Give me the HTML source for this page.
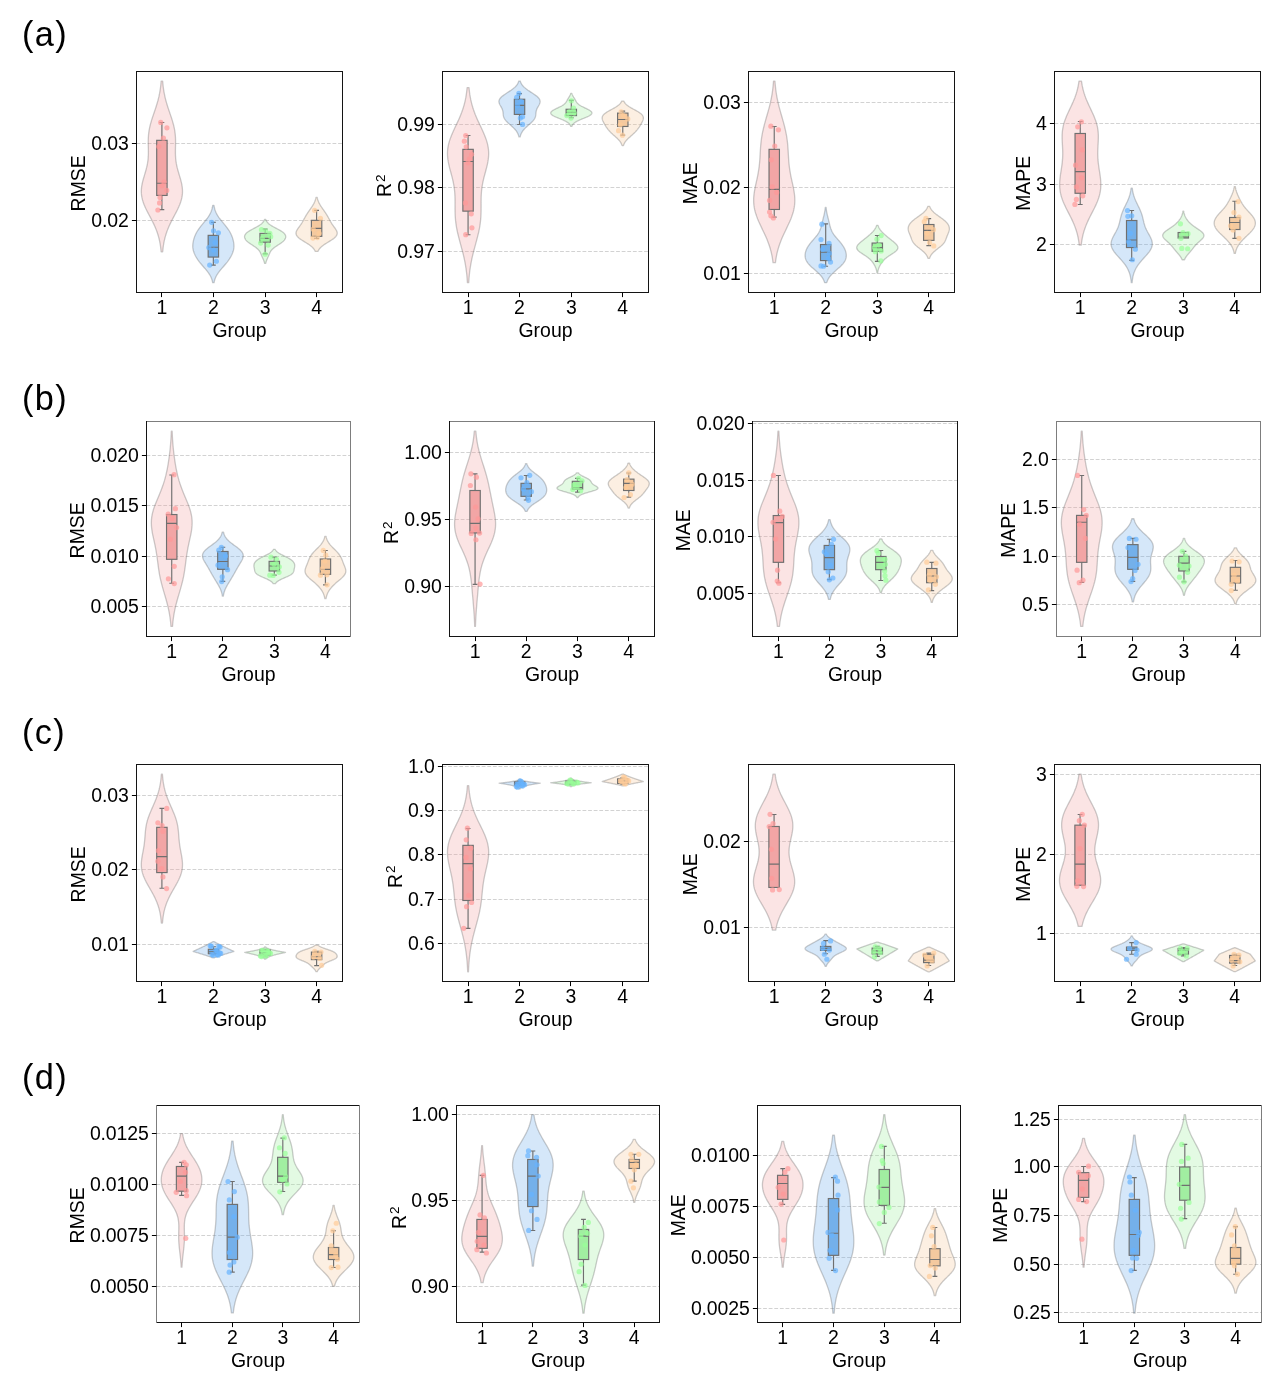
<!DOCTYPE html>
<html lang="en"><head><meta charset="utf-8"><title>Violin plots</title>
<style>html,body{margin:0;padding:0;background:#fff}svg{display:block}text{font-family:"Liberation Sans",sans-serif;fill:#000}.t{font-size:19.44px}.p{font-size:34.3px}.g{stroke:#d0d0d0;stroke-width:0.95;stroke-dasharray:3.8 1.8;fill:none}.ax{fill:none;stroke:#141414;stroke-width:1}.tk{stroke:#000;stroke-width:1}.bx{stroke:#6f6f6f;stroke-width:1.15;fill:none}</style></head><body>
<svg width="1269" height="1378" viewBox="0 0 1269 1378">
<rect width="1269" height="1378" fill="#fff"/>
<text class="p" x="21.9" y="46" letter-spacing="1.4">(a)</text>
<text class="p" x="21.9" y="410" letter-spacing="1.4">(b)</text>
<text class="p" x="21.9" y="744" letter-spacing="1.4">(c)</text>
<text class="p" x="21.9" y="1089" letter-spacing="1.4">(d)</text>
<g id="a1">
<path class="g" d="M136.5 143.5H342.5"/>
<path class="g" d="M136.5 220.5H342.5"/>
<path d="M161.17 81.03 160.99 83.19 160.77 85.35 160.51 87.51 160.2 89.67 159.85 91.83 159.45 93.99 159 96.15 158.49 98.31 157.94 100.48 157.34 102.64 156.7 104.8 156.02 106.96 155.31 109.12 154.58 111.28 153.84 113.44 153.1 115.6 152.38 117.76 151.69 119.92 151.04 122.08 150.44 124.24 149.9 126.41 149.44 128.57 149.05 130.73 148.74 132.89 148.51 135.05 148.36 137.21 148.27 139.37 148.24 141.53 148.25 143.69 148.29 145.85 148.34 148.01 148.38 150.17 148.39 152.34 148.36 154.5 148.27 156.66 148.11 158.82 147.86 160.98 147.54 163.14 147.13 165.3 146.64 167.46 146.09 169.62 145.49 171.78 144.85 173.94 144.2 176.1 143.56 178.27 142.96 180.43 142.42 182.59 141.96 184.75 141.61 186.91 141.39 189.07 141.3 191.23 141.37 193.39 141.58 195.55 141.96 197.71 142.47 199.87 143.13 202.03 143.92 204.19 144.81 206.36 145.8 208.52 146.86 210.68 147.97 212.84 149.1 215 150.25 217.16 151.38 219.32 152.49 221.48 153.55 223.64 154.55 225.8 155.5 227.96 156.37 230.12 157.16 232.29 157.88 234.45 158.52 236.61 159.08 238.77 159.57 240.93 159.99 243.09 160.35 245.25 160.66 247.41 160.91 249.57 161.12 251.73 L162.69 251.73 162.9 249.57 163.15 247.41 163.45 245.25 163.81 243.09 164.24 240.93 164.73 238.77 165.29 236.61 165.93 234.45 166.65 232.29 167.44 230.12 168.31 227.96 169.25 225.8 170.26 223.64 171.32 221.48 172.43 219.32 173.56 217.16 174.7 215 175.84 212.84 176.95 210.68 178.01 208.52 178.99 206.36 179.89 204.19 180.67 202.03 181.33 199.87 181.85 197.71 182.22 195.55 182.44 193.39 182.5 191.23 182.42 189.07 182.2 186.91 181.85 184.75 181.39 182.59 180.85 180.43 180.25 178.27 179.61 176.1 178.96 173.94 178.32 171.78 177.72 169.62 177.16 167.46 176.68 165.3 176.27 163.14 175.94 160.98 175.7 158.82 175.54 156.66 175.45 154.5 175.42 152.34 175.43 150.17 175.47 148.01 175.52 145.85 175.55 143.69 175.57 141.53 175.54 139.37 175.45 137.21 175.29 135.05 175.06 132.89 174.76 130.73 174.37 128.57 173.9 126.41 173.37 124.24 172.77 122.08 172.12 119.92 171.43 117.76 170.71 115.6 169.97 113.44 169.23 111.28 168.5 109.12 167.79 106.96 167.11 104.8 166.47 102.64 165.87 100.48 165.31 98.31 164.81 96.15 164.36 93.99 163.96 91.83 163.61 89.67 163.3 87.51 163.04 85.35 162.82 83.19 162.63 81.03Z" fill="#f2a5a5" fill-opacity="0.3" stroke="#555" stroke-opacity="0.3" stroke-width="1.3" stroke-linejoin="round"/>
<path d="M212.75 205.3 212.59 206.28 212.39 207.26 212.16 208.24 211.9 209.21 211.59 210.19 211.23 211.17 210.83 212.15 210.38 213.13 209.88 214.11 209.33 215.09 208.73 216.07 208.09 217.05 207.41 218.02 206.69 219 205.93 219.98 205.16 220.96 204.36 221.94 203.55 222.92 202.73 223.9 201.92 224.88 201.12 225.86 200.34 226.83 199.58 227.81 198.86 228.79 198.18 229.77 197.54 230.75 196.95 231.73 196.4 232.71 195.89 233.69 195.43 234.67 195.01 235.65 194.63 236.62 194.29 237.6 193.97 238.58 193.7 239.56 193.45 240.54 193.23 241.52 193.05 242.5 192.91 243.48 192.82 244.46 192.76 245.43 192.76 246.41 192.81 247.39 192.91 248.37 193.07 249.35 193.28 250.33 193.55 251.31 193.87 252.29 194.25 253.27 194.67 254.24 195.13 255.22 195.64 256.2 196.19 257.18 196.78 258.16 197.41 259.14 198.08 260.12 198.79 261.1 199.53 262.08 200.31 263.05 201.11 264.03 201.94 265.01 202.78 265.99 203.63 266.97 204.49 267.95 205.33 268.93 206.16 269.91 206.96 270.89 207.72 271.87 208.44 272.84 209.11 273.82 209.73 274.8 210.29 275.78 210.79 276.76 211.23 277.74 211.62 278.72 211.95 279.7 212.23 280.68 212.46 281.65 212.66 282.63 L214.06 282.63 214.25 281.65 214.49 280.68 214.77 279.7 215.1 278.72 215.49 277.74 215.93 276.76 216.43 275.78 216.99 274.8 217.6 273.82 218.27 272.84 219 271.87 219.76 270.89 220.56 269.91 221.39 268.93 222.23 267.95 223.09 266.97 223.94 265.99 224.78 265.01 225.61 264.03 226.41 263.05 227.19 262.08 227.93 261.1 228.63 260.12 229.3 259.14 229.93 258.16 230.53 257.18 231.08 256.2 231.59 255.22 232.05 254.24 232.47 253.27 232.84 252.29 233.17 251.31 233.43 250.33 233.65 249.35 233.81 248.37 233.91 247.39 233.96 246.41 233.95 245.43 233.9 244.46 233.8 243.48 233.66 242.5 233.48 241.52 233.27 240.54 233.02 239.56 232.74 238.58 232.43 237.6 232.08 236.62 231.7 235.65 231.28 234.67 230.82 233.69 230.32 232.71 229.77 231.73 229.17 230.75 228.54 229.77 227.85 228.79 227.13 227.81 226.38 226.83 225.6 225.86 224.8 224.88 223.99 223.9 223.17 222.92 222.36 221.94 221.56 220.96 220.78 219.98 220.03 219 219.31 218.02 218.63 217.05 217.99 216.07 217.39 215.09 216.84 214.11 216.34 213.13 215.89 212.15 215.49 211.17 215.13 210.19 214.82 209.21 214.55 208.24 214.32 207.26 214.13 206.28 213.97 205.3Z" fill="#74b0ea" fill-opacity="0.3" stroke="#555" stroke-opacity="0.3" stroke-width="1.3" stroke-linejoin="round"/>
<path d="M264.48 219.5 264.28 220.05 264.04 220.61 263.74 221.16 263.39 221.72 262.97 222.28 262.48 222.83 261.91 223.39 261.28 223.94 260.56 224.5 259.78 225.06 258.92 225.61 258 226.17 257.03 226.72 256.02 227.28 254.98 227.84 253.92 228.39 252.87 228.95 251.83 229.51 250.82 230.06 249.86 230.62 248.96 231.17 248.13 231.73 247.37 232.29 246.71 232.84 246.12 233.4 245.64 233.95 245.24 234.51 244.93 235.07 244.72 235.62 244.59 236.18 244.55 236.73 244.59 237.29 244.7 237.85 244.9 238.4 245.17 238.96 245.52 239.51 245.93 240.07 246.42 240.63 246.98 241.18 247.59 241.74 248.27 242.29 249 242.85 249.78 243.41 250.59 243.96 251.43 244.52 252.28 245.07 253.13 245.63 253.97 246.19 254.79 246.74 255.58 247.3 256.31 247.86 257 248.41 257.63 248.97 258.19 249.52 258.69 250.08 259.14 250.64 259.53 251.19 259.87 251.75 260.17 252.3 260.44 252.86 260.69 253.42 260.92 253.97 261.15 254.53 261.38 255.08 261.61 255.64 261.85 256.2 262.09 256.75 262.34 257.31 262.6 257.86 262.85 258.42 263.1 258.98 263.34 259.53 263.58 260.09 263.79 260.64 264 261.2 264.18 261.76 264.35 262.31 264.49 262.87 264.62 263.42 L265.68 263.42 265.8 262.87 265.95 262.31 266.11 261.76 266.3 261.2 266.5 260.64 266.72 260.09 266.95 259.53 267.2 258.98 267.45 258.42 267.7 257.86 267.95 257.31 268.2 256.75 268.45 256.2 268.68 255.64 268.91 255.08 269.14 254.53 269.37 253.97 269.61 253.42 269.85 252.86 270.12 252.3 270.43 251.75 270.77 251.19 271.16 250.64 271.6 250.08 272.1 249.52 272.67 248.97 273.3 248.41 273.98 247.86 274.72 247.3 275.5 246.74 276.32 246.19 277.16 245.63 278.02 245.07 278.87 244.52 279.71 243.96 280.52 243.41 281.29 242.85 282.02 242.29 282.7 241.74 283.32 241.18 283.87 240.63 284.36 240.07 284.78 239.51 285.12 238.96 285.39 238.4 285.59 237.85 285.71 237.29 285.75 236.73 285.7 236.18 285.58 235.62 285.36 235.07 285.06 234.51 284.66 233.95 284.17 233.4 283.59 232.84 282.92 232.29 282.17 231.73 281.33 231.17 280.43 230.62 279.47 230.06 278.47 229.51 277.43 228.95 276.37 228.39 275.32 227.84 274.28 227.28 273.26 226.72 272.29 226.17 271.37 225.61 270.52 225.06 269.73 224.5 269.02 223.94 268.38 223.39 267.82 222.83 267.33 222.28 266.91 221.72 266.55 221.16 266.26 220.61 266.01 220.05 265.81 219.5Z" fill="#a1eea1" fill-opacity="0.3" stroke="#555" stroke-opacity="0.3" stroke-width="1.3" stroke-linejoin="round"/>
<path d="M316 197.45 315.86 198.13 315.7 198.81 315.51 199.5 315.3 200.18 315.06 200.86 314.79 201.55 314.49 202.23 314.17 202.91 313.82 203.59 313.44 204.28 313.05 204.96 312.63 205.64 312.19 206.33 311.74 207.01 311.28 207.69 310.81 208.37 310.34 209.06 309.86 209.74 309.38 210.42 308.91 211.11 308.44 211.79 307.97 212.47 307.52 213.16 307.07 213.84 306.64 214.52 306.22 215.2 305.81 215.89 305.41 216.57 305.02 217.25 304.64 217.94 304.27 218.62 303.91 219.3 303.54 219.98 303.17 220.67 302.79 221.35 302.4 222.03 302 222.72 301.58 223.4 301.14 224.08 300.68 224.76 300.21 225.45 299.72 226.13 299.22 226.81 298.72 227.5 298.22 228.18 297.75 228.86 297.3 229.55 296.9 230.23 296.56 230.91 296.29 231.59 296.1 232.28 296 232.96 296.01 233.64 296.14 234.33 296.39 235.01 296.76 235.69 297.25 236.37 297.87 237.06 298.59 237.74 299.42 238.42 300.34 239.11 301.33 239.79 302.38 240.47 303.47 241.15 304.58 241.84 305.7 242.52 306.8 243.2 307.87 243.89 308.89 244.57 309.86 245.25 310.76 245.94 311.59 246.62 312.34 247.3 313.02 247.98 313.62 248.67 314.14 249.35 314.59 250.03 314.98 250.72 315.3 251.4 L317.9 251.4 318.23 250.72 318.61 250.03 319.06 249.35 319.59 248.67 320.18 247.98 320.86 247.3 321.61 246.62 322.44 245.94 323.35 245.25 324.31 244.57 325.34 243.89 326.41 243.2 327.51 242.52 328.62 241.84 329.73 241.15 330.82 240.47 331.87 239.79 332.86 239.11 333.78 238.42 334.61 237.74 335.34 237.06 335.95 236.37 336.44 235.69 336.81 235.01 337.06 234.33 337.19 233.64 337.2 232.96 337.11 232.28 336.92 231.59 336.65 230.91 336.3 230.23 335.9 229.55 335.46 228.86 334.98 228.18 334.49 227.5 333.99 226.81 333.49 226.13 333 225.45 332.52 224.76 332.06 224.08 331.63 223.4 331.2 222.72 330.8 222.03 330.41 221.35 330.04 220.67 329.67 219.98 329.3 219.3 328.93 218.62 328.56 217.94 328.18 217.25 327.8 216.57 327.4 215.89 326.99 215.2 326.57 214.52 326.13 213.84 325.69 213.16 325.23 212.47 324.77 211.79 324.3 211.11 323.82 210.42 323.34 209.74 322.87 209.06 322.39 208.37 321.92 207.69 321.46 207.01 321.01 206.33 320.57 205.64 320.16 204.96 319.76 204.28 319.39 203.59 319.04 202.91 318.71 202.23 318.42 201.55 318.15 200.86 317.91 200.18 317.69 199.5 317.51 198.81 317.35 198.13 317.21 197.45Z" fill="#f4c99f" fill-opacity="0.3" stroke="#555" stroke-opacity="0.3" stroke-width="1.3" stroke-linejoin="round"/>
<rect x="156.7" y="140.32" width="10.4" height="55.12" fill="#f2a5a5" stroke="#6f6f6f" stroke-width="1.15"/>
<path class="bx" d="M156.7 183.25H167.1M161.9 140.32V122.45M159.5 122.45H164.3M161.9 195.44V209.64M159.5 209.64H164.3"/>
<rect x="208.16" y="235.36" width="10.4" height="21.71" fill="#74b0ea" stroke="#6f6f6f" stroke-width="1.15"/>
<path class="bx" d="M208.16 247.22H218.56M213.36 235.36V222.34M210.96 222.34H215.76M213.36 257.08V265.1M210.96 265.1H215.76"/>
<rect x="259.95" y="233.36" width="10.4" height="8.85" fill="#a1eea1" stroke="#6f6f6f" stroke-width="1.15"/>
<path class="bx" d="M259.95 238.37H270.35M265.15 233.36V229.18M262.75 229.18H267.55M265.15 242.21V253.9M262.75 253.9H267.55"/>
<rect x="311.4" y="220.33" width="10.4" height="16.03" fill="#f4c99f" stroke="#6f6f6f" stroke-width="1.15"/>
<path class="bx" d="M311.4 228.35H321.8M316.6 220.33V210.31M314.2 210.31H319M316.6 236.37V238.37M314.2 238.37H319"/>
<g fill="#ff9999" fill-opacity="0.7">
<circle cx="160.73" cy="122.45" r="2.6"/>
<circle cx="166.92" cy="127.8" r="2.6"/>
<circle cx="163.41" cy="138.15" r="2.6"/>
<circle cx="158.73" cy="146.5" r="2.6"/>
<circle cx="164.08" cy="182.08" r="2.6"/>
<circle cx="162.07" cy="185.76" r="2.6"/>
<circle cx="166.75" cy="190.43" r="2.6"/>
<circle cx="160.07" cy="197.45" r="2.6"/>
<circle cx="159.57" cy="202.96" r="2.6"/>
<circle cx="157.89" cy="209.98" r="2.6"/>
</g>
<g fill="#66b3ff" fill-opacity="0.7">
<circle cx="211.69" cy="222.34" r="2.6"/>
<circle cx="213.53" cy="230.85" r="2.6"/>
<circle cx="218.37" cy="232.86" r="2.6"/>
<circle cx="215.03" cy="242.55" r="2.6"/>
<circle cx="208.85" cy="247.56" r="2.6"/>
<circle cx="213.86" cy="250.06" r="2.6"/>
<circle cx="216.37" cy="261.25" r="2.6"/>
<circle cx="209.68" cy="265.1" r="2.6"/>
</g>
<g fill="#99ff99" fill-opacity="0.7">
<circle cx="261.47" cy="229.68" r="2.6"/>
<circle cx="265.65" cy="230.85" r="2.6"/>
<circle cx="269.83" cy="233.36" r="2.6"/>
<circle cx="270.66" cy="236.7" r="2.6"/>
<circle cx="262.31" cy="238.37" r="2.6"/>
<circle cx="260.64" cy="243.05" r="2.6"/>
<circle cx="268.15" cy="245.05" r="2.6"/>
<circle cx="265.15" cy="254.24" r="2.6"/>
</g>
<g fill="#ffcc99" fill-opacity="0.7">
<circle cx="314.6" cy="210.31" r="2.6"/>
<circle cx="320.44" cy="218.33" r="2.6"/>
<circle cx="313.26" cy="229.18" r="2.6"/>
<circle cx="319.11" cy="233.36" r="2.6"/>
<circle cx="312.93" cy="238.04" r="2.6"/>
<circle cx="317.44" cy="237.54" r="2.6"/>
</g>
<path class="ax" d="M136 71.5H343"/>
<path class="ax" d="M136 292.5H343"/>
<path class="ax" d="M136.5 71V293"/>
<path class="ax" d="M342.5 71V293"/>
<path class="tk" d="M131.9 143.5H136.5"/>
<text class="t" text-anchor="end" letter-spacing="-0.13" x="128.6" y="150.3">0.03</text>
<path class="tk" d="M131.9 220.5H136.5"/>
<text class="t" text-anchor="end" letter-spacing="-0.13" x="128.6" y="227.3">0.02</text>
<path class="tk" d="M161.5 292.5V297.1"/>
<text class="t" text-anchor="middle" x="161.9" y="314.4">1</text>
<path class="tk" d="M213.5 292.5V297.1"/>
<text class="t" text-anchor="middle" x="213.36" y="314.4">2</text>
<path class="tk" d="M265.5 292.5V297.1"/>
<text class="t" text-anchor="middle" x="265.15" y="314.4">3</text>
<path class="tk" d="M316.5 292.5V297.1"/>
<text class="t" text-anchor="middle" x="316.6" y="314.4">4</text>
<text class="t" text-anchor="middle" x="239.5" y="337.1">Group</text>
<text class="t" text-anchor="middle" transform="translate(84.57 183.3) rotate(-90)" x="0" y="0">RMSE</text>
</g>
<g id="a2">
<path class="g" d="M442.5 124.5H648.5"/>
<path class="g" d="M442.5 187.5H648.5"/>
<path class="g" d="M442.5 251.5H648.5"/>
<path d="M467.13 87.54 466.88 90.01 466.59 92.48 466.23 94.95 465.82 97.42 465.33 99.89 464.77 102.36 464.13 104.83 463.41 107.3 462.61 109.77 461.73 112.24 460.77 114.71 459.75 117.18 458.67 119.65 457.54 122.12 456.39 124.59 455.23 127.05 454.07 129.52 452.94 131.99 451.87 134.46 450.88 136.93 449.98 139.4 449.2 141.87 448.55 144.34 448.04 146.81 447.69 149.28 447.5 151.75 447.47 154.22 447.59 156.69 447.84 159.16 448.22 161.63 448.71 164.1 449.28 166.57 449.91 169.04 450.57 171.51 451.24 173.98 451.89 176.44 452.51 178.91 453.08 181.38 453.59 183.85 454.01 186.32 454.36 188.79 454.63 191.26 454.82 193.73 454.95 196.2 455.02 198.67 455.05 201.14 455.05 203.61 455.04 206.08 455.04 208.55 455.07 211.02 455.12 213.49 455.23 215.96 455.39 218.43 455.62 220.9 455.91 223.37 456.27 225.83 456.7 228.3 457.18 230.77 457.73 233.24 458.32 235.71 458.94 238.18 459.6 240.65 460.26 243.12 460.94 245.59 461.61 248.06 462.26 250.53 462.9 253 463.5 255.47 464.07 257.94 464.6 260.41 465.08 262.88 465.52 265.35 465.91 267.82 466.26 270.29 466.57 272.76 466.84 275.22 467.06 277.69 467.26 280.16 467.42 282.63 L468.72 282.63 468.88 280.16 469.07 277.69 469.3 275.22 469.57 272.76 469.87 270.29 470.22 267.82 470.62 265.35 471.06 262.88 471.54 260.41 472.07 257.94 472.64 255.47 473.24 253 473.87 250.53 474.53 248.06 475.2 245.59 475.87 243.12 476.54 240.65 477.19 238.18 477.82 235.71 478.41 233.24 478.95 230.77 479.44 228.3 479.87 225.83 480.23 223.37 480.52 220.9 480.75 218.43 480.91 215.96 481.01 213.49 481.07 211.02 481.09 208.55 481.09 206.08 481.09 203.61 481.09 201.14 481.12 198.67 481.19 196.2 481.32 193.73 481.51 191.26 481.78 188.79 482.12 186.32 482.55 183.85 483.05 181.38 483.62 178.91 484.24 176.44 484.9 173.98 485.57 171.51 486.23 169.04 486.86 166.57 487.43 164.1 487.91 161.63 488.29 159.16 488.55 156.69 488.67 154.22 488.63 151.75 488.44 149.28 488.09 146.81 487.59 144.34 486.94 141.87 486.16 139.4 485.26 136.93 484.26 134.46 483.19 131.99 482.07 129.52 480.91 127.05 479.75 124.59 478.59 122.12 477.47 119.65 476.39 117.18 475.36 114.71 474.41 112.24 473.53 109.77 472.73 107.3 472.01 104.83 471.37 102.36 470.81 99.89 470.32 97.42 469.9 94.95 469.55 92.48 469.25 90.01 469.01 87.54Z" fill="#f2a5a5" fill-opacity="0.3" stroke="#555" stroke-opacity="0.3" stroke-width="1.3" stroke-linejoin="round"/>
<path d="M518.75 81.03 518.53 81.73 518.27 82.44 517.95 83.15 517.58 83.85 517.14 84.56 516.63 85.27 516.05 85.97 515.4 86.68 514.67 87.38 513.87 88.09 513 88.8 512.06 89.5 511.07 90.21 510.04 90.91 508.97 91.62 507.88 92.33 506.79 93.03 505.72 93.74 504.67 94.45 503.67 95.15 502.74 95.86 501.88 96.56 501.12 97.27 500.46 97.98 499.91 98.68 499.48 99.39 499.17 100.1 498.99 100.8 498.92 101.51 498.97 102.21 499.12 102.92 499.35 103.63 499.66 104.33 500.01 105.04 500.41 105.74 500.82 106.45 501.22 107.16 501.61 107.86 501.96 108.57 502.26 109.28 502.52 109.98 502.73 110.69 502.88 111.39 502.99 112.1 503.07 112.81 503.14 113.51 503.2 114.22 503.27 114.92 503.38 115.63 503.53 116.34 503.73 117.04 504 117.75 504.34 118.46 504.76 119.16 505.26 119.87 505.82 120.57 506.44 121.28 507.13 121.99 507.85 122.69 508.62 123.4 509.4 124.11 510.2 124.81 510.99 125.52 511.78 126.22 512.55 126.93 513.29 127.64 514 128.34 514.66 129.05 515.29 129.75 515.86 130.46 516.39 131.17 516.86 131.87 517.29 132.58 517.66 133.29 517.99 133.99 518.28 134.7 518.52 135.4 518.72 136.11 518.89 136.82 L520.16 136.82 520.33 136.11 520.53 135.4 520.77 134.7 521.05 133.99 521.38 133.29 521.76 132.58 522.18 131.87 522.66 131.17 523.19 130.46 523.76 129.75 524.38 129.05 525.05 128.34 525.76 127.64 526.5 126.93 527.27 126.22 528.05 125.52 528.85 124.81 529.65 124.11 530.43 123.4 531.19 122.69 531.92 121.99 532.6 121.28 533.23 120.57 533.79 119.87 534.28 119.16 534.7 118.46 535.05 117.75 535.32 117.04 535.52 116.34 535.67 115.63 535.77 114.92 535.85 114.22 535.91 113.51 535.97 112.81 536.05 112.1 536.17 111.39 536.32 110.69 536.53 109.98 536.78 109.28 537.09 108.57 537.44 107.86 537.83 107.16 538.23 106.45 538.64 105.74 539.03 105.04 539.39 104.33 539.7 103.63 539.93 102.92 540.08 102.21 540.12 101.51 540.06 100.8 539.87 100.1 539.57 99.39 539.14 98.68 538.59 97.98 537.93 97.27 537.16 96.56 536.31 95.86 535.37 95.15 534.37 94.45 533.33 93.74 532.25 93.03 531.16 92.33 530.08 91.62 529.01 90.91 527.97 90.21 526.99 89.5 526.05 88.8 525.18 88.09 524.38 87.38 523.65 86.68 522.99 85.97 522.41 85.27 521.91 84.56 521.47 83.85 521.09 83.15 520.78 82.44 520.51 81.73 520.3 81.03Z" fill="#74b0ea" fill-opacity="0.3" stroke="#555" stroke-opacity="0.3" stroke-width="1.3" stroke-linejoin="round"/>
<path d="M570.72 93.39 570.59 93.81 570.45 94.23 570.28 94.64 570.1 95.06 569.9 95.48 569.69 95.9 569.46 96.32 569.22 96.74 568.97 97.16 568.72 97.57 568.46 97.99 568.21 98.41 567.96 98.83 567.71 99.25 567.47 99.67 567.24 100.09 567.01 100.51 566.77 100.92 566.53 101.34 566.28 101.76 566 102.18 565.71 102.6 565.37 103.02 565 103.44 564.57 103.85 564.1 104.27 563.56 104.69 562.97 105.11 562.31 105.53 561.6 105.95 560.84 106.37 560.03 106.78 559.19 107.2 558.32 107.62 557.44 108.04 556.56 108.46 555.7 108.88 554.86 109.3 554.06 109.72 553.33 110.13 552.66 110.55 552.08 110.97 551.59 111.39 551.2 111.81 550.92 112.23 550.76 112.65 550.71 113.06 550.79 113.48 550.99 113.9 551.31 114.32 551.75 114.74 552.29 115.16 552.94 115.58 553.68 115.99 554.5 116.41 555.38 116.83 556.33 117.25 557.31 117.67 558.33 118.09 559.35 118.51 560.38 118.93 561.39 119.34 562.38 119.76 563.34 120.18 564.24 120.6 565.1 121.02 565.9 121.44 566.63 121.86 567.3 122.27 567.9 122.69 568.44 123.11 568.92 123.53 569.33 123.95 569.69 124.37 569.99 124.79 570.25 125.2 570.47 125.62 570.65 126.04 570.79 126.46 L571.83 126.46 571.98 126.04 572.16 125.62 572.37 125.2 572.63 124.79 572.94 124.37 573.29 123.95 573.71 123.53 574.18 123.11 574.72 122.69 575.32 122.27 575.99 121.86 576.73 121.44 577.53 121.02 578.38 120.6 579.29 120.18 580.24 119.76 581.23 119.34 582.24 118.93 583.27 118.51 584.3 118.09 585.31 117.67 586.3 117.25 587.24 116.83 588.13 116.41 588.95 115.99 589.69 115.58 590.33 115.16 590.88 114.74 591.31 114.32 591.63 113.9 591.83 113.48 591.91 113.06 591.87 112.65 591.71 112.23 591.43 111.81 591.04 111.39 590.55 110.97 589.96 110.55 589.3 110.13 588.56 109.72 587.77 109.3 586.93 108.88 586.06 108.46 585.18 108.04 584.3 107.62 583.43 107.2 582.59 106.78 581.78 106.37 581.02 105.95 580.31 105.53 579.66 105.11 579.06 104.69 578.53 104.27 578.05 103.85 577.63 103.44 577.25 103.02 576.92 102.6 576.62 102.18 576.35 101.76 576.09 101.34 575.85 100.92 575.62 100.51 575.39 100.09 575.15 99.67 574.91 99.25 574.67 98.83 574.42 98.41 574.16 97.99 573.91 97.57 573.65 97.16 573.41 96.74 573.17 96.32 572.94 95.9 572.72 95.48 572.52 95.06 572.34 94.64 572.18 94.23 572.03 93.81 571.9 93.39Z" fill="#a1eea1" fill-opacity="0.3" stroke="#555" stroke-opacity="0.3" stroke-width="1.3" stroke-linejoin="round"/>
<path d="M621.75 101.07 621.48 101.64 621.17 102.2 620.8 102.77 620.37 103.33 619.87 103.89 619.3 104.46 618.66 105.02 617.95 105.59 617.17 106.15 616.33 106.72 615.42 107.28 614.47 107.85 613.47 108.41 612.45 108.98 611.41 109.54 610.37 110.1 609.34 110.67 608.35 111.23 607.39 111.8 606.49 112.36 605.66 112.93 604.91 113.49 604.25 114.06 603.67 114.62 603.19 115.18 602.81 115.75 602.52 116.31 602.32 116.88 602.2 117.44 602.17 118.01 602.2 118.57 602.29 119.14 602.44 119.7 602.62 120.27 602.84 120.83 603.09 121.39 603.37 121.96 603.65 122.52 603.95 123.09 604.26 123.65 604.58 124.22 604.9 124.78 605.24 125.35 605.58 125.91 605.93 126.48 606.29 127.04 606.67 127.6 607.07 128.17 607.48 128.73 607.91 129.3 608.37 129.86 608.84 130.43 609.34 130.99 609.86 131.56 610.4 132.12 610.96 132.68 611.54 133.25 612.14 133.81 612.75 134.38 613.38 134.94 614.01 135.51 614.65 136.07 615.28 136.64 615.92 137.2 616.54 137.77 617.14 138.33 617.73 138.89 618.28 139.46 618.81 140.02 619.31 140.59 619.77 141.15 620.19 141.72 620.57 142.28 620.91 142.85 621.22 143.41 621.48 143.98 621.72 144.54 621.91 145.1 622.08 145.67 L623.45 145.67 623.62 145.1 623.82 144.54 624.05 143.98 624.32 143.41 624.62 142.85 624.96 142.28 625.34 141.72 625.77 141.15 626.22 140.59 626.72 140.02 627.25 139.46 627.81 138.89 628.39 138.33 629 137.77 629.62 137.2 630.25 136.64 630.89 136.07 631.52 135.51 632.16 134.94 632.78 134.38 633.4 133.81 633.99 133.25 634.57 132.68 635.14 132.12 635.68 131.56 636.2 130.99 636.69 130.43 637.17 129.86 637.62 129.3 638.05 128.73 638.47 128.17 638.86 127.6 639.24 127.04 639.6 126.48 639.96 125.91 640.3 125.35 640.63 124.78 640.96 124.22 641.27 123.65 641.58 123.09 641.88 122.52 642.17 121.96 642.44 121.39 642.69 120.83 642.91 120.27 643.1 119.7 643.24 119.14 643.34 118.57 643.37 118.01 643.33 117.44 643.21 116.88 643.01 116.31 642.72 115.75 642.34 115.18 641.86 114.62 641.29 114.06 640.62 113.49 639.87 112.93 639.04 112.36 638.14 111.8 637.19 111.23 636.19 110.67 635.16 110.1 634.12 109.54 633.08 108.98 632.06 108.41 631.06 107.85 630.11 107.28 629.21 106.72 628.36 106.15 627.58 105.59 626.87 105.02 626.23 104.46 625.67 103.89 625.17 103.33 624.73 102.77 624.36 102.2 624.05 101.64 623.79 101.07Z" fill="#f4c99f" fill-opacity="0.3" stroke="#555" stroke-opacity="0.3" stroke-width="1.3" stroke-linejoin="round"/>
<rect x="462.87" y="149.34" width="10.4" height="61.8" fill="#f2a5a5" stroke="#6f6f6f" stroke-width="1.15"/>
<path class="bx" d="M462.87 161.54H473.27M468.07 149.34V135.48M465.67 135.48H470.47M468.07 211.14V234.7M465.67 234.7H470.47"/>
<rect x="514.32" y="99.23" width="10.4" height="15.2" fill="#74b0ea" stroke="#6f6f6f" stroke-width="1.15"/>
<path class="bx" d="M514.32 105.41H524.72M519.52 99.23V93.56M517.12 93.56H521.92M519.52 114.43V124.46M517.12 124.46H521.92"/>
<rect x="566.11" y="109.26" width="10.4" height="6.35" fill="#a1eea1" stroke="#6f6f6f" stroke-width="1.15"/>
<path class="bx" d="M566.11 112.43H576.51M571.31 109.26V100.4M568.91 100.4H573.71M571.31 115.6V117.77M568.91 117.77H573.71"/>
<rect x="617.57" y="113.1" width="10.4" height="13.36" fill="#f4c99f" stroke="#6f6f6f" stroke-width="1.15"/>
<path class="bx" d="M617.57 119.45H627.97M622.77 113.1V111.09M620.37 111.09H625.17M622.77 126.46V135.15M620.37 135.15H625.17"/>
<g fill="#ff9999" fill-opacity="0.7">
<circle cx="465.73" cy="135.48" r="2.6"/>
<circle cx="464.39" cy="141.16" r="2.6"/>
<circle cx="466.23" cy="146.84" r="2.6"/>
<circle cx="471.58" cy="154.35" r="2.6"/>
<circle cx="469.41" cy="159.03" r="2.6"/>
<circle cx="467.9" cy="162.87" r="2.6"/>
<circle cx="465.4" cy="202.96" r="2.6"/>
<circle cx="471.24" cy="213.82" r="2.6"/>
<circle cx="471.91" cy="227.85" r="2.6"/>
<circle cx="465.73" cy="234.7" r="2.6"/>
</g>
<g fill="#66b3ff" fill-opacity="0.7">
<circle cx="518.86" cy="93.39" r="2.6"/>
<circle cx="516.68" cy="97.23" r="2.6"/>
<circle cx="520.86" cy="101.41" r="2.6"/>
<circle cx="517.52" cy="105.58" r="2.6"/>
<circle cx="522.53" cy="116.77" r="2.6"/>
<circle cx="520.36" cy="118.11" r="2.6"/>
<circle cx="522.53" cy="124.46" r="2.6"/>
</g>
<g fill="#99ff99" fill-opacity="0.7">
<circle cx="571.31" cy="100.74" r="2.6"/>
<circle cx="573.48" cy="108.09" r="2.6"/>
<circle cx="574.32" cy="113.1" r="2.6"/>
<circle cx="566.8" cy="115.6" r="2.6"/>
<circle cx="570.98" cy="118.11" r="2.6"/>
<circle cx="569.31" cy="111.76" r="2.6"/>
</g>
<g fill="#ffcc99" fill-opacity="0.7">
<circle cx="621.1" cy="111.76" r="2.6"/>
<circle cx="627.78" cy="118.94" r="2.6"/>
<circle cx="620.26" cy="124.79" r="2.6"/>
<circle cx="618.59" cy="130.64" r="2.6"/>
<circle cx="622.43" cy="135.15" r="2.6"/>
<circle cx="623.6" cy="115.6" r="2.6"/>
</g>
<path class="ax" d="M442 71.5H649"/>
<path class="ax" d="M442 292.5H649"/>
<path class="ax" d="M442.5 71V293"/>
<path class="ax" d="M648.5 71V293"/>
<path class="tk" d="M437.9 124.5H442.5"/>
<text class="t" text-anchor="end" letter-spacing="-0.13" x="434.6" y="131.3">0.99</text>
<path class="tk" d="M437.9 187.5H442.5"/>
<text class="t" text-anchor="end" letter-spacing="-0.13" x="434.6" y="194.3">0.98</text>
<path class="tk" d="M437.9 251.5H442.5"/>
<text class="t" text-anchor="end" letter-spacing="-0.13" x="434.6" y="258.3">0.97</text>
<path class="tk" d="M468.5 292.5V297.1"/>
<text class="t" text-anchor="middle" x="468.07" y="314.4">1</text>
<path class="tk" d="M519.5 292.5V297.1"/>
<text class="t" text-anchor="middle" x="519.52" y="314.4">2</text>
<path class="tk" d="M571.5 292.5V297.1"/>
<text class="t" text-anchor="middle" x="571.31" y="314.4">3</text>
<path class="tk" d="M622.5 292.5V297.1"/>
<text class="t" text-anchor="middle" x="622.77" y="314.4">4</text>
<text class="t" text-anchor="middle" x="545.5" y="337.1">Group</text>
<text class="t" transform="translate(391.27 196.9) rotate(-90)" x="0" y="0">R<tspan dx="0.8" dy="-6.7" font-size="13.6px">2</tspan></text>
</g>
<g id="a3">
<path class="g" d="M748.5 102.5H954.5"/>
<path class="g" d="M748.5 187.5H954.5"/>
<path class="g" d="M748.5 273.5H954.5"/>
<path d="M773.52 81.03 773.35 83.33 773.14 85.62 772.9 87.92 772.62 90.22 772.3 92.52 771.94 94.82 771.54 97.12 771.09 99.41 770.6 101.71 770.07 104.01 769.5 106.31 768.9 108.61 768.27 110.91 767.62 113.2 766.96 115.5 766.3 117.8 765.64 120.1 765 122.4 764.38 124.69 763.79 126.99 763.24 129.29 762.73 131.59 762.27 133.89 761.86 136.19 761.5 138.48 761.2 140.78 760.94 143.08 760.72 145.38 760.54 147.68 760.39 149.98 760.25 152.27 760.12 154.57 759.99 156.87 759.84 159.17 759.67 161.47 759.46 163.77 759.22 166.06 758.92 168.36 758.58 170.66 758.19 172.96 757.76 175.26 757.3 177.55 756.81 179.85 756.3 182.15 755.79 184.45 755.3 186.75 754.84 189.05 754.44 191.34 754.1 193.64 753.84 195.94 753.68 198.24 753.64 200.54 753.71 202.84 753.9 205.13 754.23 207.43 754.68 209.73 755.26 212.03 755.95 214.33 756.75 216.62 757.64 218.92 758.6 221.22 759.63 223.52 760.7 225.82 761.8 228.12 762.9 230.41 764 232.71 765.06 235.01 766.09 237.31 767.07 239.61 767.98 241.91 768.83 244.2 769.6 246.5 770.31 248.8 770.93 251.1 771.48 253.4 771.96 255.69 772.38 257.99 772.73 260.29 773.03 262.59 L775.44 262.59 775.74 260.29 776.09 257.99 776.51 255.69 776.99 253.4 777.54 251.1 778.17 248.8 778.87 246.5 779.64 244.2 780.49 241.91 781.41 239.61 782.38 237.31 783.41 235.01 784.48 232.71 785.57 230.41 786.67 228.12 787.77 225.82 788.84 223.52 789.87 221.22 790.84 218.92 791.73 216.62 792.52 214.33 793.22 212.03 793.79 209.73 794.24 207.43 794.57 205.13 794.76 202.84 794.84 200.54 794.79 198.24 794.63 195.94 794.37 193.64 794.03 191.34 793.63 189.05 793.17 186.75 792.68 184.45 792.17 182.15 791.67 179.85 791.17 177.55 790.71 175.26 790.28 172.96 789.89 170.66 789.55 168.36 789.26 166.06 789.01 163.77 788.8 161.47 788.63 159.17 788.48 156.87 788.35 154.57 788.22 152.27 788.08 149.98 787.93 147.68 787.75 145.38 787.53 143.08 787.27 140.78 786.97 138.48 786.61 136.19 786.2 133.89 785.74 131.59 785.23 129.29 784.68 126.99 784.09 124.69 783.47 122.4 782.83 120.1 782.17 117.8 781.51 115.5 780.85 113.2 780.2 110.91 779.57 108.61 778.97 106.31 778.41 104.01 777.87 101.71 777.38 99.41 776.93 97.12 776.53 94.82 776.17 92.52 775.85 90.22 775.57 87.92 775.33 85.62 775.12 83.33 774.95 81.03Z" fill="#f2a5a5" fill-opacity="0.3" stroke="#555" stroke-opacity="0.3" stroke-width="1.3" stroke-linejoin="round"/>
<path d="M825.3 207.47 825.2 208.42 825.09 209.37 824.95 210.32 824.8 211.28 824.63 212.23 824.44 213.18 824.23 214.13 824.01 215.08 823.79 216.03 823.55 216.98 823.31 217.94 823.07 218.89 822.83 219.84 822.6 220.79 822.37 221.74 822.15 222.69 821.92 223.64 821.7 224.6 821.47 225.55 821.22 226.5 820.96 227.45 820.66 228.4 820.32 229.35 819.93 230.3 819.5 231.26 819 232.21 818.45 233.16 817.83 234.11 817.16 235.06 816.44 236.01 815.67 236.96 814.87 237.92 814.05 238.87 813.22 239.82 812.39 240.77 811.57 241.72 810.78 242.67 810.02 243.62 809.3 244.58 808.64 245.53 808.02 246.48 807.46 247.43 806.95 248.38 806.51 249.33 806.12 250.28 805.79 251.24 805.52 252.19 805.31 253.14 805.17 254.09 805.09 255.04 805.09 255.99 805.17 256.94 805.32 257.9 805.57 258.85 805.91 259.8 806.35 260.75 806.89 261.7 807.53 262.65 808.26 263.6 809.09 264.56 809.99 265.51 810.97 266.46 812 267.41 813.07 268.36 814.17 269.31 815.26 270.26 816.35 271.22 817.4 272.17 818.42 273.12 819.37 274.07 820.26 275.02 821.07 275.97 821.81 276.92 822.46 277.88 823.04 278.83 823.54 279.78 823.96 280.73 824.32 281.68 824.61 282.63 L826.77 282.63 827.06 281.68 827.42 280.73 827.84 279.78 828.34 278.83 828.92 277.88 829.57 276.92 830.31 275.97 831.12 275.02 832.01 274.07 832.96 273.12 833.98 272.17 835.03 271.22 836.12 270.26 837.22 269.31 838.31 268.36 839.38 267.41 840.41 266.46 841.39 265.51 842.29 264.56 843.12 263.6 843.85 262.65 844.49 261.7 845.03 260.75 845.47 259.8 845.81 258.85 846.06 257.9 846.22 256.94 846.29 255.99 846.29 255.04 846.21 254.09 846.07 253.14 845.86 252.19 845.59 251.24 845.26 250.28 844.87 249.33 844.43 248.38 843.92 247.43 843.36 246.48 842.75 245.53 842.08 244.58 841.36 243.62 840.6 242.67 839.81 241.72 838.99 240.77 838.16 239.82 837.33 238.87 836.51 237.92 835.71 236.96 834.94 236.01 834.22 235.06 833.55 234.11 832.93 233.16 832.38 232.21 831.88 231.26 831.45 230.3 831.06 229.35 830.72 228.4 830.43 227.45 830.16 226.5 829.91 225.55 829.68 224.6 829.46 223.64 829.23 222.69 829.01 221.74 828.78 220.79 828.55 219.84 828.31 218.89 828.07 217.94 827.83 216.98 827.6 216.03 827.37 215.08 827.15 214.13 826.94 213.18 826.75 212.23 826.58 211.28 826.43 210.32 826.29 209.37 826.18 208.42 826.08 207.47Z" fill="#74b0ea" fill-opacity="0.3" stroke="#555" stroke-opacity="0.3" stroke-width="1.3" stroke-linejoin="round"/>
<path d="M876.55 225.34 876.37 225.94 876.16 226.55 875.91 227.15 875.63 227.75 875.31 228.35 874.95 228.96 874.55 229.56 874.11 230.16 873.64 230.77 873.13 231.37 872.58 231.97 872 232.57 871.39 233.18 870.75 233.78 870.1 234.38 869.42 234.98 868.72 235.59 868.01 236.19 867.29 236.79 866.56 237.39 865.81 238 865.06 238.6 864.3 239.2 863.55 239.8 862.79 240.41 862.04 241.01 861.3 241.61 860.58 242.21 859.89 242.82 859.24 243.42 858.64 244.02 858.09 244.62 857.63 245.23 857.24 245.83 856.96 246.43 856.78 247.03 856.71 247.64 856.77 248.24 856.95 248.84 857.25 249.45 857.67 250.05 858.21 250.65 858.85 251.25 859.58 251.86 860.38 252.46 861.25 253.06 862.15 253.66 863.08 254.27 864.02 254.87 864.94 255.47 865.85 256.07 866.72 256.68 867.56 257.28 868.34 257.88 869.07 258.48 869.76 259.09 870.39 259.69 870.97 260.29 871.51 260.89 872.02 261.5 872.48 262.1 872.92 262.7 873.33 263.3 873.72 263.91 874.08 264.51 874.42 265.11 874.75 265.71 875.05 266.32 875.33 266.92 875.59 267.52 875.83 268.12 876.05 268.73 876.25 269.33 876.42 269.93 876.57 270.54 876.71 271.14 876.82 271.74 876.92 272.34 877 272.95 L877.62 272.95 877.7 272.34 877.8 271.74 877.92 271.14 878.05 270.54 878.2 269.93 878.38 269.33 878.57 268.73 878.79 268.12 879.03 267.52 879.29 266.92 879.58 266.32 879.88 265.71 880.2 265.11 880.54 264.51 880.91 263.91 881.29 263.3 881.7 262.7 882.14 262.1 882.61 261.5 883.11 260.89 883.65 260.29 884.24 259.69 884.87 259.09 885.55 258.48 886.28 257.88 887.07 257.28 887.9 256.68 888.77 256.07 889.68 255.47 890.61 254.87 891.54 254.27 892.47 253.66 893.38 253.06 894.24 252.46 895.05 251.86 895.78 251.25 896.42 250.65 896.95 250.05 897.37 249.45 897.68 248.84 897.86 248.24 897.91 247.64 897.85 247.03 897.67 246.43 897.38 245.83 897 245.23 896.53 244.62 895.99 244.02 895.39 243.42 894.73 242.82 894.04 242.21 893.32 241.61 892.59 241.01 891.84 240.41 891.08 239.8 890.32 239.2 889.56 238.6 888.81 238 888.07 237.39 887.33 236.79 886.61 236.19 885.9 235.59 885.2 234.98 884.53 234.38 883.87 233.78 883.23 233.18 882.63 232.57 882.05 231.97 881.5 231.37 880.99 230.77 880.51 230.16 880.07 229.56 879.67 228.96 879.31 228.35 878.99 227.75 878.71 227.15 878.47 226.55 878.25 225.94 878.07 225.34Z" fill="#a1eea1" fill-opacity="0.3" stroke="#555" stroke-opacity="0.3" stroke-width="1.3" stroke-linejoin="round"/>
<path d="M927.84 206.3 927.6 206.96 927.32 207.62 926.99 208.28 926.61 208.94 926.17 209.6 925.67 210.26 925.11 210.92 924.48 211.58 923.8 212.24 923.07 212.9 922.28 213.56 921.44 214.22 920.57 214.88 919.67 215.54 918.76 216.2 917.83 216.86 916.91 217.51 916 218.17 915.11 218.83 914.25 219.49 913.43 220.15 912.66 220.81 911.94 221.47 911.28 222.13 910.68 222.79 910.14 223.45 909.66 224.11 909.25 224.77 908.91 225.43 908.63 226.09 908.42 226.75 908.27 227.41 908.19 228.07 908.17 228.73 908.2 229.39 908.29 230.05 908.43 230.71 908.61 231.37 908.82 232.03 909.06 232.69 909.32 233.35 909.59 234.01 909.86 234.67 910.13 235.33 910.39 235.99 910.64 236.65 910.89 237.3 911.13 237.96 911.37 238.62 911.62 239.28 911.89 239.94 912.18 240.6 912.5 241.26 912.87 241.92 913.3 242.58 913.78 243.24 914.32 243.9 914.92 244.56 915.59 245.22 916.3 245.88 917.07 246.54 917.87 247.2 918.71 247.86 919.55 248.52 920.4 249.18 921.24 249.84 922.05 250.5 922.84 251.16 923.58 251.82 924.27 252.48 924.91 253.14 925.49 253.8 926.01 254.46 926.47 255.12 926.87 255.78 927.22 256.43 927.52 257.09 927.77 257.75 927.97 258.41 L929.56 258.41 929.77 257.75 930.02 257.09 930.32 256.43 930.66 255.78 931.07 255.12 931.53 254.46 932.05 253.8 932.63 253.14 933.27 252.48 933.96 251.82 934.7 251.16 935.48 250.5 936.3 249.84 937.13 249.18 937.98 248.52 938.83 247.86 939.66 247.2 940.46 246.54 941.23 245.88 941.95 245.22 942.61 244.56 943.22 243.9 943.76 243.24 944.24 242.58 944.66 241.92 945.03 241.26 945.36 240.6 945.65 239.94 945.91 239.28 946.16 238.62 946.4 237.96 946.64 237.3 946.89 236.65 947.14 235.99 947.41 235.33 947.68 234.67 947.95 234.01 948.22 233.35 948.47 232.69 948.71 232.03 948.93 231.37 949.11 230.71 949.24 230.05 949.33 229.39 949.37 228.73 949.34 228.07 949.26 227.41 949.11 226.75 948.9 226.09 948.62 225.43 948.28 224.77 947.87 224.11 947.39 223.45 946.85 222.79 946.25 222.13 945.59 221.47 944.87 220.81 944.1 220.15 943.28 219.49 942.43 218.83 941.54 218.17 940.63 217.51 939.7 216.86 938.78 216.2 937.86 215.54 936.96 214.88 936.09 214.22 935.26 213.56 934.47 212.9 933.73 212.24 933.05 211.58 932.43 210.92 931.87 210.26 931.37 209.6 930.93 208.94 930.54 208.28 930.21 207.62 929.93 206.96 929.7 206.3Z" fill="#f4c99f" fill-opacity="0.3" stroke="#555" stroke-opacity="0.3" stroke-width="1.3" stroke-linejoin="round"/>
<rect x="769.04" y="149.34" width="10.4" height="60.13" fill="#f2a5a5" stroke="#6f6f6f" stroke-width="1.15"/>
<path class="bx" d="M769.04 189.43H779.44M774.24 149.34V126.46M771.84 126.46H776.64M774.24 209.47V217.16M771.84 217.16H776.64"/>
<rect x="820.49" y="244.55" width="10.4" height="16.03" fill="#74b0ea" stroke="#6f6f6f" stroke-width="1.15"/>
<path class="bx" d="M820.49 252.23H830.89M825.69 244.55V223.84M823.29 223.84H828.09M825.69 260.59V266.26M823.29 266.26H828.09"/>
<rect x="872.11" y="243.05" width="10.4" height="8.35" fill="#a1eea1" stroke="#6f6f6f" stroke-width="1.15"/>
<path class="bx" d="M872.11 247.56H882.51M877.31 243.05V235.53M874.91 235.53H879.71M877.31 251.4V261.42M874.91 261.42H879.71"/>
<rect x="923.57" y="224.51" width="10.4" height="15.87" fill="#f4c99f" stroke="#6f6f6f" stroke-width="1.15"/>
<path class="bx" d="M923.57 230.35H933.97M928.77 224.51V218.66M926.37 218.66H931.17M928.77 240.37V245.55M926.37 245.55H931.17"/>
<g fill="#ff9999" fill-opacity="0.7">
<circle cx="770.89" cy="126.13" r="2.6"/>
<circle cx="778.41" cy="129.8" r="2.6"/>
<circle cx="774.74" cy="146" r="2.6"/>
<circle cx="771.23" cy="159.87" r="2.6"/>
<circle cx="772.23" cy="186.93" r="2.6"/>
<circle cx="776.74" cy="192.44" r="2.6"/>
<circle cx="769.56" cy="200.45" r="2.6"/>
<circle cx="769.56" cy="211.98" r="2.6"/>
<circle cx="770.89" cy="215.82" r="2.6"/>
<circle cx="773.4" cy="217.99" r="2.6"/>
</g>
<g fill="#66b3ff" fill-opacity="0.7">
<circle cx="821.85" cy="224.17" r="2.6"/>
<circle cx="821.01" cy="239.54" r="2.6"/>
<circle cx="829.03" cy="243.38" r="2.6"/>
<circle cx="822.68" cy="249.23" r="2.6"/>
<circle cx="829.37" cy="253.4" r="2.6"/>
<circle cx="828.53" cy="258.41" r="2.6"/>
<circle cx="830.54" cy="262.09" r="2.6"/>
<circle cx="821.01" cy="265.93" r="2.6"/>
<circle cx="823.52" cy="266.26" r="2.6"/>
</g>
<g fill="#99ff99" fill-opacity="0.7">
<circle cx="881.15" cy="235.53" r="2.6"/>
<circle cx="876.98" cy="239.21" r="2.6"/>
<circle cx="878.65" cy="245.05" r="2.6"/>
<circle cx="874.47" cy="247.56" r="2.6"/>
<circle cx="881.15" cy="250.9" r="2.6"/>
<circle cx="875.31" cy="251.73" r="2.6"/>
<circle cx="880.82" cy="260.92" r="2.6"/>
</g>
<g fill="#ffcc99" fill-opacity="0.7">
<circle cx="925.93" cy="218.33" r="2.6"/>
<circle cx="924.26" cy="221.67" r="2.6"/>
<circle cx="933.44" cy="229.68" r="2.6"/>
<circle cx="927.1" cy="233.36" r="2.6"/>
<circle cx="929.6" cy="242.55" r="2.6"/>
<circle cx="933.78" cy="245.89" r="2.6"/>
</g>
<path class="ax" d="M748 71.5H955"/>
<path class="ax" d="M748 292.5H955"/>
<path class="ax" d="M748.5 71V293"/>
<path class="ax" d="M954.5 71V293"/>
<path class="tk" d="M743.9 102.5H748.5"/>
<text class="t" text-anchor="end" letter-spacing="-0.13" x="740.6" y="109.3">0.03</text>
<path class="tk" d="M743.9 187.5H748.5"/>
<text class="t" text-anchor="end" letter-spacing="-0.13" x="740.6" y="194.3">0.02</text>
<path class="tk" d="M743.9 273.5H748.5"/>
<text class="t" text-anchor="end" letter-spacing="-0.13" x="740.6" y="280.3">0.01</text>
<path class="tk" d="M774.5 292.5V297.1"/>
<text class="t" text-anchor="middle" x="774.24" y="314.4">1</text>
<path class="tk" d="M825.5 292.5V297.1"/>
<text class="t" text-anchor="middle" x="825.69" y="314.4">2</text>
<path class="tk" d="M877.5 292.5V297.1"/>
<text class="t" text-anchor="middle" x="877.31" y="314.4">3</text>
<path class="tk" d="M928.5 292.5V297.1"/>
<text class="t" text-anchor="middle" x="928.77" y="314.4">4</text>
<text class="t" text-anchor="middle" x="851.5" y="337.1">Group</text>
<text class="t" text-anchor="middle" transform="translate(696.57 183.3) rotate(-90)" x="0" y="0">MAE</text>
</g>
<g id="a4">
<path class="g" d="M1054.5 123.5H1260.5"/>
<path class="g" d="M1054.5 184.5H1260.5"/>
<path class="g" d="M1054.5 244.5H1260.5"/>
<path d="M1079 81.03 1078.7 83.1 1078.34 85.18 1077.93 87.26 1077.44 89.33 1076.89 91.41 1076.28 93.49 1075.59 95.56 1074.83 97.64 1074.01 99.71 1073.14 101.79 1072.21 103.87 1071.25 105.94 1070.28 108.02 1069.29 110.1 1068.31 112.17 1067.37 114.25 1066.46 116.32 1065.62 118.4 1064.85 120.48 1064.16 122.55 1063.58 124.63 1063.09 126.71 1062.71 128.78 1062.43 130.86 1062.24 132.93 1062.14 135.01 1062.11 137.09 1062.15 139.16 1062.23 141.24 1062.33 143.32 1062.45 145.39 1062.56 147.47 1062.65 149.54 1062.71 151.62 1062.73 153.7 1062.7 155.77 1062.61 157.85 1062.47 159.93 1062.28 162 1062.04 164.08 1061.76 166.15 1061.46 168.23 1061.14 170.31 1060.82 172.38 1060.5 174.46 1060.22 176.54 1059.97 178.61 1059.79 180.69 1059.67 182.76 1059.64 184.84 1059.69 186.92 1059.85 188.99 1060.12 191.07 1060.5 193.15 1060.98 195.22 1061.58 197.3 1062.27 199.37 1063.06 201.45 1063.94 203.53 1064.88 205.6 1065.88 207.68 1066.91 209.76 1067.97 211.83 1069.04 213.91 1070.1 215.98 1071.13 218.06 1072.13 220.14 1073.09 222.21 1073.98 224.29 1074.81 226.37 1075.58 228.44 1076.27 230.52 1076.89 232.59 1077.44 234.67 1077.92 236.75 1078.33 238.82 1078.69 240.9 1078.99 242.98 1079.24 245.05 L1081.23 245.05 1081.48 242.98 1081.78 240.9 1082.14 238.82 1082.55 236.75 1083.04 234.67 1083.58 232.59 1084.2 230.52 1084.9 228.44 1085.66 226.37 1086.49 224.29 1087.38 222.21 1088.34 220.14 1089.34 218.06 1090.37 215.98 1091.43 213.91 1092.5 211.83 1093.56 209.76 1094.6 207.68 1095.59 205.6 1096.54 203.53 1097.41 201.45 1098.2 199.37 1098.89 197.3 1099.49 195.22 1099.98 193.15 1100.35 191.07 1100.62 188.99 1100.78 186.92 1100.84 184.84 1100.8 182.76 1100.68 180.69 1100.5 178.61 1100.25 176.54 1099.97 174.46 1099.66 172.38 1099.33 170.31 1099.01 168.23 1098.71 166.15 1098.43 164.08 1098.19 162 1098 159.93 1097.86 157.85 1097.78 155.77 1097.74 153.7 1097.76 151.62 1097.82 149.54 1097.91 147.47 1098.02 145.39 1098.14 143.32 1098.24 141.24 1098.32 139.16 1098.36 137.09 1098.33 135.01 1098.23 132.93 1098.05 130.86 1097.76 128.78 1097.38 126.71 1096.89 124.63 1096.31 122.55 1095.62 120.48 1094.85 118.4 1094.01 116.32 1093.11 114.25 1092.16 112.17 1091.18 110.1 1090.2 108.02 1089.22 105.94 1088.26 103.87 1087.34 101.79 1086.46 99.71 1085.64 97.64 1084.88 95.56 1084.2 93.49 1083.58 91.41 1083.03 89.33 1082.54 87.26 1082.13 85.18 1081.77 83.1 1081.47 81.03Z" fill="#f2a5a5" fill-opacity="0.3" stroke="#555" stroke-opacity="0.3" stroke-width="1.3" stroke-linejoin="round"/>
<path d="M1131.09 188.26 1130.93 189.46 1130.75 190.65 1130.53 191.85 1130.27 193.04 1129.98 194.23 1129.64 195.43 1129.26 196.62 1128.84 197.82 1128.38 199.01 1127.88 200.21 1127.36 201.4 1126.8 202.6 1126.22 203.79 1125.64 204.99 1125.05 206.18 1124.46 207.37 1123.9 208.57 1123.35 209.76 1122.84 210.96 1122.36 212.15 1121.92 213.35 1121.52 214.54 1121.16 215.74 1120.84 216.93 1120.54 218.13 1120.26 219.32 1119.98 220.52 1119.7 221.71 1119.41 222.9 1119.08 224.1 1118.72 225.29 1118.31 226.49 1117.86 227.68 1117.34 228.88 1116.78 230.07 1116.17 231.27 1115.53 232.46 1114.87 233.66 1114.2 234.85 1113.55 236.04 1112.93 237.24 1112.37 238.43 1111.89 239.63 1111.5 240.82 1111.23 242.02 1111.09 243.21 1111.09 244.41 1111.23 245.6 1111.52 246.8 1111.95 247.99 1112.52 249.19 1113.21 250.38 1114.01 251.57 1114.9 252.77 1115.87 253.96 1116.9 255.16 1117.97 256.35 1119.05 257.55 1120.13 258.74 1121.2 259.94 1122.24 261.13 1123.24 262.33 1124.19 263.52 1125.08 264.71 1125.9 265.91 1126.66 267.1 1127.35 268.3 1127.97 269.49 1128.53 270.69 1129.02 271.88 1129.45 273.08 1129.83 274.27 1130.16 275.47 1130.43 276.66 1130.67 277.85 1130.87 279.05 1131.03 280.24 1131.17 281.44 1131.28 282.63 L1132.1 282.63 1132.21 281.44 1132.35 280.24 1132.51 279.05 1132.71 277.85 1132.95 276.66 1133.23 275.47 1133.55 274.27 1133.93 273.08 1134.36 271.88 1134.85 270.69 1135.41 269.49 1136.03 268.3 1136.72 267.1 1137.48 265.91 1138.3 264.71 1139.19 263.52 1140.14 262.33 1141.14 261.13 1142.18 259.94 1143.25 258.74 1144.33 257.55 1145.41 256.35 1146.48 255.16 1147.51 253.96 1148.48 252.77 1149.37 251.57 1150.18 250.38 1150.87 249.19 1151.43 247.99 1151.86 246.8 1152.15 245.6 1152.29 244.41 1152.29 243.21 1152.15 242.02 1151.88 240.82 1151.49 239.63 1151.01 238.43 1150.45 237.24 1149.83 236.04 1149.18 234.85 1148.51 233.66 1147.85 232.46 1147.21 231.27 1146.6 230.07 1146.04 228.88 1145.53 227.68 1145.07 226.49 1144.66 225.29 1144.3 224.1 1143.97 222.9 1143.68 221.71 1143.4 220.52 1143.13 219.32 1142.84 218.13 1142.54 216.93 1142.22 215.74 1141.86 214.54 1141.46 213.35 1141.02 212.15 1140.54 210.96 1140.03 209.76 1139.48 208.57 1138.92 207.37 1138.33 206.18 1137.74 204.99 1137.16 203.79 1136.58 202.6 1136.03 201.4 1135.5 200.21 1135 199.01 1134.54 197.82 1134.12 196.62 1133.74 195.43 1133.41 194.23 1133.11 193.04 1132.85 191.85 1132.63 190.65 1132.45 189.46 1132.29 188.26Z" fill="#74b0ea" fill-opacity="0.3" stroke="#555" stroke-opacity="0.3" stroke-width="1.3" stroke-linejoin="round"/>
<path d="M1182.94 211.14 1182.85 211.76 1182.74 212.38 1182.61 212.99 1182.45 213.61 1182.28 214.22 1182.08 214.84 1181.85 215.45 1181.6 216.07 1181.32 216.68 1181.01 217.3 1180.68 217.91 1180.31 218.53 1179.91 219.14 1179.48 219.76 1179.02 220.37 1178.53 220.99 1178 221.6 1177.44 222.22 1176.83 222.83 1176.19 223.45 1175.51 224.07 1174.79 224.68 1174.02 225.3 1173.22 225.91 1172.38 226.53 1171.51 227.14 1170.61 227.76 1169.7 228.37 1168.78 228.99 1167.88 229.6 1167 230.22 1166.16 230.83 1165.38 231.45 1164.67 232.06 1164.05 232.68 1163.54 233.29 1163.14 233.91 1162.87 234.52 1162.72 235.14 1162.71 235.75 1162.83 236.37 1163.07 236.99 1163.42 237.6 1163.87 238.22 1164.41 238.83 1165.01 239.45 1165.66 240.06 1166.34 240.68 1167.04 241.29 1167.74 241.91 1168.42 242.52 1169.09 243.14 1169.72 243.75 1170.32 244.37 1170.9 244.98 1171.44 245.6 1171.95 246.21 1172.45 246.83 1172.93 247.44 1173.41 248.06 1173.89 248.68 1174.37 249.29 1174.87 249.91 1175.37 250.52 1175.89 251.14 1176.42 251.75 1176.95 252.37 1177.49 252.98 1178.02 253.6 1178.55 254.21 1179.06 254.83 1179.55 255.44 1180.02 256.06 1180.46 256.67 1180.86 257.29 1181.22 257.9 1181.55 258.52 1181.85 259.13 1182.1 259.75 L1184.52 259.75 1184.78 259.13 1185.07 258.52 1185.4 257.9 1185.77 257.29 1186.17 256.67 1186.6 256.06 1187.07 255.44 1187.56 254.83 1188.07 254.21 1188.6 253.6 1189.13 252.98 1189.67 252.37 1190.21 251.75 1190.73 251.14 1191.25 250.52 1191.76 249.91 1192.25 249.29 1192.73 248.68 1193.21 248.06 1193.69 247.44 1194.17 246.83 1194.67 246.21 1195.19 245.6 1195.73 244.98 1196.3 244.37 1196.9 243.75 1197.54 243.14 1198.2 242.52 1198.89 241.91 1199.58 241.29 1200.28 240.68 1200.96 240.06 1201.61 239.45 1202.22 238.83 1202.75 238.22 1203.2 237.6 1203.56 236.99 1203.79 236.37 1203.91 235.75 1203.9 235.14 1203.76 234.52 1203.48 233.91 1203.09 233.29 1202.57 232.68 1201.96 232.06 1201.25 231.45 1200.47 230.83 1199.63 230.22 1198.75 229.6 1197.84 228.99 1196.92 228.37 1196.01 227.76 1195.12 227.14 1194.24 226.53 1193.4 225.91 1192.6 225.3 1191.84 224.68 1191.11 224.07 1190.43 223.45 1189.79 222.83 1189.19 222.22 1188.62 221.6 1188.1 220.99 1187.6 220.37 1187.14 219.76 1186.71 219.14 1186.32 218.53 1185.95 217.91 1185.61 217.3 1185.3 216.68 1185.02 216.07 1184.77 215.45 1184.54 214.84 1184.35 214.22 1184.17 213.61 1184.02 212.99 1183.89 212.38 1183.78 211.76 1183.68 211.14Z" fill="#a1eea1" fill-opacity="0.3" stroke="#555" stroke-opacity="0.3" stroke-width="1.3" stroke-linejoin="round"/>
<path d="M1234.23 186.59 1234.09 187.44 1233.93 188.28 1233.75 189.13 1233.54 189.97 1233.3 190.82 1233.04 191.67 1232.75 192.51 1232.43 193.36 1232.1 194.2 1231.74 195.05 1231.37 195.89 1230.98 196.74 1230.58 197.59 1230.16 198.43 1229.74 199.28 1229.3 200.12 1228.86 200.97 1228.4 201.81 1227.91 202.66 1227.41 203.51 1226.88 204.35 1226.32 205.2 1225.72 206.04 1225.09 206.89 1224.43 207.73 1223.72 208.58 1222.99 209.43 1222.23 210.27 1221.45 211.12 1220.67 211.96 1219.88 212.81 1219.11 213.65 1218.36 214.5 1217.65 215.35 1216.98 216.19 1216.37 217.04 1215.82 217.88 1215.34 218.73 1214.94 219.57 1214.61 220.42 1214.38 221.27 1214.23 222.11 1214.17 222.96 1214.19 223.8 1214.31 224.65 1214.52 225.49 1214.81 226.34 1215.19 227.19 1215.65 228.03 1216.19 228.88 1216.8 229.72 1217.48 230.57 1218.21 231.41 1218.99 232.26 1219.81 233.11 1220.66 233.95 1221.54 234.8 1222.42 235.64 1223.31 236.49 1224.19 237.33 1225.06 238.18 1225.91 239.03 1226.74 239.87 1227.53 240.72 1228.28 241.56 1229 242.41 1229.67 243.25 1230.3 244.1 1230.88 244.95 1231.41 245.79 1231.9 246.64 1232.33 247.48 1232.72 248.33 1233.06 249.17 1233.36 250.02 1233.62 250.87 1233.84 251.71 1234.02 252.56 1234.18 253.4 L1235.36 253.4 1235.51 252.56 1235.7 251.71 1235.92 250.87 1236.18 250.02 1236.47 249.17 1236.82 248.33 1237.2 247.48 1237.64 246.64 1238.12 245.79 1238.65 244.95 1239.23 244.1 1239.86 243.25 1240.53 242.41 1241.25 241.56 1242 240.72 1242.8 239.87 1243.62 239.03 1244.47 238.18 1245.34 237.33 1246.22 236.49 1247.11 235.64 1248 234.8 1248.87 233.95 1249.72 233.11 1250.54 232.26 1251.32 231.41 1252.06 230.57 1252.73 229.72 1253.34 228.88 1253.88 228.03 1254.34 227.19 1254.72 226.34 1255.01 225.49 1255.22 224.65 1255.34 223.8 1255.37 222.96 1255.31 222.11 1255.16 221.27 1254.92 220.42 1254.6 219.57 1254.2 218.73 1253.72 217.88 1253.17 217.04 1252.55 216.19 1251.89 215.35 1251.17 214.5 1250.42 213.65 1249.65 212.81 1248.87 211.96 1248.08 211.12 1247.3 210.27 1246.54 209.43 1245.81 208.58 1245.11 207.73 1244.44 206.89 1243.81 206.04 1243.21 205.2 1242.65 204.35 1242.12 203.51 1241.62 202.66 1241.14 201.81 1240.68 200.97 1240.23 200.12 1239.79 199.28 1239.37 198.43 1238.96 197.59 1238.56 196.74 1238.17 195.89 1237.79 195.05 1237.44 194.2 1237.1 193.36 1236.79 192.51 1236.5 191.67 1236.23 190.82 1235.99 189.97 1235.78 189.13 1235.6 188.28 1235.44 187.44 1235.31 186.59Z" fill="#f4c99f" fill-opacity="0.3" stroke="#555" stroke-opacity="0.3" stroke-width="1.3" stroke-linejoin="round"/>
<rect x="1075.04" y="133.48" width="10.4" height="59.8" fill="#f2a5a5" stroke="#6f6f6f" stroke-width="1.15"/>
<path class="bx" d="M1075.04 171.56H1085.44M1080.24 133.48V121.45M1077.84 121.45H1082.64M1080.24 193.27V204.46M1077.84 204.46H1082.64"/>
<rect x="1126.49" y="220.5" width="10.4" height="27.06" fill="#74b0ea" stroke="#6f6f6f" stroke-width="1.15"/>
<path class="bx" d="M1126.49 240.04H1136.89M1131.69 220.5V210.48M1129.29 210.48H1134.09M1131.69 247.56V260.42M1129.29 260.42H1134.09"/>
<rect x="1178.11" y="232.52" width="10.4" height="5.51" fill="#a1eea1" stroke="#6f6f6f" stroke-width="1.15"/>
<path class="bx" d="M1178.11 237.03H1188.51"/>
<rect x="1229.57" y="217.49" width="10.4" height="12.03" fill="#f4c99f" stroke="#6f6f6f" stroke-width="1.15"/>
<path class="bx" d="M1229.57 222.5H1239.97M1234.77 217.49V201.29M1232.37 201.29H1237.17M1234.77 229.52V238.37M1232.37 238.37H1237.17"/>
<g fill="#ff9999" fill-opacity="0.7">
<circle cx="1081.41" cy="121.78" r="2.6"/>
<circle cx="1077.73" cy="126.79" r="2.6"/>
<circle cx="1082.24" cy="149.84" r="2.6"/>
<circle cx="1075.56" cy="165.21" r="2.6"/>
<circle cx="1081.57" cy="177.74" r="2.6"/>
<circle cx="1076.39" cy="186.93" r="2.6"/>
<circle cx="1082.74" cy="195.78" r="2.6"/>
<circle cx="1076.39" cy="199.45" r="2.6"/>
<circle cx="1074.89" cy="204.46" r="2.6"/>
</g>
<g fill="#66b3ff" fill-opacity="0.7">
<circle cx="1127.51" cy="210.48" r="2.6"/>
<circle cx="1127.85" cy="216.32" r="2.6"/>
<circle cx="1131.69" cy="215.82" r="2.6"/>
<circle cx="1130.35" cy="233.36" r="2.6"/>
<circle cx="1128.68" cy="241.71" r="2.6"/>
<circle cx="1135.37" cy="249.23" r="2.6"/>
<circle cx="1132.36" cy="259.75" r="2.6"/>
</g>
<g fill="#99ff99" fill-opacity="0.7">
<circle cx="1180.47" cy="223.84" r="2.6"/>
<circle cx="1182.98" cy="232.52" r="2.6"/>
<circle cx="1187.99" cy="233.69" r="2.6"/>
<circle cx="1180.97" cy="238.37" r="2.6"/>
<circle cx="1181.81" cy="248.39" r="2.6"/>
<circle cx="1187.66" cy="248.73" r="2.6"/>
</g>
<g fill="#ffcc99" fill-opacity="0.7">
<circle cx="1238.11" cy="201.62" r="2.6"/>
<circle cx="1233.93" cy="212.48" r="2.6"/>
<circle cx="1238.94" cy="217.16" r="2.6"/>
<circle cx="1230.59" cy="225.84" r="2.6"/>
<circle cx="1233.1" cy="230.02" r="2.6"/>
<circle cx="1238.94" cy="238.37" r="2.6"/>
</g>
<path class="ax" d="M1054 71.5H1261"/>
<path class="ax" d="M1054 292.5H1261"/>
<path class="ax" d="M1054.5 71V293"/>
<path class="ax" d="M1260.5 71V293"/>
<path class="tk" d="M1049.9 123.5H1054.5"/>
<text class="t" text-anchor="end" letter-spacing="-0.13" x="1046.6" y="130.3">4</text>
<path class="tk" d="M1049.9 184.5H1054.5"/>
<text class="t" text-anchor="end" letter-spacing="-0.13" x="1046.6" y="191.3">3</text>
<path class="tk" d="M1049.9 244.5H1054.5"/>
<text class="t" text-anchor="end" letter-spacing="-0.13" x="1046.6" y="251.3">2</text>
<path class="tk" d="M1080.5 292.5V297.1"/>
<text class="t" text-anchor="middle" x="1080.24" y="314.4">1</text>
<path class="tk" d="M1131.5 292.5V297.1"/>
<text class="t" text-anchor="middle" x="1131.69" y="314.4">2</text>
<path class="tk" d="M1183.5 292.5V297.1"/>
<text class="t" text-anchor="middle" x="1183.31" y="314.4">3</text>
<path class="tk" d="M1234.5 292.5V297.1"/>
<text class="t" text-anchor="middle" x="1234.77" y="314.4">4</text>
<text class="t" text-anchor="middle" x="1157.5" y="337.1">Group</text>
<text class="t" text-anchor="middle" transform="translate(1029.59 183.3) rotate(-90)" x="0" y="0">MAPE</text>
</g>
<g id="b1">
<path class="g" d="M146.5 455.5H350.5"/>
<path class="g" d="M146.5 505.5H350.5"/>
<path class="g" d="M146.5 556.5H350.5"/>
<path class="g" d="M146.5 606.5H350.5"/>
<path d="M171.33 431.2 171.23 433.68 171.11 436.15 170.97 438.62 170.8 441.09 170.61 443.56 170.4 446.03 170.16 448.51 169.91 450.98 169.62 453.45 169.31 455.92 168.98 458.39 168.63 460.86 168.24 463.34 167.82 465.81 167.38 468.28 166.89 470.75 166.35 473.22 165.77 475.69 165.13 478.16 164.44 480.64 163.67 483.11 162.85 485.58 161.95 488.05 161.01 490.52 160.01 492.99 158.98 495.47 157.93 497.94 156.89 500.41 155.87 502.88 154.91 505.35 154.02 507.82 153.23 510.3 152.56 512.77 152.03 515.24 151.65 517.71 151.42 520.18 151.34 522.65 151.4 525.13 151.6 527.6 151.91 530.07 152.31 532.54 152.79 535.01 153.31 537.48 153.85 539.96 154.4 542.43 154.93 544.9 155.43 547.37 155.9 549.84 156.33 552.31 156.72 554.78 157.07 557.26 157.4 559.73 157.72 562.2 158.04 564.67 158.37 567.14 158.72 569.61 159.11 572.09 159.54 574.56 160.02 577.03 160.55 579.5 161.13 581.97 161.76 584.44 162.43 586.92 163.13 589.39 163.85 591.86 164.58 594.33 165.3 596.8 166.01 599.27 166.7 601.75 167.35 604.22 167.96 606.69 168.52 609.16 169.03 611.63 169.48 614.1 169.88 616.58 170.23 619.05 170.52 621.52 170.77 623.99 170.98 626.46 L172.5 626.46 172.7 623.99 172.95 621.52 173.25 619.05 173.59 616.58 173.99 614.1 174.45 611.63 174.96 609.16 175.52 606.69 176.12 604.22 176.77 601.75 177.46 599.27 178.17 596.8 178.9 594.33 179.63 591.86 180.35 589.39 181.05 586.92 181.72 584.44 182.34 581.97 182.93 579.5 183.46 577.03 183.94 574.56 184.37 572.09 184.75 569.61 185.11 567.14 185.43 564.67 185.75 562.2 186.07 559.73 186.4 557.26 186.76 554.78 187.15 552.31 187.57 549.84 188.04 547.37 188.55 544.9 189.08 542.43 189.62 539.96 190.17 537.48 190.69 535.01 191.16 532.54 191.56 530.07 191.88 527.6 192.07 525.13 192.14 522.65 192.06 520.18 191.83 517.71 191.44 515.24 190.91 512.77 190.24 510.3 189.46 507.82 188.57 505.35 187.6 502.88 186.59 500.41 185.54 497.94 184.49 495.47 183.46 492.99 182.47 490.52 181.52 488.05 180.63 485.58 179.8 483.11 179.04 480.64 178.34 478.16 177.7 475.69 177.12 473.22 176.59 470.75 176.1 468.28 175.65 465.81 175.23 463.34 174.85 460.86 174.49 458.39 174.16 455.92 173.85 453.45 173.57 450.98 173.31 448.51 173.07 446.03 172.86 443.56 172.67 441.09 172.51 438.62 172.37 436.15 172.24 433.68 172.14 431.2Z" fill="#f2a5a5" fill-opacity="0.3" stroke="#555" stroke-opacity="0.3" stroke-width="1.3" stroke-linejoin="round"/>
<path d="M222.17 532.26 221.98 533.06 221.74 533.87 221.45 534.68 221.1 535.49 220.7 536.3 220.22 537.1 219.67 537.91 219.05 538.72 218.35 539.53 217.57 540.33 216.72 541.14 215.8 541.95 214.81 542.76 213.77 543.56 212.7 544.37 211.59 545.18 210.49 545.99 209.39 546.8 208.32 547.6 207.29 548.41 206.33 549.22 205.46 550.03 204.68 550.83 204.01 551.64 203.45 552.45 203.02 553.26 202.71 554.06 202.53 554.87 202.46 555.68 202.5 556.49 202.64 557.29 202.86 558.1 203.16 558.91 203.52 559.72 203.93 560.53 204.37 561.33 204.84 562.14 205.32 562.95 205.81 563.76 206.3 564.56 206.79 565.37 207.27 566.18 207.75 566.99 208.22 567.79 208.69 568.6 209.15 569.41 209.6 570.22 210.05 571.02 210.51 571.83 210.96 572.64 211.41 573.45 211.87 574.26 212.33 575.06 212.79 575.87 213.26 576.68 213.73 577.49 214.21 578.29 214.69 579.1 215.18 579.91 215.68 580.72 216.17 581.52 216.67 582.33 217.16 583.14 217.65 583.95 218.13 584.76 218.59 585.56 219.04 586.37 219.47 587.18 219.88 587.99 220.26 588.79 220.61 589.6 220.93 590.41 221.22 591.22 221.49 592.02 221.72 592.83 221.92 593.64 222.09 594.45 222.24 595.25 222.36 596.06 L223.35 596.06 223.47 595.25 223.62 594.45 223.8 593.64 224 592.83 224.23 592.02 224.49 591.22 224.78 590.41 225.1 589.6 225.46 588.79 225.84 587.99 226.24 587.18 226.67 586.37 227.12 585.56 227.59 584.76 228.07 583.95 228.55 583.14 229.05 582.33 229.54 581.52 230.04 580.72 230.53 579.91 231.02 579.1 231.5 578.29 231.98 577.49 232.46 576.68 232.93 575.87 233.39 575.06 233.85 574.26 234.3 573.45 234.76 572.64 235.21 571.83 235.66 571.02 236.11 570.22 236.57 569.41 237.03 568.6 237.49 567.79 237.96 566.99 238.44 566.18 238.92 565.37 239.41 564.56 239.9 563.76 240.39 562.95 240.88 562.14 241.34 561.33 241.79 560.53 242.19 559.72 242.55 558.91 242.85 558.1 243.08 557.29 243.22 556.49 243.26 555.68 243.19 554.87 243 554.06 242.69 553.26 242.26 552.45 241.71 551.64 241.04 550.83 240.26 550.03 239.38 549.22 238.42 548.41 237.4 547.6 236.33 546.8 235.23 545.99 234.12 545.18 233.02 544.37 231.94 543.56 230.9 542.76 229.92 541.95 229 541.14 228.14 540.33 227.36 539.53 226.66 538.72 226.04 537.91 225.49 537.1 225.02 536.3 224.61 535.49 224.27 534.68 223.98 533.87 223.74 533.06 223.54 532.26Z" fill="#74b0ea" fill-opacity="0.3" stroke="#555" stroke-opacity="0.3" stroke-width="1.3" stroke-linejoin="round"/>
<path d="M273.45 549.29 273.23 549.73 272.96 550.16 272.64 550.59 272.27 551.03 271.85 551.46 271.37 551.89 270.83 552.33 270.23 552.76 269.57 553.2 268.85 553.63 268.09 554.06 267.28 554.5 266.45 554.93 265.58 555.36 264.7 555.8 263.81 556.23 262.93 556.66 262.07 557.1 261.23 557.53 260.42 557.96 259.65 558.4 258.93 558.83 258.25 559.26 257.63 559.7 257.06 560.13 256.54 560.56 256.07 561 255.65 561.43 255.28 561.86 254.96 562.3 254.68 562.73 254.45 563.16 254.26 563.6 254.12 564.03 254.01 564.46 253.95 564.9 253.91 565.33 253.91 565.76 253.94 566.2 253.98 566.63 254.05 567.06 254.12 567.5 254.2 567.93 254.28 568.37 254.36 568.8 254.44 569.23 254.51 569.67 254.59 570.1 254.68 570.53 254.78 570.97 254.9 571.4 255.06 571.83 255.27 572.27 255.53 572.7 255.85 573.13 256.25 573.57 256.74 574 257.3 574.43 257.95 574.87 258.68 575.3 259.49 575.73 260.36 576.17 261.29 576.6 262.25 577.03 263.24 577.47 264.25 577.9 265.24 578.33 266.22 578.77 267.15 579.2 268.05 579.63 268.88 580.07 269.66 580.5 270.36 580.93 270.99 581.37 271.55 581.8 272.04 582.23 272.47 582.67 272.83 583.1 273.13 583.54 L275.49 583.54 275.8 583.1 276.16 582.67 276.58 582.23 277.07 581.8 277.63 581.37 278.26 580.93 278.97 580.5 279.74 580.07 280.58 579.63 281.47 579.2 282.41 578.77 283.38 578.33 284.38 577.9 285.38 577.47 286.37 577.03 287.34 576.6 288.26 576.17 289.13 575.73 289.94 575.3 290.67 574.87 291.32 574.43 291.89 574 292.37 573.57 292.77 573.13 293.1 572.7 293.36 572.27 293.56 571.83 293.72 571.4 293.85 570.97 293.95 570.53 294.03 570.1 294.11 569.67 294.19 569.23 294.26 568.8 294.34 568.37 294.43 567.93 294.5 567.5 294.58 567.06 294.64 566.63 294.69 566.2 294.71 565.76 294.71 565.33 294.68 564.9 294.61 564.46 294.51 564.03 294.36 563.6 294.17 563.16 293.94 562.73 293.67 562.3 293.34 561.86 292.98 561.43 292.56 561 292.09 560.56 291.57 560.13 291 559.7 290.37 559.26 289.7 558.83 288.97 558.4 288.21 557.96 287.4 557.53 286.56 557.1 285.69 556.66 284.81 556.23 283.93 555.8 283.04 555.36 282.18 554.93 281.34 554.5 280.53 554.06 279.77 553.63 279.06 553.2 278.4 552.76 277.8 552.33 277.26 551.89 276.77 551.46 276.35 551.03 275.98 550.59 275.67 550.16 275.4 549.73 275.17 549.29Z" fill="#a1eea1" fill-opacity="0.3" stroke="#555" stroke-opacity="0.3" stroke-width="1.3" stroke-linejoin="round"/>
<path d="M324.81 536.43 324.63 537.22 324.43 538.01 324.18 538.79 323.89 539.58 323.55 540.37 323.15 541.15 322.71 541.94 322.21 542.72 321.66 543.51 321.06 544.3 320.41 545.08 319.72 545.87 318.99 546.66 318.23 547.44 317.45 548.23 316.66 549.02 315.87 549.8 315.09 550.59 314.33 551.38 313.59 552.16 312.9 552.95 312.24 553.74 311.64 554.52 311.08 555.31 310.58 556.1 310.12 556.88 309.71 557.67 309.34 558.46 309 559.24 308.69 560.03 308.39 560.81 308.1 561.6 307.8 562.39 307.5 563.17 307.2 563.96 306.88 564.75 306.56 565.53 306.24 566.32 305.93 567.11 305.65 567.89 305.4 568.68 305.21 569.47 305.08 570.25 305.03 571.04 305.08 571.83 305.24 572.61 305.5 573.4 305.87 574.19 306.36 574.97 306.95 575.76 307.63 576.55 308.4 577.33 309.23 578.12 310.11 578.9 311.03 579.69 311.96 580.48 312.9 581.26 313.84 582.05 314.75 582.84 315.64 583.62 316.49 584.41 317.31 585.2 318.08 585.98 318.82 586.77 319.5 587.56 320.15 588.34 320.75 589.13 321.31 589.92 321.83 590.7 322.31 591.49 322.74 592.28 323.13 593.06 323.48 593.85 323.8 594.64 324.08 595.42 324.32 596.21 324.52 596.99 324.7 597.78 324.85 598.57 L326.01 598.57 326.16 597.78 326.34 596.99 326.55 596.21 326.79 595.42 327.07 594.64 327.38 593.85 327.73 593.06 328.13 592.28 328.56 591.49 329.04 590.7 329.55 589.92 330.11 589.13 330.71 588.34 331.36 587.56 332.05 586.77 332.78 585.98 333.56 585.2 334.37 584.41 335.23 583.62 336.11 582.84 337.03 582.05 337.96 581.26 338.9 580.48 339.84 579.69 340.76 578.9 341.64 578.12 342.47 577.33 343.23 576.55 343.92 575.76 344.51 574.97 344.99 574.19 345.37 573.4 345.63 572.61 345.78 571.83 345.83 571.04 345.79 570.25 345.66 569.47 345.46 568.68 345.22 567.89 344.93 567.11 344.62 566.32 344.3 565.53 343.98 564.75 343.67 563.96 343.36 563.17 343.06 562.39 342.77 561.6 342.48 560.81 342.18 560.03 341.86 559.24 341.53 558.46 341.15 557.67 340.74 556.88 340.29 556.1 339.78 555.31 339.23 554.52 338.62 553.74 337.97 552.95 337.27 552.16 336.54 551.38 335.78 550.59 335 549.8 334.2 549.02 333.42 548.23 332.64 547.44 331.88 546.66 331.15 545.87 330.46 545.08 329.81 544.3 329.2 543.51 328.65 542.72 328.15 541.94 327.71 541.15 327.32 540.37 326.98 539.58 326.69 538.79 326.44 538.01 326.23 537.22 326.06 536.43Z" fill="#f4c99f" fill-opacity="0.3" stroke="#555" stroke-opacity="0.3" stroke-width="1.3" stroke-linejoin="round"/>
<rect x="166.54" y="514.55" width="10.4" height="44.76" fill="#f2a5a5" stroke="#6f6f6f" stroke-width="1.15"/>
<path class="bx" d="M166.54 523.4H176.94M171.74 514.55V474.97M169.34 474.97H174.14M171.74 559.32V583.2M169.34 583.2H174.14"/>
<rect x="217.66" y="551.47" width="10.4" height="17.87" fill="#74b0ea" stroke="#6f6f6f" stroke-width="1.15"/>
<path class="bx" d="M217.66 561.49H228.06M222.86 551.47V547.29M220.46 547.29H225.26M222.86 569.34V581.36M220.46 581.36H225.26"/>
<rect x="269.11" y="561.32" width="10.4" height="9.69" fill="#a1eea1" stroke="#6f6f6f" stroke-width="1.15"/>
<path class="bx" d="M269.11 566H279.51M274.31 561.32V557.14M271.91 557.14H276.71M274.31 571.01V575.18M271.91 575.18H276.71"/>
<rect x="320.23" y="558.98" width="10.4" height="15.37" fill="#f4c99f" stroke="#6f6f6f" stroke-width="1.15"/>
<path class="bx" d="M320.23 569.34H330.63M325.43 558.98V550.46M323.03 550.46H327.83M325.43 574.35V584.87M323.03 584.87H327.83"/>
<g fill="#ff9999" fill-opacity="0.7">
<circle cx="174.08" cy="474.63" r="2.6"/>
<circle cx="175.41" cy="508.71" r="2.6"/>
<circle cx="168.23" cy="514.22" r="2.6"/>
<circle cx="172.07" cy="518.39" r="2.6"/>
<circle cx="176.58" cy="527.58" r="2.6"/>
<circle cx="170.4" cy="539.27" r="2.6"/>
<circle cx="174.24" cy="566.33" r="2.6"/>
<circle cx="168.4" cy="578.86" r="2.6"/>
<circle cx="174.24" cy="583.54" r="2.6"/>
</g>
<g fill="#66b3ff" fill-opacity="0.7">
<circle cx="221.35" cy="547.29" r="2.6"/>
<circle cx="218.85" cy="550.13" r="2.6"/>
<circle cx="225.53" cy="555.98" r="2.6"/>
<circle cx="218.01" cy="565.16" r="2.6"/>
<circle cx="227.54" cy="569.67" r="2.6"/>
<circle cx="222.19" cy="576.85" r="2.6"/>
<circle cx="221.69" cy="581.53" r="2.6"/>
</g>
<g fill="#99ff99" fill-opacity="0.7">
<circle cx="270.97" cy="557.14" r="2.6"/>
<circle cx="276.48" cy="559.32" r="2.6"/>
<circle cx="273.98" cy="564.33" r="2.6"/>
<circle cx="279.32" cy="566.83" r="2.6"/>
<circle cx="278.99" cy="572.34" r="2.6"/>
<circle cx="269.8" cy="575.18" r="2.6"/>
<circle cx="273.14" cy="575.52" r="2.6"/>
</g>
<g fill="#ffcc99" fill-opacity="0.7">
<circle cx="323.26" cy="550.46" r="2.6"/>
<circle cx="325.77" cy="555.14" r="2.6"/>
<circle cx="324.93" cy="560.99" r="2.6"/>
<circle cx="322.43" cy="568.5" r="2.6"/>
<circle cx="320.42" cy="575.18" r="2.6"/>
<circle cx="326.94" cy="574.85" r="2.6"/>
<circle cx="327.1" cy="584.87" r="2.6"/>
</g>
<path class="ax" style="stroke:#7d7d7d" d="M146 421.5H351"/>
<path class="ax" d="M146 636.5H351"/>
<path class="ax" d="M146.5 421V637"/>
<path class="ax" style="stroke:#7d7d7d" d="M350.5 421V637"/>
<path class="tk" d="M141.9 455.5H146.5"/>
<text class="t" text-anchor="end" letter-spacing="-0.13" x="138.6" y="462.3">0.020</text>
<path class="tk" d="M141.9 505.5H146.5"/>
<text class="t" text-anchor="end" letter-spacing="-0.13" x="138.6" y="512.3">0.015</text>
<path class="tk" d="M141.9 556.5H146.5"/>
<text class="t" text-anchor="end" letter-spacing="-0.13" x="138.6" y="563.3">0.010</text>
<path class="tk" d="M141.9 606.5H146.5"/>
<text class="t" text-anchor="end" letter-spacing="-0.13" x="138.6" y="613.3">0.005</text>
<path class="tk" d="M171.5 636.5V641.1"/>
<text class="t" text-anchor="middle" x="171.74" y="658.4">1</text>
<path class="tk" d="M222.5 636.5V641.1"/>
<text class="t" text-anchor="middle" x="222.86" y="658.4">2</text>
<path class="tk" d="M274.5 636.5V641.1"/>
<text class="t" text-anchor="middle" x="274.31" y="658.4">3</text>
<path class="tk" d="M325.5 636.5V641.1"/>
<text class="t" text-anchor="middle" x="325.43" y="658.4">4</text>
<text class="t" text-anchor="middle" x="248.5" y="681.1">Group</text>
<text class="t" text-anchor="middle" transform="translate(83.76 530.3) rotate(-90)" x="0" y="0">RMSE</text>
</g>
<g id="b2">
<path class="g" d="M449.5 452.5H654.5"/>
<path class="g" d="M449.5 519.5H654.5"/>
<path class="g" d="M449.5 586.5H654.5"/>
<path d="M474.31 431.2 474.09 433.68 473.83 436.15 473.52 438.62 473.15 441.09 472.72 443.56 472.24 446.03 471.69 448.51 471.09 450.98 470.44 453.45 469.73 455.92 468.99 458.39 468.22 460.86 467.44 463.34 466.64 465.81 465.86 468.28 465.1 470.75 464.36 473.22 463.66 475.69 463 478.16 462.38 480.64 461.81 483.11 461.26 485.58 460.75 488.05 460.26 490.52 459.77 492.99 459.29 495.47 458.8 497.94 458.3 500.41 457.78 502.88 457.26 505.35 456.74 507.82 456.23 510.3 455.75 512.77 455.33 515.24 454.97 517.71 454.72 520.18 454.58 522.65 454.57 525.13 454.72 527.6 455.02 530.07 455.49 532.54 456.11 535.01 456.87 537.48 457.77 539.96 458.77 542.43 459.85 544.9 460.98 547.37 462.12 549.84 463.26 552.31 464.37 554.78 465.42 557.26 466.39 559.73 467.28 562.2 468.08 564.67 468.77 567.14 469.38 569.61 469.9 572.09 470.34 574.56 470.72 577.03 471.05 579.5 471.33 581.97 471.59 584.44 471.82 586.92 472.05 589.39 472.27 591.86 472.48 594.33 472.7 596.8 472.91 599.27 473.13 601.75 473.34 604.22 473.54 606.69 473.74 609.16 473.92 611.63 474.09 614.1 474.25 616.58 474.39 619.05 474.51 621.52 474.62 623.99 474.71 626.46 L475.43 626.46 475.52 623.99 475.63 621.52 475.75 619.05 475.89 616.58 476.05 614.1 476.22 611.63 476.4 609.16 476.6 606.69 476.8 604.22 477.01 601.75 477.23 599.27 477.44 596.8 477.66 594.33 477.88 591.86 478.09 589.39 478.32 586.92 478.55 584.44 478.81 581.97 479.09 579.5 479.42 577.03 479.8 574.56 480.24 572.09 480.76 569.61 481.37 567.14 482.07 564.67 482.86 562.2 483.75 559.73 484.72 557.26 485.77 554.78 486.88 552.31 488.02 549.84 489.17 547.37 490.29 544.9 491.37 542.43 492.37 539.96 493.27 537.48 494.03 535.01 494.66 532.54 495.12 530.07 495.43 527.6 495.57 525.13 495.57 522.65 495.43 520.18 495.17 517.71 494.81 515.24 494.39 512.77 493.91 510.3 493.4 507.82 492.88 505.35 492.36 502.88 491.85 500.41 491.35 497.94 490.85 495.47 490.37 492.99 489.89 490.52 489.39 488.05 488.88 485.58 488.34 483.11 487.76 480.64 487.14 478.16 486.48 475.69 485.78 473.22 485.05 470.75 484.28 468.28 483.5 465.81 482.71 463.34 481.92 460.86 481.15 458.39 480.41 455.92 479.71 453.45 479.05 450.98 478.45 448.51 477.9 446.03 477.42 443.56 476.99 441.09 476.63 438.62 476.31 436.15 476.05 433.68 475.84 431.2Z" fill="#f2a5a5" fill-opacity="0.3" stroke="#555" stroke-opacity="0.3" stroke-width="1.3" stroke-linejoin="round"/>
<path d="M525.48 463.77 525.3 464.38 525.08 464.98 524.82 465.58 524.52 466.19 524.16 466.79 523.76 467.39 523.31 467.99 522.8 468.6 522.25 469.2 521.64 469.8 520.99 470.4 520.3 471.01 519.57 471.61 518.81 472.21 518.03 472.81 517.24 473.42 516.44 474.02 515.65 474.62 514.87 475.22 514.1 475.83 513.37 476.43 512.66 477.03 511.99 477.63 511.36 478.24 510.77 478.84 510.21 479.44 509.7 480.04 509.22 480.65 508.78 481.25 508.38 481.85 508.01 482.45 507.66 483.06 507.35 483.66 507.06 484.26 506.8 484.87 506.57 485.47 506.36 486.07 506.17 486.67 506.01 487.28 505.89 487.88 505.79 488.48 505.72 489.08 505.69 489.69 505.7 490.29 505.74 490.89 505.82 491.49 505.95 492.1 506.12 492.7 506.34 493.3 506.61 493.9 506.94 494.51 507.32 495.11 507.76 495.71 508.26 496.31 508.82 496.92 509.45 497.52 510.14 498.12 510.88 498.72 511.67 499.33 512.51 499.93 513.38 500.53 514.29 501.13 515.21 501.74 516.14 502.34 517.06 502.94 517.96 503.54 518.84 504.15 519.68 504.75 520.48 505.35 521.22 505.96 521.91 506.56 522.54 507.16 523.1 507.76 523.6 508.37 524.05 508.97 524.43 509.57 524.76 510.17 525.04 510.78 525.27 511.38 L527.11 511.38 527.34 510.78 527.62 510.17 527.95 509.57 528.34 508.97 528.78 508.37 529.28 507.76 529.85 507.16 530.47 506.56 531.16 505.96 531.9 505.35 532.7 504.75 533.54 504.15 534.42 503.54 535.32 502.94 536.25 502.34 537.17 501.74 538.09 501.13 539 500.53 539.87 499.93 540.71 499.33 541.51 498.72 542.25 498.12 542.93 497.52 543.56 496.92 544.12 496.31 544.62 495.71 545.07 495.11 545.45 494.51 545.77 493.9 546.04 493.3 546.26 492.7 546.44 492.1 546.56 491.49 546.64 490.89 546.69 490.29 546.69 489.69 546.66 489.08 546.59 488.48 546.5 487.88 546.37 487.28 546.21 486.67 546.03 486.07 545.82 485.47 545.58 484.87 545.32 484.26 545.03 483.66 544.72 483.06 544.38 482.45 544 481.85 543.6 481.25 543.16 480.65 542.69 480.04 542.17 479.44 541.62 478.84 541.02 478.24 540.39 477.63 539.72 477.03 539.02 476.43 538.28 475.83 537.52 475.22 536.74 474.62 535.94 474.02 535.15 473.42 534.35 472.81 533.57 472.21 532.82 471.61 532.09 471.01 531.39 470.4 530.74 469.8 530.14 469.2 529.58 468.6 529.07 467.99 528.62 467.39 528.22 466.79 527.87 466.19 527.56 465.58 527.3 464.98 527.08 464.38 526.9 463.77Z" fill="#74b0ea" fill-opacity="0.3" stroke="#555" stroke-opacity="0.3" stroke-width="1.3" stroke-linejoin="round"/>
<path d="M576.45 472.96 576.22 473.27 575.96 473.58 575.66 473.89 575.32 474.2 574.93 474.52 574.51 474.83 574.04 475.14 573.54 475.45 572.99 475.76 572.42 476.07 571.81 476.38 571.19 476.69 570.55 477 569.91 477.31 569.26 477.62 568.63 477.93 568.02 478.25 567.44 478.56 566.89 478.87 566.38 479.18 565.92 479.49 565.5 479.8 565.14 480.11 564.82 480.42 564.55 480.73 564.31 481.04 564.1 481.35 563.92 481.66 563.75 481.97 563.57 482.29 563.39 482.6 563.18 482.91 562.95 483.22 562.68 483.53 562.36 483.84 562 484.15 561.59 484.46 561.15 484.77 560.66 485.08 560.16 485.39 559.64 485.7 559.12 486.02 558.63 486.33 558.16 486.64 557.75 486.95 557.42 487.26 557.16 487.57 557.02 487.88 556.98 488.19 557.07 488.5 557.28 488.81 557.63 489.12 558.1 489.43 558.7 489.74 559.42 490.06 560.24 490.37 561.15 490.68 562.13 490.99 563.17 491.3 564.25 491.61 565.34 491.92 566.44 492.23 567.53 492.54 568.58 492.85 569.59 493.16 570.55 493.47 571.45 493.79 572.27 494.1 573.02 494.41 573.7 494.72 574.31 495.03 574.84 495.34 575.3 495.65 575.7 495.96 576.04 496.27 576.32 496.58 576.56 496.89 576.76 497.2 576.92 497.51 L578.04 497.51 578.2 497.2 578.4 496.89 578.63 496.58 578.92 496.27 579.26 495.96 579.66 495.65 580.12 495.34 580.65 495.03 581.26 494.72 581.93 494.41 582.69 494.1 583.51 493.79 584.41 493.47 585.36 493.16 586.38 492.85 587.43 492.54 588.51 492.23 589.61 491.92 590.71 491.61 591.79 491.3 592.83 490.99 593.81 490.68 594.72 490.37 595.54 490.06 596.26 489.74 596.86 489.43 597.33 489.12 597.68 488.81 597.89 488.5 597.98 488.19 597.94 487.88 597.79 487.57 597.54 487.26 597.2 486.95 596.8 486.64 596.33 486.33 595.83 486.02 595.32 485.7 594.8 485.39 594.29 485.08 593.81 484.77 593.37 484.46 592.96 484.15 592.6 483.84 592.28 483.53 592.01 483.22 591.77 482.91 591.57 482.6 591.39 482.29 591.21 481.97 591.04 481.66 590.85 481.35 590.65 481.04 590.41 480.73 590.14 480.42 589.82 480.11 589.46 479.8 589.04 479.49 588.58 479.18 588.07 478.87 587.52 478.56 586.94 478.25 586.33 477.93 585.69 477.62 585.05 477.31 584.41 477 583.77 476.69 583.14 476.38 582.54 476.07 581.97 475.76 581.42 475.45 580.92 475.14 580.45 474.83 580.03 474.52 579.64 474.2 579.3 473.89 579 473.58 578.74 473.27 578.51 472.96Z" fill="#a1eea1" fill-opacity="0.3" stroke="#555" stroke-opacity="0.3" stroke-width="1.3" stroke-linejoin="round"/>
<path d="M628 463.27 627.81 463.84 627.59 464.41 627.34 464.97 627.04 465.54 626.71 466.11 626.34 466.67 625.92 467.24 625.47 467.81 624.97 468.37 624.44 468.94 623.86 469.51 623.26 470.07 622.62 470.64 621.95 471.21 621.24 471.77 620.51 472.34 619.76 472.91 618.98 473.47 618.18 474.04 617.36 474.61 616.54 475.17 615.7 475.74 614.87 476.31 614.05 476.87 613.24 477.44 612.46 478.01 611.73 478.57 611.04 479.14 610.41 479.71 609.85 480.27 609.37 480.84 608.97 481.41 608.66 481.97 608.44 482.54 608.31 483.11 608.27 483.67 608.31 484.24 608.42 484.81 608.6 485.37 608.85 485.94 609.14 486.51 609.47 487.07 609.83 487.64 610.21 488.21 610.61 488.77 611.02 489.34 611.44 489.91 611.86 490.47 612.28 491.04 612.7 491.61 613.13 492.17 613.58 492.74 614.03 493.31 614.51 493.87 615.02 494.44 615.55 495.01 616.12 495.57 616.72 496.14 617.35 496.71 618.02 497.27 618.72 497.84 619.43 498.41 620.17 498.97 620.91 499.54 621.65 500.1 622.38 500.67 623.08 501.24 623.76 501.8 624.4 502.37 625 502.94 625.55 503.5 626.05 504.07 626.49 504.64 626.89 505.2 627.23 505.77 627.52 506.34 627.77 506.9 627.98 507.47 628.15 508.04 L629.38 508.04 629.55 507.47 629.76 506.9 630.01 506.34 630.3 505.77 630.65 505.2 631.04 504.64 631.49 504.07 631.98 503.5 632.53 502.94 633.13 502.37 633.77 501.8 634.45 501.24 635.16 500.67 635.89 500.1 636.62 499.54 637.37 498.97 638.1 498.41 638.82 497.84 639.51 497.27 640.18 496.71 640.82 496.14 641.42 495.57 641.98 495.01 642.52 494.44 643.02 493.87 643.5 493.31 643.96 492.74 644.4 492.17 644.83 491.61 645.26 491.04 645.68 490.47 646.1 489.91 646.51 489.34 646.92 488.77 647.32 488.21 647.7 487.64 648.07 487.07 648.4 486.51 648.69 485.94 648.93 485.37 649.11 484.81 649.23 484.24 649.27 483.67 649.22 483.11 649.09 482.54 648.87 481.97 648.56 481.41 648.16 480.84 647.68 480.27 647.12 479.71 646.5 479.14 645.81 478.57 645.07 478.01 644.29 477.44 643.49 476.87 642.66 476.31 641.83 475.74 641 475.17 640.17 474.61 639.35 474.04 638.55 473.47 637.77 472.91 637.02 472.34 636.29 471.77 635.59 471.21 634.92 470.64 634.28 470.07 633.67 469.51 633.1 468.94 632.56 468.37 632.07 467.81 631.61 467.24 631.2 466.67 630.82 466.11 630.49 465.54 630.2 464.97 629.94 464.41 629.72 463.84 629.53 463.27Z" fill="#f4c99f" fill-opacity="0.3" stroke="#555" stroke-opacity="0.3" stroke-width="1.3" stroke-linejoin="round"/>
<rect x="469.87" y="490.5" width="10.4" height="42.43" fill="#f2a5a5" stroke="#6f6f6f" stroke-width="1.15"/>
<path class="bx" d="M469.87 523.4H480.27M475.07 490.5V473.8M472.67 473.8H477.47M475.07 532.93V584.37M472.67 584.37H477.47"/>
<rect x="520.99" y="483.32" width="10.4" height="13.03" fill="#74b0ea" stroke="#6f6f6f" stroke-width="1.15"/>
<path class="bx" d="M520.99 488.83H531.39M526.19 483.32V475.47M523.79 475.47H528.59M526.19 496.35V500.02M523.79 500.02H528.59"/>
<rect x="572.28" y="481.31" width="10.4" height="7.85" fill="#a1eea1" stroke="#6f6f6f" stroke-width="1.15"/>
<path class="bx" d="M572.28 487.49H582.68M577.48 481.31V478.31M575.08 478.31H579.88M577.48 489.16V492.17M575.08 492.17H579.88"/>
<rect x="623.57" y="479.14" width="10.4" height="11.36" fill="#f4c99f" stroke="#6f6f6f" stroke-width="1.15"/>
<path class="bx" d="M623.57 483.32H633.97M628.77 479.14V472.96M626.37 472.96H631.17M628.77 490.5V497.18M626.37 497.18H631.17"/>
<g fill="#ff9999" fill-opacity="0.7">
<circle cx="470.89" cy="473.8" r="2.6"/>
<circle cx="476.41" cy="477.14" r="2.6"/>
<circle cx="470.39" cy="485.49" r="2.6"/>
<circle cx="475.57" cy="507.2" r="2.6"/>
<circle cx="478.08" cy="518.89" r="2.6"/>
<circle cx="475.91" cy="528.08" r="2.6"/>
<circle cx="471.23" cy="533.43" r="2.6"/>
<circle cx="479.58" cy="533.09" r="2.6"/>
<circle cx="475.91" cy="539.77" r="2.6"/>
<circle cx="480.08" cy="584.04" r="2.6"/>
</g>
<g fill="#66b3ff" fill-opacity="0.7">
<circle cx="529.7" cy="475.3" r="2.6"/>
<circle cx="521.01" cy="477.81" r="2.6"/>
<circle cx="526.86" cy="482.48" r="2.6"/>
<circle cx="523.52" cy="489.16" r="2.6"/>
<circle cx="531.37" cy="491.67" r="2.6"/>
<circle cx="528.03" cy="497.51" r="2.6"/>
<circle cx="528.53" cy="500.35" r="2.6"/>
</g>
<g fill="#99ff99" fill-opacity="0.7">
<circle cx="578.65" cy="478.31" r="2.6"/>
<circle cx="581.99" cy="480.81" r="2.6"/>
<circle cx="573.64" cy="484.99" r="2.6"/>
<circle cx="576.98" cy="487.49" r="2.6"/>
<circle cx="572.8" cy="489.5" r="2.6"/>
<circle cx="580.65" cy="490.83" r="2.6"/>
</g>
<g fill="#ffcc99" fill-opacity="0.7">
<circle cx="628.77" cy="472.79" r="2.6"/>
<circle cx="627.1" cy="479.64" r="2.6"/>
<circle cx="632.11" cy="484.15" r="2.6"/>
<circle cx="625.93" cy="487.49" r="2.6"/>
<circle cx="630.44" cy="494.68" r="2.6"/>
<circle cx="624.09" cy="497.51" r="2.6"/>
</g>
<path class="ax" style="stroke:#7d7d7d" d="M449 421.5H655"/>
<path class="ax" d="M449 636.5H655"/>
<path class="ax" d="M449.5 421V637"/>
<path class="ax" d="M654.5 421V637"/>
<path class="tk" d="M444.9 452.5H449.5"/>
<text class="t" text-anchor="end" letter-spacing="-0.13" x="441.6" y="459.3">1.00</text>
<path class="tk" d="M444.9 519.5H449.5"/>
<text class="t" text-anchor="end" letter-spacing="-0.13" x="441.6" y="526.3">0.95</text>
<path class="tk" d="M444.9 586.5H449.5"/>
<text class="t" text-anchor="end" letter-spacing="-0.13" x="441.6" y="593.3">0.90</text>
<path class="tk" d="M475.5 636.5V641.1"/>
<text class="t" text-anchor="middle" x="475.07" y="658.4">1</text>
<path class="tk" d="M526.5 636.5V641.1"/>
<text class="t" text-anchor="middle" x="526.19" y="658.4">2</text>
<path class="tk" d="M577.5 636.5V641.1"/>
<text class="t" text-anchor="middle" x="577.48" y="658.4">3</text>
<path class="tk" d="M628.5 636.5V641.1"/>
<text class="t" text-anchor="middle" x="628.77" y="658.4">4</text>
<text class="t" text-anchor="middle" x="552" y="681.1">Group</text>
<text class="t" transform="translate(398.27 543.9) rotate(-90)" x="0" y="0">R<tspan dx="0.8" dy="-6.7" font-size="13.6px">2</tspan></text>
</g>
<g id="b3">
<path class="g" d="M752.5 423.5H957.5"/>
<path class="g" d="M752.5 480.5H957.5"/>
<path class="g" d="M752.5 536.5H957.5"/>
<path class="g" d="M752.5 593.5H957.5"/>
<path d="M777.95 431.2 777.84 433.68 777.7 436.15 777.54 438.62 777.36 441.09 777.15 443.56 776.92 446.03 776.66 448.51 776.38 450.98 776.07 453.45 775.73 455.92 775.37 458.39 774.99 460.86 774.58 463.34 774.14 465.81 773.67 468.28 773.17 470.75 772.63 473.22 772.04 475.69 771.4 478.16 770.7 480.64 769.94 483.11 769.13 485.58 768.25 488.05 767.32 490.52 766.34 492.99 765.33 495.47 764.31 497.94 763.29 500.41 762.29 502.88 761.35 505.35 760.48 507.82 759.71 510.3 759.07 512.77 758.55 515.24 758.19 517.71 757.97 520.18 757.91 522.65 757.98 525.13 758.18 527.6 758.49 530.07 758.88 532.54 759.34 535.01 759.82 537.48 760.31 539.96 760.79 542.43 761.24 544.9 761.64 547.37 761.98 549.84 762.27 552.31 762.51 554.78 762.7 557.26 762.86 559.73 763 562.2 763.15 564.67 763.31 567.14 763.51 569.61 763.77 572.09 764.09 574.56 764.49 577.03 764.97 579.5 765.54 581.97 766.18 584.44 766.89 586.92 767.65 589.39 768.47 591.86 769.31 594.33 770.17 596.8 771.02 599.27 771.86 601.75 772.66 604.22 773.43 606.69 774.13 609.16 774.78 611.63 775.37 614.1 775.89 616.58 776.34 619.05 776.74 621.52 777.07 623.99 777.35 626.46 L779.46 626.46 779.74 623.99 780.07 621.52 780.47 619.05 780.92 616.58 781.44 614.1 782.03 611.63 782.68 609.16 783.38 606.69 784.15 604.22 784.95 601.75 785.79 599.27 786.64 596.8 787.5 594.33 788.34 591.86 789.16 589.39 789.92 586.92 790.63 584.44 791.27 581.97 791.84 579.5 792.32 577.03 792.72 574.56 793.04 572.09 793.3 569.61 793.5 567.14 793.66 564.67 793.81 562.2 793.95 559.73 794.11 557.26 794.3 554.78 794.54 552.31 794.83 549.84 795.17 547.37 795.57 544.9 796.02 542.43 796.5 539.96 796.99 537.48 797.47 535.01 797.93 532.54 798.32 530.07 798.63 527.6 798.83 525.13 798.91 522.65 798.84 520.18 798.62 517.71 798.26 515.24 797.74 512.77 797.1 510.3 796.33 507.82 795.46 505.35 794.52 502.88 793.52 500.41 792.5 497.94 791.48 495.47 790.47 492.99 789.49 490.52 788.56 488.05 787.68 485.58 786.87 483.11 786.11 480.64 785.41 478.16 784.77 475.69 784.18 473.22 783.64 470.75 783.14 468.28 782.67 465.81 782.23 463.34 781.82 460.86 781.44 458.39 781.08 455.92 780.74 453.45 780.43 450.98 780.15 448.51 779.89 446.03 779.66 443.56 779.45 441.09 779.27 438.62 779.11 436.15 778.97 433.68 778.86 431.2Z" fill="#f2a5a5" fill-opacity="0.3" stroke="#555" stroke-opacity="0.3" stroke-width="1.3" stroke-linejoin="round"/>
<path d="M828.65 519.56 828.45 520.57 828.22 521.58 827.94 522.59 827.6 523.61 827.21 524.62 826.75 525.63 826.23 526.64 825.63 527.65 824.96 528.66 824.21 529.67 823.39 530.68 822.5 531.69 821.55 532.7 820.54 533.71 819.49 534.72 818.41 535.73 817.31 536.74 816.21 537.75 815.14 538.76 814.1 539.78 813.12 540.79 812.22 541.8 811.4 542.81 810.69 543.82 810.08 544.83 809.6 545.84 809.24 546.85 809 547.86 808.87 548.87 808.86 549.88 808.94 550.89 809.1 551.9 809.33 552.91 809.61 553.92 809.92 554.94 810.25 555.95 810.57 556.96 810.87 557.97 811.14 558.98 811.38 559.99 811.57 561 811.71 562.01 811.81 563.02 811.86 564.03 811.89 565.04 811.89 566.05 811.88 567.06 811.87 568.07 811.88 569.08 811.93 570.09 812.02 571.11 812.17 572.12 812.39 573.13 812.69 574.14 813.07 575.15 813.53 576.16 814.08 577.17 814.71 578.18 815.41 579.19 816.18 580.2 817 581.21 817.86 582.22 818.75 583.23 819.65 584.24 820.54 585.25 821.43 586.26 822.28 587.28 823.1 588.29 823.87 589.3 824.6 590.31 825.26 591.32 825.86 592.33 826.4 593.34 826.89 594.35 827.31 595.36 827.67 596.37 827.99 597.38 828.25 598.39 828.48 599.4 L830.24 599.4 830.46 598.39 830.73 597.38 831.04 596.37 831.41 595.36 831.83 594.35 832.31 593.34 832.85 592.33 833.46 591.32 834.12 590.31 834.84 589.3 835.62 588.29 836.43 587.28 837.29 586.26 838.17 585.25 839.07 584.24 839.97 583.23 840.86 582.22 841.72 581.21 842.54 580.2 843.3 579.19 844.01 578.18 844.64 577.17 845.19 576.16 845.65 575.15 846.03 574.14 846.33 573.13 846.55 572.12 846.7 571.11 846.79 570.09 846.83 569.08 846.84 568.07 846.84 567.06 846.83 566.05 846.83 565.04 846.85 564.03 846.91 563.02 847.01 562.01 847.15 561 847.34 559.99 847.58 558.98 847.85 557.97 848.15 556.96 848.47 555.95 848.8 554.94 849.11 553.92 849.38 552.91 849.61 551.9 849.78 550.89 849.86 549.88 849.84 548.87 849.72 547.86 849.48 546.85 849.12 545.84 848.63 544.83 848.03 543.82 847.32 542.81 846.5 541.8 845.59 540.79 844.61 539.78 843.58 538.76 842.5 537.75 841.41 536.74 840.31 535.73 839.23 534.72 838.18 533.71 837.17 532.7 836.22 531.69 835.33 530.68 834.51 529.67 833.76 528.66 833.09 527.65 832.49 526.64 831.96 525.63 831.51 524.62 831.11 523.61 830.78 522.59 830.5 521.58 830.26 520.57 830.07 519.56Z" fill="#74b0ea" fill-opacity="0.3" stroke="#555" stroke-opacity="0.3" stroke-width="1.3" stroke-linejoin="round"/>
<path d="M879.85 538.94 879.6 539.62 879.3 540.3 878.94 540.98 878.52 541.66 878.03 542.34 877.48 543.02 876.86 543.7 876.18 544.38 875.43 545.07 874.61 545.75 873.75 546.43 872.84 547.11 871.89 547.79 870.91 548.47 869.93 549.15 868.94 549.83 867.97 550.51 867.02 551.19 866.1 551.87 865.24 552.55 864.43 553.24 863.69 553.92 863.02 554.6 862.42 555.28 861.9 555.96 861.46 556.64 861.09 557.32 860.8 558 860.58 558.68 860.43 559.36 860.34 560.04 860.31 560.72 860.33 561.4 860.4 562.09 860.5 562.77 860.63 563.45 860.8 564.13 860.98 564.81 861.19 565.49 861.41 566.17 861.65 566.85 861.91 567.53 862.17 568.21 862.46 568.89 862.76 569.57 863.08 570.26 863.42 570.94 863.79 571.62 864.19 572.3 864.61 572.98 865.07 573.66 865.56 574.34 866.09 575.02 866.65 575.7 867.24 576.38 867.86 577.06 868.51 577.74 869.19 578.42 869.9 579.11 870.61 579.79 871.34 580.47 872.08 581.15 872.82 581.83 873.54 582.51 874.25 583.19 874.94 583.87 875.61 584.55 876.23 585.23 876.82 585.91 877.37 586.59 877.87 587.28 878.32 587.96 878.72 588.64 879.08 589.32 879.39 590 879.66 590.68 879.88 591.36 880.08 592.04 880.23 592.72 L881.39 592.72 881.55 592.04 881.74 591.36 881.97 590.68 882.24 590 882.55 589.32 882.9 588.64 883.31 587.96 883.76 587.28 884.26 586.59 884.8 585.91 885.39 585.23 886.02 584.55 886.68 583.87 887.37 583.19 888.08 582.51 888.81 581.83 889.55 581.15 890.28 580.47 891.01 579.79 891.73 579.11 892.43 578.42 893.11 577.74 893.76 577.06 894.39 576.38 894.98 575.7 895.54 575.02 896.06 574.34 896.56 573.66 897.01 572.98 897.44 572.3 897.84 571.62 898.2 570.94 898.55 570.26 898.87 569.57 899.17 568.89 899.45 568.21 899.72 567.53 899.97 566.85 900.21 566.17 900.44 565.49 900.64 564.81 900.83 564.13 900.99 563.45 901.13 562.77 901.23 562.09 901.29 561.4 901.31 560.72 901.28 560.04 901.19 559.36 901.04 558.68 900.82 558 900.53 557.32 900.17 556.64 899.73 555.96 899.21 555.28 898.61 554.6 897.94 553.92 897.19 553.24 896.39 552.55 895.52 551.87 894.61 551.19 893.66 550.51 892.69 549.83 891.7 549.15 890.71 548.47 889.74 547.79 888.79 547.11 887.88 546.43 887.01 545.75 886.2 545.07 885.45 544.38 884.76 543.7 884.15 543.02 883.59 542.34 883.11 541.66 882.69 540.98 882.33 540.3 882.03 539.62 881.77 538.94Z" fill="#a1eea1" fill-opacity="0.3" stroke="#555" stroke-opacity="0.3" stroke-width="1.3" stroke-linejoin="round"/>
<path d="M930.75 550.46 930.5 551.12 930.22 551.78 929.88 552.44 929.5 553.09 929.08 553.75 928.6 554.41 928.09 555.07 927.53 555.72 926.94 556.38 926.32 557.04 925.68 557.7 925.03 558.35 924.38 559.01 923.74 559.67 923.11 560.33 922.51 560.98 921.94 561.64 921.41 562.3 920.91 562.96 920.44 563.61 920.01 564.27 919.6 564.93 919.21 565.59 918.84 566.24 918.47 566.9 918.08 567.56 917.69 568.22 917.27 568.87 916.83 569.53 916.36 570.19 915.87 570.85 915.35 571.5 914.81 572.16 914.28 572.82 913.74 573.48 913.23 574.14 912.75 574.79 912.31 575.45 911.94 576.11 911.64 576.77 911.42 577.42 911.29 578.08 911.27 578.74 911.34 579.4 911.52 580.05 911.79 580.71 912.17 581.37 912.63 582.03 913.18 582.68 913.8 583.34 914.49 584 915.24 584.66 916.03 585.31 916.86 585.97 917.72 586.63 918.59 587.29 919.47 587.94 920.36 588.6 921.23 589.26 922.09 589.92 922.93 590.57 923.74 591.23 924.53 591.89 925.27 592.55 925.98 593.2 926.65 593.86 927.27 594.52 927.84 595.18 928.37 595.83 928.85 596.49 929.28 597.15 929.67 597.81 930.01 598.46 930.31 599.12 930.57 599.78 930.79 600.44 930.98 601.09 931.14 601.75 931.27 602.41 L932.26 602.41 932.39 601.75 932.55 601.09 932.74 600.44 932.96 599.78 933.22 599.12 933.52 598.46 933.86 597.81 934.25 597.15 934.68 596.49 935.16 595.83 935.69 595.18 936.26 594.52 936.89 593.86 937.55 593.2 938.26 592.55 939.01 591.89 939.79 591.23 940.6 590.57 941.44 589.92 942.3 589.26 943.18 588.6 944.06 587.94 944.94 587.29 945.81 586.63 946.67 585.97 947.5 585.31 948.29 584.66 949.04 584 949.73 583.34 950.36 582.68 950.9 582.03 951.37 581.37 951.74 580.71 952.02 580.05 952.19 579.4 952.27 578.74 952.24 578.08 952.11 577.42 951.89 576.77 951.59 576.11 951.22 575.45 950.79 574.79 950.3 574.14 949.79 573.48 949.26 572.82 948.72 572.16 948.19 571.5 947.67 570.85 947.17 570.19 946.7 569.53 946.26 568.87 945.84 568.22 945.45 567.56 945.07 566.9 944.69 566.24 944.32 565.59 943.93 564.93 943.53 564.27 943.09 563.61 942.63 562.96 942.13 562.3 941.59 561.64 941.02 560.98 940.42 560.33 939.79 559.67 939.15 559.01 938.5 558.35 937.85 557.7 937.21 557.04 936.59 556.38 936 555.72 935.45 555.07 934.93 554.41 934.46 553.75 934.03 553.09 933.65 552.44 933.32 551.78 933.03 551.12 932.78 550.46Z" fill="#f4c99f" fill-opacity="0.3" stroke="#555" stroke-opacity="0.3" stroke-width="1.3" stroke-linejoin="round"/>
<rect x="773.21" y="515.55" width="10.4" height="46.77" fill="#f2a5a5" stroke="#6f6f6f" stroke-width="1.15"/>
<path class="bx" d="M773.21 522.57H783.61M778.41 515.55V475.47M776.01 475.47H780.81M778.41 562.32V582.7M776.01 582.7H780.81"/>
<rect x="824.16" y="545.45" width="10.4" height="24.22" fill="#74b0ea" stroke="#6f6f6f" stroke-width="1.15"/>
<path class="bx" d="M824.16 557.65H834.56M829.36 545.45V539.27M826.96 539.27H831.76M829.36 569.67V579.69M826.96 579.69H831.76"/>
<rect x="875.61" y="556.48" width="10.4" height="13.2" fill="#a1eea1" stroke="#6f6f6f" stroke-width="1.15"/>
<path class="bx" d="M875.61 562.32H886.01M880.81 556.48V550.46M878.41 550.46H883.21M880.81 569.67V580.53M878.41 580.53H883.21"/>
<rect x="926.57" y="568.5" width="10.4" height="14.2" fill="#f4c99f" stroke="#6f6f6f" stroke-width="1.15"/>
<path class="bx" d="M926.57 576.02H936.97M931.77 568.5V562.32M929.37 562.32H934.17M931.77 582.7V590.55M929.37 590.55H934.17"/>
<g fill="#ff9999" fill-opacity="0.7">
<circle cx="773.39" cy="475.47" r="2.6"/>
<circle cx="779.74" cy="511.21" r="2.6"/>
<circle cx="782.25" cy="516.39" r="2.6"/>
<circle cx="773.06" cy="522.24" r="2.6"/>
<circle cx="775.57" cy="538.94" r="2.6"/>
<circle cx="777.57" cy="570.17" r="2.6"/>
<circle cx="777.24" cy="581.03" r="2.6"/>
<circle cx="778.91" cy="583.2" r="2.6"/>
</g>
<g fill="#66b3ff" fill-opacity="0.7">
<circle cx="833.54" cy="539.27" r="2.6"/>
<circle cx="831.53" cy="544.28" r="2.6"/>
<circle cx="824.35" cy="551.8" r="2.6"/>
<circle cx="826.52" cy="554.31" r="2.6"/>
<circle cx="830.36" cy="565.16" r="2.6"/>
<circle cx="828.19" cy="571.84" r="2.6"/>
<circle cx="832.87" cy="578.02" r="2.6"/>
<circle cx="829.36" cy="579.86" r="2.6"/>
</g>
<g fill="#99ff99" fill-opacity="0.7">
<circle cx="876.97" cy="550.63" r="2.6"/>
<circle cx="878.31" cy="553.47" r="2.6"/>
<circle cx="884.99" cy="559.32" r="2.6"/>
<circle cx="885.32" cy="564.33" r="2.6"/>
<circle cx="884.66" cy="571.01" r="2.6"/>
<circle cx="884.99" cy="575.68" r="2.6"/>
<circle cx="885.83" cy="580.19" r="2.6"/>
</g>
<g fill="#ffcc99" fill-opacity="0.7">
<circle cx="926.75" cy="562.16" r="2.6"/>
<circle cx="935.94" cy="563.16" r="2.6"/>
<circle cx="929.26" cy="575.18" r="2.6"/>
<circle cx="936.44" cy="576.85" r="2.6"/>
<circle cx="930.1" cy="580.19" r="2.6"/>
<circle cx="935.44" cy="584.37" r="2.6"/>
<circle cx="928.43" cy="589.88" r="2.6"/>
</g>
<path class="ax" style="stroke:#7d7d7d" d="M752 421.5H958"/>
<path class="ax" d="M752 636.5H958"/>
<path class="ax" d="M752.5 421V637"/>
<path class="ax" d="M957.5 421V637"/>
<path class="tk" d="M747.9 423.5H752.5"/>
<text class="t" text-anchor="end" letter-spacing="-0.13" x="744.6" y="430.3">0.020</text>
<path class="tk" d="M747.9 480.5H752.5"/>
<text class="t" text-anchor="end" letter-spacing="-0.13" x="744.6" y="487.3">0.015</text>
<path class="tk" d="M747.9 536.5H752.5"/>
<text class="t" text-anchor="end" letter-spacing="-0.13" x="744.6" y="543.3">0.010</text>
<path class="tk" d="M747.9 593.5H752.5"/>
<text class="t" text-anchor="end" letter-spacing="-0.13" x="744.6" y="600.3">0.005</text>
<path class="tk" d="M778.5 636.5V641.1"/>
<text class="t" text-anchor="middle" x="778.41" y="658.4">1</text>
<path class="tk" d="M829.5 636.5V641.1"/>
<text class="t" text-anchor="middle" x="829.36" y="658.4">2</text>
<path class="tk" d="M880.5 636.5V641.1"/>
<text class="t" text-anchor="middle" x="880.81" y="658.4">3</text>
<path class="tk" d="M931.5 636.5V641.1"/>
<text class="t" text-anchor="middle" x="931.77" y="658.4">4</text>
<text class="t" text-anchor="middle" x="855" y="681.1">Group</text>
<text class="t" text-anchor="middle" transform="translate(689.76 530.3) rotate(-90)" x="0" y="0">MAE</text>
</g>
<g id="b4">
<path class="g" d="M1056.5 459.5H1260.5"/>
<path class="g" d="M1056.5 507.5H1260.5"/>
<path class="g" d="M1056.5 556.5H1260.5"/>
<path class="g" d="M1056.5 604.5H1260.5"/>
<path d="M1081.27 431.2 1081.15 433.68 1081.02 436.15 1080.85 438.62 1080.67 441.09 1080.46 443.56 1080.22 446.03 1079.96 448.51 1079.67 450.98 1079.35 453.45 1079.01 455.92 1078.64 458.39 1078.24 460.86 1077.82 463.34 1077.36 465.81 1076.88 468.28 1076.36 470.75 1075.79 473.22 1075.19 475.69 1074.53 478.16 1073.82 480.64 1073.05 483.11 1072.23 485.58 1071.35 488.05 1070.43 490.52 1069.47 492.99 1068.48 495.47 1067.48 497.94 1066.49 500.41 1065.53 502.88 1064.62 505.35 1063.79 507.82 1063.05 510.3 1062.44 512.77 1061.95 515.24 1061.6 517.71 1061.4 520.18 1061.34 522.65 1061.41 525.13 1061.6 527.6 1061.89 530.07 1062.26 532.54 1062.68 535.01 1063.14 537.48 1063.6 539.96 1064.05 542.43 1064.47 544.9 1064.85 547.37 1065.17 549.84 1065.45 552.31 1065.67 554.78 1065.86 557.26 1066.02 559.73 1066.17 562.2 1066.33 564.67 1066.51 567.14 1066.73 569.61 1067.01 572.09 1067.35 574.56 1067.77 577.03 1068.28 579.5 1068.86 581.97 1069.52 584.44 1070.25 586.92 1071.04 589.39 1071.86 591.86 1072.72 594.33 1073.58 596.8 1074.44 599.27 1075.28 601.75 1076.08 604.22 1076.84 606.69 1077.54 609.16 1078.18 611.63 1078.76 614.1 1079.27 616.58 1079.72 619.05 1080.11 621.52 1080.43 623.99 1080.71 626.46 L1082.77 626.46 1083.04 623.99 1083.37 621.52 1083.75 619.05 1084.2 616.58 1084.71 614.1 1085.29 611.63 1085.93 609.16 1086.64 606.69 1087.39 604.22 1088.2 601.75 1089.04 599.27 1089.89 596.8 1090.76 594.33 1091.61 591.86 1092.44 589.39 1093.22 586.92 1093.95 584.44 1094.61 581.97 1095.2 579.5 1095.7 577.03 1096.12 574.56 1096.47 572.09 1096.75 569.61 1096.97 567.14 1097.15 564.67 1097.3 562.2 1097.45 559.73 1097.61 557.26 1097.8 554.78 1098.03 552.31 1098.3 549.84 1098.63 547.37 1099 544.9 1099.42 542.43 1099.87 539.96 1100.34 537.48 1100.79 535.01 1101.22 532.54 1101.59 530.07 1101.88 527.6 1102.07 525.13 1102.14 522.65 1102.07 520.18 1101.87 517.71 1101.52 515.24 1101.04 512.77 1100.42 510.3 1099.69 507.82 1098.86 505.35 1097.95 502.88 1096.99 500.41 1096 497.94 1095 495.47 1094.01 492.99 1093.04 490.52 1092.12 488.05 1091.24 485.58 1090.42 483.11 1089.66 480.64 1088.94 478.16 1088.29 475.69 1087.68 473.22 1087.12 470.75 1086.6 468.28 1086.11 465.81 1085.66 463.34 1085.23 460.86 1084.84 458.39 1084.47 455.92 1084.12 453.45 1083.81 450.98 1083.52 448.51 1083.25 446.03 1083.02 443.56 1082.81 441.09 1082.62 438.62 1082.46 436.15 1082.32 433.68 1082.2 431.2Z" fill="#f2a5a5" fill-opacity="0.3" stroke="#555" stroke-opacity="0.3" stroke-width="1.3" stroke-linejoin="round"/>
<path d="M1131.8 518.73 1131.52 519.78 1131.19 520.83 1130.8 521.89 1130.34 522.94 1129.81 523.99 1129.2 525.05 1128.51 526.1 1127.74 527.15 1126.89 528.2 1125.96 529.26 1124.97 530.31 1123.92 531.36 1122.82 532.42 1121.69 533.47 1120.56 534.52 1119.42 535.57 1118.32 536.63 1117.26 537.68 1116.28 538.73 1115.38 539.79 1114.58 540.84 1113.9 541.89 1113.35 542.94 1112.94 544 1112.65 545.05 1112.49 546.1 1112.46 547.16 1112.53 548.21 1112.69 549.26 1112.92 550.32 1113.2 551.37 1113.51 552.42 1113.83 553.47 1114.14 554.53 1114.43 555.58 1114.68 556.63 1114.88 557.69 1115.03 558.74 1115.13 559.79 1115.18 560.84 1115.18 561.9 1115.14 562.95 1115.08 564 1115.02 565.06 1114.95 566.11 1114.9 567.16 1114.89 568.21 1114.93 569.27 1115.02 570.32 1115.18 571.37 1115.42 572.43 1115.74 573.48 1116.15 574.53 1116.64 575.59 1117.21 576.64 1117.86 577.69 1118.57 578.74 1119.35 579.8 1120.17 580.85 1121.03 581.9 1121.92 582.96 1122.81 584.01 1123.71 585.06 1124.59 586.11 1125.44 587.17 1126.27 588.22 1127.05 589.27 1127.78 590.33 1128.46 591.38 1129.08 592.43 1129.64 593.49 1130.15 594.54 1130.59 595.59 1130.98 596.64 1131.32 597.7 1131.61 598.75 1131.85 599.8 1132.06 600.86 1132.22 601.91 L1133.49 601.91 1133.66 600.86 1133.86 599.8 1134.11 598.75 1134.4 597.7 1134.73 596.64 1135.12 595.59 1135.57 594.54 1136.07 593.49 1136.63 592.43 1137.26 591.38 1137.93 590.33 1138.67 589.27 1139.45 588.22 1140.27 587.17 1141.13 586.11 1142.01 585.06 1142.9 584.01 1143.8 582.96 1144.68 581.9 1145.54 580.85 1146.37 579.8 1147.14 578.74 1147.86 577.69 1148.5 576.64 1149.07 575.59 1149.56 574.53 1149.97 573.48 1150.29 572.43 1150.53 571.37 1150.69 570.32 1150.79 569.27 1150.82 568.21 1150.81 567.16 1150.76 566.11 1150.7 565.06 1150.63 564 1150.57 562.95 1150.54 561.9 1150.54 560.84 1150.58 559.79 1150.68 558.74 1150.83 557.69 1151.03 556.63 1151.28 555.58 1151.57 554.53 1151.89 553.47 1152.21 552.42 1152.52 551.37 1152.8 550.32 1153.03 549.26 1153.19 548.21 1153.26 547.16 1153.22 546.1 1153.06 545.05 1152.78 544 1152.36 542.94 1151.81 541.89 1151.13 540.84 1150.34 539.79 1149.44 538.73 1148.45 537.68 1147.4 536.63 1146.29 535.57 1145.16 534.52 1144.02 533.47 1142.89 532.42 1141.8 531.36 1140.75 530.31 1139.75 529.26 1138.83 528.2 1137.98 527.15 1137.21 526.1 1136.52 525.05 1135.91 523.99 1135.37 522.94 1134.91 521.89 1134.52 520.83 1134.19 519.78 1133.91 518.73Z" fill="#74b0ea" fill-opacity="0.3" stroke="#555" stroke-opacity="0.3" stroke-width="1.3" stroke-linejoin="round"/>
<path d="M1183.32 538.44 1183.14 539.16 1182.92 539.87 1182.66 540.59 1182.35 541.31 1181.99 542.03 1181.56 542.75 1181.08 543.47 1180.52 544.19 1179.9 544.91 1179.21 545.63 1178.46 546.34 1177.64 547.06 1176.76 547.78 1175.83 548.5 1174.86 549.22 1173.86 549.94 1172.83 550.66 1171.81 551.38 1170.79 552.1 1169.79 552.81 1168.84 553.53 1167.93 554.25 1167.09 554.97 1166.33 555.69 1165.65 556.41 1165.07 557.13 1164.58 557.85 1164.19 558.57 1163.9 559.28 1163.7 560 1163.6 560.72 1163.58 561.44 1163.64 562.16 1163.77 562.88 1163.97 563.6 1164.22 564.32 1164.53 565.04 1164.87 565.75 1165.25 566.47 1165.66 567.19 1166.1 567.91 1166.55 568.63 1167.02 569.35 1167.51 570.07 1168 570.79 1168.51 571.5 1169.02 572.22 1169.54 572.94 1170.07 573.66 1170.6 574.38 1171.14 575.1 1171.68 575.82 1172.24 576.54 1172.8 577.26 1173.36 577.97 1173.93 578.69 1174.51 579.41 1175.09 580.13 1175.68 580.85 1176.26 581.57 1176.85 582.29 1177.42 583.01 1177.99 583.73 1178.55 584.44 1179.09 585.16 1179.6 585.88 1180.1 586.6 1180.56 587.32 1181 588.04 1181.4 588.76 1181.77 589.48 1182.1 590.2 1182.4 590.91 1182.66 591.63 1182.89 592.35 1183.09 593.07 1183.26 593.79 1183.4 594.51 1183.52 595.23 L1184.43 595.23 1184.55 594.51 1184.7 593.79 1184.87 593.07 1185.06 592.35 1185.29 591.63 1185.56 590.91 1185.86 590.2 1186.19 589.48 1186.56 588.76 1186.96 588.04 1187.39 587.32 1187.86 586.6 1188.35 585.88 1188.87 585.16 1189.41 584.44 1189.96 583.73 1190.53 583.01 1191.11 582.29 1191.69 581.57 1192.28 580.85 1192.86 580.13 1193.44 579.41 1194.02 578.69 1194.59 577.97 1195.16 577.26 1195.72 576.54 1196.27 575.82 1196.82 575.1 1197.36 574.38 1197.89 573.66 1198.42 572.94 1198.94 572.22 1199.45 571.5 1199.95 570.79 1200.45 570.07 1200.93 569.35 1201.4 568.63 1201.86 567.91 1202.29 567.19 1202.7 566.47 1203.08 565.75 1203.43 565.04 1203.73 564.32 1203.99 563.6 1204.18 562.88 1204.32 562.16 1204.38 561.44 1204.36 560.72 1204.26 560 1204.06 559.28 1203.77 558.57 1203.38 557.85 1202.89 557.13 1202.3 556.41 1201.62 555.69 1200.86 554.97 1200.02 554.25 1199.12 553.53 1198.16 552.81 1197.17 552.1 1196.15 551.38 1195.12 550.66 1194.1 549.94 1193.1 549.22 1192.12 548.5 1191.19 547.78 1190.32 547.06 1189.5 546.34 1188.74 545.63 1188.05 544.91 1187.43 544.19 1186.88 543.47 1186.39 542.75 1185.97 542.03 1185.61 541.31 1185.29 540.59 1185.03 539.87 1184.82 539.16 1184.64 538.44Z" fill="#a1eea1" fill-opacity="0.3" stroke="#555" stroke-opacity="0.3" stroke-width="1.3" stroke-linejoin="round"/>
<path d="M1234.29 547.96 1234.02 548.67 1233.69 549.37 1233.32 550.08 1232.88 550.79 1232.4 551.5 1231.86 552.21 1231.27 552.92 1230.63 553.62 1229.95 554.33 1229.23 555.04 1228.49 555.75 1227.74 556.46 1226.98 557.17 1226.24 557.87 1225.52 558.58 1224.84 559.29 1224.2 560 1223.61 560.71 1223.09 561.42 1222.62 562.12 1222.21 562.83 1221.86 563.54 1221.56 564.25 1221.31 564.96 1221.08 565.67 1220.88 566.37 1220.68 567.08 1220.49 567.79 1220.28 568.5 1220.05 569.21 1219.78 569.91 1219.49 570.62 1219.15 571.33 1218.79 572.04 1218.39 572.75 1217.97 573.46 1217.54 574.16 1217.1 574.87 1216.67 575.58 1216.27 576.29 1215.9 577 1215.58 577.71 1215.32 578.41 1215.14 579.12 1215.04 579.83 1215.03 580.54 1215.12 581.25 1215.31 581.96 1215.6 582.66 1215.99 583.37 1216.48 584.08 1217.06 584.79 1217.73 585.5 1218.46 586.21 1219.27 586.91 1220.12 587.62 1221.02 588.33 1221.95 589.04 1222.89 589.75 1223.84 590.46 1224.79 591.16 1225.72 591.87 1226.63 592.58 1227.51 593.29 1228.34 594 1229.14 594.71 1229.88 595.41 1230.58 596.12 1231.22 596.83 1231.8 597.54 1232.33 598.25 1232.8 598.95 1233.22 599.66 1233.59 600.37 1233.91 601.08 1234.19 601.79 1234.42 602.5 1234.62 603.2 1234.79 603.91 L1236.08 603.91 1236.24 603.2 1236.44 602.5 1236.68 601.79 1236.95 601.08 1237.27 600.37 1237.64 599.66 1238.06 598.95 1238.54 598.25 1239.06 597.54 1239.65 596.83 1240.29 596.12 1240.98 595.41 1241.73 594.71 1242.52 594 1243.36 593.29 1244.24 592.58 1245.15 591.87 1246.08 591.16 1247.02 590.46 1247.97 589.75 1248.92 589.04 1249.85 588.33 1250.74 587.62 1251.6 586.91 1252.4 586.21 1253.14 585.5 1253.8 584.79 1254.38 584.08 1254.87 583.37 1255.26 582.66 1255.55 581.96 1255.74 581.25 1255.83 580.54 1255.82 579.83 1255.72 579.12 1255.54 578.41 1255.28 577.71 1254.97 577 1254.6 576.29 1254.19 575.58 1253.76 574.87 1253.33 574.16 1252.89 573.46 1252.47 572.75 1252.08 572.04 1251.71 571.33 1251.38 570.62 1251.08 569.91 1250.82 569.21 1250.59 568.5 1250.38 567.79 1250.18 567.08 1249.99 566.37 1249.78 565.67 1249.56 564.96 1249.3 564.25 1249 563.54 1248.65 562.83 1248.25 562.12 1247.78 561.42 1247.25 560.71 1246.66 560 1246.03 559.29 1245.34 558.58 1244.62 557.87 1243.88 557.17 1243.13 556.46 1242.38 555.75 1241.64 555.04 1240.92 554.33 1240.24 553.62 1239.6 552.92 1239.01 552.21 1238.47 551.5 1237.98 550.79 1237.55 550.08 1237.17 549.37 1236.85 548.67 1236.57 547.96Z" fill="#f4c99f" fill-opacity="0.3" stroke="#555" stroke-opacity="0.3" stroke-width="1.3" stroke-linejoin="round"/>
<rect x="1076.54" y="515.39" width="10.4" height="46.94" fill="#f2a5a5" stroke="#6f6f6f" stroke-width="1.15"/>
<path class="bx" d="M1076.54 522.24H1086.94M1081.74 515.39V475.47M1079.34 475.47H1084.14M1081.74 562.32V582.37M1079.34 582.37H1084.14"/>
<rect x="1127.66" y="544.62" width="10.4" height="24.72" fill="#74b0ea" stroke="#6f6f6f" stroke-width="1.15"/>
<path class="bx" d="M1127.66 557.31H1138.06M1132.86 544.62V538.44M1130.46 538.44H1135.26M1132.86 569.34V581.36M1130.46 581.36H1135.26"/>
<rect x="1178.78" y="556.31" width="10.4" height="14.7" fill="#a1eea1" stroke="#6f6f6f" stroke-width="1.15"/>
<path class="bx" d="M1178.78 563.16H1189.18M1183.98 556.31V551.3M1181.58 551.3H1186.38M1183.98 571.01V581.86M1181.58 581.86H1186.38"/>
<rect x="1230.23" y="567.33" width="10.4" height="15.7" fill="#f4c99f" stroke="#6f6f6f" stroke-width="1.15"/>
<path class="bx" d="M1230.23 576.02H1240.63M1235.43 567.33V560.49M1233.03 560.49H1237.83M1235.43 583.03V590.22M1233.03 590.22H1237.83"/>
<g fill="#ff9999" fill-opacity="0.7">
<circle cx="1077.56" cy="475.47" r="2.6"/>
<circle cx="1083.74" cy="509.54" r="2.6"/>
<circle cx="1086.25" cy="515.39" r="2.6"/>
<circle cx="1079.57" cy="524.24" r="2.6"/>
<circle cx="1085.41" cy="538.44" r="2.6"/>
<circle cx="1077.06" cy="570.17" r="2.6"/>
<circle cx="1082.91" cy="580.19" r="2.6"/>
<circle cx="1079.23" cy="582.7" r="2.6"/>
</g>
<g fill="#66b3ff" fill-opacity="0.7">
<circle cx="1129.35" cy="538.44" r="2.6"/>
<circle cx="1136.03" cy="539.27" r="2.6"/>
<circle cx="1128.01" cy="547.62" r="2.6"/>
<circle cx="1138.04" cy="564.33" r="2.6"/>
<circle cx="1135.03" cy="570.51" r="2.6"/>
<circle cx="1132.69" cy="578.52" r="2.6"/>
<circle cx="1131.02" cy="581.53" r="2.6"/>
</g>
<g fill="#99ff99" fill-opacity="0.7">
<circle cx="1182.31" cy="551.3" r="2.6"/>
<circle cx="1185.65" cy="555.98" r="2.6"/>
<circle cx="1188.99" cy="566" r="2.6"/>
<circle cx="1179.3" cy="565.16" r="2.6"/>
<circle cx="1187.65" cy="572.34" r="2.6"/>
<circle cx="1179.47" cy="577.19" r="2.6"/>
<circle cx="1183.98" cy="581.86" r="2.6"/>
</g>
<g fill="#ffcc99" fill-opacity="0.7">
<circle cx="1232.09" cy="560.99" r="2.6"/>
<circle cx="1239.11" cy="561.82" r="2.6"/>
<circle cx="1234.1" cy="575.18" r="2.6"/>
<circle cx="1237.44" cy="581.03" r="2.6"/>
<circle cx="1231.26" cy="584.37" r="2.6"/>
<circle cx="1231.26" cy="590.55" r="2.6"/>
</g>
<path class="ax" style="stroke:#7d7d7d" d="M1056 421.5H1261"/>
<path class="ax" style="stroke:#7d7d7d" d="M1056 636.5H1261"/>
<path class="ax" style="stroke:#7d7d7d" d="M1056.5 421V637"/>
<path class="ax" style="stroke:#7d7d7d" d="M1260.5 421V637"/>
<path class="tk" d="M1051.9 459.5H1056.5"/>
<text class="t" text-anchor="end" letter-spacing="-0.13" x="1048.6" y="466.3">2.0</text>
<path class="tk" d="M1051.9 507.5H1056.5"/>
<text class="t" text-anchor="end" letter-spacing="-0.13" x="1048.6" y="514.3">1.5</text>
<path class="tk" d="M1051.9 556.5H1056.5"/>
<text class="t" text-anchor="end" letter-spacing="-0.13" x="1048.6" y="563.3">1.0</text>
<path class="tk" d="M1051.9 604.5H1056.5"/>
<text class="t" text-anchor="end" letter-spacing="-0.13" x="1048.6" y="611.3">0.5</text>
<path class="tk" d="M1081.5 636.5V641.1"/>
<text class="t" text-anchor="middle" x="1081.74" y="658.4">1</text>
<path class="tk" d="M1132.5 636.5V641.1"/>
<text class="t" text-anchor="middle" x="1132.86" y="658.4">2</text>
<path class="tk" d="M1183.5 636.5V641.1"/>
<text class="t" text-anchor="middle" x="1183.98" y="658.4">3</text>
<path class="tk" d="M1235.5 636.5V641.1"/>
<text class="t" text-anchor="middle" x="1235.43" y="658.4">4</text>
<text class="t" text-anchor="middle" x="1158.5" y="681.1">Group</text>
<text class="t" text-anchor="middle" transform="translate(1015.38 530.3) rotate(-90)" x="0" y="0">MAPE</text>
</g>
<g id="c1">
<path class="g" d="M136.5 795.5H342.5"/>
<path class="g" d="M136.5 869.5H342.5"/>
<path class="g" d="M136.5 944.5H342.5"/>
<path d="M161.38 774.2 161.23 776.09 161.06 777.97 160.85 779.85 160.61 781.74 160.32 783.62 159.98 785.5 159.6 787.39 159.16 789.27 158.67 791.16 158.12 793.04 157.52 794.92 156.86 796.81 156.16 798.69 155.41 800.58 154.62 802.46 153.81 804.34 152.98 806.23 152.14 808.11 151.31 809.99 150.51 811.88 149.73 813.76 149 815.65 148.32 817.53 147.71 819.41 147.16 821.3 146.69 823.18 146.29 825.07 145.96 826.95 145.69 828.83 145.47 830.72 145.29 832.6 145.14 834.48 144.99 836.37 144.84 838.25 144.68 840.14 144.49 842.02 144.27 843.9 144.01 845.79 143.71 847.67 143.39 849.56 143.04 851.44 142.68 853.32 142.33 855.21 142.01 857.09 141.72 858.97 141.5 860.86 141.35 862.74 141.3 864.63 141.36 866.51 141.53 868.39 141.83 870.28 142.25 872.16 142.79 874.05 143.45 875.93 144.21 877.81 145.07 879.7 146 881.58 147 883.46 148.05 885.35 149.12 887.23 150.2 889.12 151.28 891 152.33 892.88 153.35 894.77 154.32 896.65 155.24 898.54 156.09 900.42 156.88 902.3 157.59 904.19 158.24 906.07 158.82 907.95 159.32 909.84 159.77 911.72 160.15 913.61 160.48 915.49 160.76 917.37 160.99 919.26 161.18 921.14 161.34 923.03 L162.47 923.03 162.63 921.14 162.82 919.26 163.05 917.37 163.33 915.49 163.66 913.61 164.04 911.72 164.48 909.84 164.99 907.95 165.57 906.07 166.21 904.19 166.93 902.3 167.72 900.42 168.57 898.54 169.49 896.65 170.46 894.77 171.48 892.88 172.53 891 173.61 889.12 174.69 887.23 175.76 885.35 176.8 883.46 177.8 881.58 178.74 879.7 179.6 877.81 180.36 875.93 181.02 874.05 181.56 872.16 181.98 870.28 182.28 868.39 182.45 866.51 182.5 864.63 182.45 862.74 182.31 860.86 182.08 858.97 181.8 857.09 181.47 855.21 181.12 853.32 180.77 851.44 180.42 849.56 180.09 847.67 179.8 845.79 179.54 843.9 179.32 842.02 179.13 840.14 178.96 838.25 178.82 836.37 178.67 834.48 178.52 832.6 178.34 830.72 178.12 828.83 177.85 826.95 177.52 825.07 177.12 823.18 176.65 821.3 176.1 819.41 175.49 817.53 174.81 815.65 174.08 813.76 173.3 811.88 172.49 809.99 171.66 808.11 170.83 806.23 170 804.34 169.19 802.46 168.4 800.58 167.65 798.69 166.95 796.81 166.29 794.92 165.69 793.04 165.14 791.16 164.65 789.27 164.21 787.39 163.83 785.5 163.49 783.62 163.2 781.74 162.95 779.85 162.75 777.97 162.57 776.09 162.43 774.2Z" fill="#f2a5a5" fill-opacity="0.3" stroke="#555" stroke-opacity="0.3" stroke-width="1.3" stroke-linejoin="round"/>
<path d="M212.91 941.57 212.62 941.77 212.3 941.98 211.95 942.19 211.6 942.39 211.23 942.6 210.86 942.81 210.48 943.02 210.1 943.22 209.71 943.43 209.31 943.64 208.92 943.84 208.51 944.05 208.11 944.26 207.7 944.47 207.29 944.67 206.88 944.88 206.46 945.09 206.05 945.3 205.62 945.5 205.2 945.71 204.78 945.92 204.35 946.12 203.92 946.33 203.49 946.54 203.06 946.75 202.62 946.95 202.19 947.16 201.75 947.37 201.31 947.57 200.87 947.78 200.43 947.99 199.99 948.2 199.54 948.4 199.09 948.61 198.65 948.82 198.2 949.02 197.75 949.23 197.3 949.44 196.84 949.65 196.39 949.85 195.94 950.06 195.48 950.27 195.02 950.48 194.57 950.68 194.11 950.89 193.65 951.1 193.18 951.3 193.23 951.51 193.93 951.72 194.62 951.93 195.32 952.13 196.01 952.34 196.69 952.55 197.38 952.75 198.06 952.96 198.74 953.17 199.42 953.38 200.09 953.58 200.76 953.79 201.42 954 202.09 954.21 202.75 954.41 203.4 954.62 204.05 954.83 204.7 955.03 205.34 955.24 205.98 955.45 206.61 955.66 207.24 955.86 207.86 956.07 208.47 956.28 209.08 956.48 209.68 956.69 210.26 956.9 210.84 957.11 211.4 957.31 211.94 957.52 212.46 957.73 212.91 957.93 L214.14 957.93 214.59 957.73 215.11 957.52 215.65 957.31 216.21 957.11 216.79 956.9 217.38 956.69 217.97 956.48 218.58 956.28 219.19 956.07 219.81 955.86 220.44 955.66 221.07 955.45 221.71 955.24 222.35 955.03 223 954.83 223.65 954.62 224.3 954.41 224.96 954.21 225.63 954 226.29 953.79 226.96 953.58 227.64 953.38 228.31 953.17 228.99 952.96 229.67 952.75 230.36 952.55 231.05 952.34 231.74 952.13 232.43 951.93 233.12 951.72 233.82 951.51 233.87 951.3 233.41 951.1 232.95 950.89 232.49 950.68 232.03 950.48 231.57 950.27 231.12 950.06 230.66 949.85 230.21 949.65 229.75 949.44 229.3 949.23 228.85 949.02 228.4 948.82 227.96 948.61 227.51 948.4 227.07 948.2 226.62 947.99 226.18 947.78 225.74 947.57 225.3 947.37 224.86 947.16 224.43 946.95 223.99 946.75 223.56 946.54 223.13 946.33 222.7 946.12 222.27 945.92 221.85 945.71 221.43 945.5 221.01 945.3 220.59 945.09 220.17 944.88 219.76 944.67 219.35 944.47 218.94 944.26 218.54 944.05 218.14 943.84 217.74 943.64 217.34 943.43 216.96 943.22 216.57 943.02 216.19 942.81 215.82 942.6 215.46 942.39 215.1 942.19 214.76 941.98 214.43 941.77 214.14 941.57Z" fill="#74b0ea" fill-opacity="0.3" stroke="#555" stroke-opacity="0.3" stroke-width="1.3" stroke-linejoin="round"/>
<path d="M264.53 946.91 264.48 947.07 264.38 947.22 264.23 947.37 264.05 947.53 263.82 947.68 263.57 947.84 263.28 947.99 262.96 948.15 262.61 948.3 262.23 948.45 261.83 948.61 261.4 948.76 260.94 948.92 260.46 949.07 259.96 949.23 259.43 949.38 258.87 949.53 258.29 949.69 257.69 949.84 257.07 950 256.43 950.15 255.76 950.31 255.07 950.46 254.36 950.61 253.63 950.77 252.88 950.92 252.11 951.08 251.32 951.23 250.5 951.39 249.67 951.54 248.82 951.7 247.95 951.85 247.06 952 246.15 952.16 245.22 952.31 244.77 952.47 245.55 952.62 246.31 952.78 247.06 952.93 247.79 953.08 248.52 953.24 249.23 953.39 249.92 953.55 250.61 953.7 251.28 953.86 251.93 954.01 252.57 954.16 253.2 954.32 253.82 954.47 254.42 954.63 255 954.78 255.57 954.94 256.13 955.09 256.67 955.25 257.2 955.4 257.71 955.55 258.21 955.71 258.69 955.86 259.15 956.02 259.6 956.17 260.03 956.33 260.45 956.48 260.85 956.63 261.23 956.79 261.6 956.94 261.94 957.1 262.27 957.25 262.58 957.41 262.87 957.56 263.15 957.71 263.4 957.87 263.63 958.02 263.83 958.18 264.02 958.33 264.18 958.49 264.32 958.64 264.42 958.8 264.5 958.95 264.53 959.1 L265.77 959.1 265.8 958.95 265.87 958.8 265.98 958.64 266.11 958.49 266.27 958.33 266.46 958.18 266.67 958.02 266.9 957.87 267.15 957.71 267.42 957.56 267.71 957.41 268.02 957.25 268.35 957.1 268.7 956.94 269.06 956.79 269.45 956.63 269.84 956.48 270.26 956.33 270.69 956.17 271.14 956.02 271.61 955.86 272.09 955.71 272.58 955.55 273.1 955.4 273.62 955.25 274.17 955.09 274.72 954.94 275.29 954.78 275.88 954.63 276.48 954.47 277.09 954.32 277.72 954.16 278.36 954.01 279.02 953.86 279.69 953.7 280.37 953.55 281.07 953.39 281.78 953.24 282.5 953.08 283.24 952.93 283.99 952.78 284.75 952.62 285.52 952.47 285.07 952.31 284.15 952.16 283.24 952 282.35 951.85 281.47 951.7 280.62 951.54 279.79 951.39 278.98 951.23 278.19 951.08 277.41 950.92 276.66 950.77 275.93 950.61 275.22 950.46 274.53 950.31 273.87 950.15 273.22 950 272.6 949.84 272 949.69 271.42 949.53 270.87 949.38 270.34 949.23 269.83 949.07 269.35 948.92 268.89 948.76 268.46 948.61 268.06 948.45 267.68 948.3 267.34 948.15 267.02 947.99 266.73 947.84 266.47 947.68 266.25 947.53 266.06 947.37 265.91 947.22 265.81 947.07 265.77 946.91Z" fill="#a1eea1" fill-opacity="0.3" stroke="#555" stroke-opacity="0.3" stroke-width="1.3" stroke-linejoin="round"/>
<path d="M315.17 945.07 314.82 945.41 314.41 945.75 313.93 946.08 313.37 946.42 312.75 946.75 312.05 947.09 311.29 947.43 310.45 947.76 309.56 948.1 308.63 948.44 307.65 948.77 306.66 949.11 305.66 949.44 304.67 949.78 303.7 950.12 302.78 950.45 301.9 950.79 301.09 951.12 300.35 951.46 299.69 951.8 299.1 952.13 298.58 952.47 298.13 952.81 297.74 953.14 297.4 953.48 297.11 953.81 296.85 954.15 296.63 954.49 296.44 954.82 296.28 955.16 296.15 955.49 296.05 955.83 296 956.17 296 956.5 296.07 956.84 296.2 957.18 296.41 957.51 296.71 957.85 297.1 958.18 297.57 958.52 298.13 958.86 298.77 959.19 299.48 959.53 300.24 959.86 301.04 960.2 301.87 960.54 302.7 960.87 303.53 961.21 304.33 961.55 305.1 961.88 305.83 962.22 306.51 962.55 307.14 962.89 307.71 963.23 308.23 963.56 308.71 963.9 309.15 964.24 309.56 964.57 309.94 964.91 310.31 965.24 310.66 965.58 311.01 965.92 311.36 966.25 311.72 966.59 312.07 966.92 312.43 967.26 312.79 967.6 313.14 967.93 313.49 968.27 313.83 968.61 314.15 968.94 314.46 969.28 314.75 969.61 315.01 969.95 315.26 970.29 315.47 970.62 315.66 970.96 315.83 971.29 315.98 971.63 L317.23 971.63 317.37 971.29 317.54 970.96 317.73 970.62 317.95 970.29 318.19 969.95 318.46 969.61 318.74 969.28 319.05 968.94 319.38 968.61 319.71 968.27 320.06 967.93 320.42 967.6 320.77 967.26 321.13 966.92 321.49 966.59 321.84 966.25 322.19 965.92 322.54 965.58 322.9 965.24 323.26 964.91 323.65 964.57 324.05 964.24 324.49 963.9 324.97 963.56 325.49 963.23 326.07 962.89 326.69 962.55 327.37 962.22 328.1 961.88 328.87 961.55 329.68 961.21 330.5 960.87 331.34 960.54 332.16 960.2 332.96 959.86 333.73 959.53 334.43 959.19 335.07 958.86 335.63 958.52 336.11 958.18 336.49 957.85 336.79 957.51 337 957.18 337.14 956.84 337.2 956.5 337.2 956.17 337.15 955.83 337.06 955.49 336.93 955.16 336.76 954.82 336.57 954.49 336.35 954.15 336.1 953.81 335.81 953.48 335.47 953.14 335.08 952.81 334.63 952.47 334.11 952.13 333.52 951.8 332.85 951.46 332.11 951.12 331.3 950.79 330.43 950.45 329.5 950.12 328.54 949.78 327.55 949.44 326.55 949.11 325.55 948.77 324.58 948.44 323.64 948.1 322.75 947.76 321.92 947.43 321.15 947.09 320.45 946.75 319.83 946.42 319.28 946.08 318.8 945.75 318.38 945.41 318.03 945.07Z" fill="#f4c99f" fill-opacity="0.3" stroke="#555" stroke-opacity="0.3" stroke-width="1.3" stroke-linejoin="round"/>
<rect x="156.7" y="827.32" width="10.4" height="45.27" fill="#f2a5a5" stroke="#6f6f6f" stroke-width="1.15"/>
<path class="bx" d="M156.7 856.55H167.1M161.9 827.32V808.44M159.5 808.44H164.3M161.9 872.58V888.28M159.5 888.28H164.3"/>
<rect x="208.33" y="949.25" width="10.4" height="4.51" fill="#74b0ea" stroke="#6f6f6f" stroke-width="1.15"/>
<path class="bx" d="M208.33 951.75H218.73M213.53 949.25V946.74M211.13 946.74H215.93M213.53 953.76V954.76M211.13 954.76H215.93"/>
<rect x="259.95" y="950.08" width="10.4" height="5.01" fill="#a1eea1" stroke="#6f6f6f" stroke-width="1.15"/>
<path class="bx" d="M259.95 952.59H270.35M265.15 950.08V949.42M262.75 949.42H267.55M265.15 955.1V956.77M262.75 956.77H267.55"/>
<rect x="311.4" y="952.09" width="10.4" height="7.52" fill="#f4c99f" stroke="#6f6f6f" stroke-width="1.15"/>
<path class="bx" d="M311.4 956.77H321.8M316.6 952.09V951.25M314.2 951.25H319M316.6 959.6V965.62M314.2 965.62H319"/>
<g fill="#ff9999" fill-opacity="0.7">
<circle cx="166.75" cy="808.44" r="2.6"/>
<circle cx="157.89" cy="822.81" r="2.6"/>
<circle cx="162.07" cy="825.65" r="2.6"/>
<circle cx="162.91" cy="831.49" r="2.6"/>
<circle cx="158.4" cy="850.7" r="2.6"/>
<circle cx="157.89" cy="861.22" r="2.6"/>
<circle cx="161.74" cy="868.57" r="2.6"/>
<circle cx="162.91" cy="876.93" r="2.6"/>
<circle cx="166.58" cy="888.62" r="2.6"/>
</g>
<g fill="#66b3ff" fill-opacity="0.7">
<circle cx="210.18" cy="945.74" r="2.6"/>
<circle cx="218.87" cy="946.41" r="2.6"/>
<circle cx="215.86" cy="950.25" r="2.6"/>
<circle cx="219.54" cy="952.76" r="2.6"/>
<circle cx="212.02" cy="954.59" r="2.6"/>
<circle cx="217.03" cy="954.59" r="2.6"/>
<circle cx="211.35" cy="946.41" r="2.6"/>
<circle cx="220.04" cy="947.08" r="2.6"/>
<circle cx="217.03" cy="950.92" r="2.6"/>
<circle cx="220.71" cy="953.42" r="2.6"/>
<circle cx="213.19" cy="955.26" r="2.6"/>
<circle cx="218.2" cy="955.26" r="2.6"/>
</g>
<g fill="#99ff99" fill-opacity="0.7">
<circle cx="261.81" cy="950.25" r="2.6"/>
<circle cx="266.82" cy="950.75" r="2.6"/>
<circle cx="269.32" cy="952.76" r="2.6"/>
<circle cx="260.47" cy="955.93" r="2.6"/>
<circle cx="264.98" cy="955.26" r="2.6"/>
<circle cx="262.98" cy="950.92" r="2.6"/>
<circle cx="267.99" cy="951.42" r="2.6"/>
<circle cx="270.49" cy="953.42" r="2.6"/>
<circle cx="261.64" cy="956.6" r="2.6"/>
<circle cx="266.15" cy="955.93" r="2.6"/>
</g>
<g fill="#ffcc99" fill-opacity="0.7">
<circle cx="314.76" cy="951.42" r="2.6"/>
<circle cx="320.95" cy="952.09" r="2.6"/>
<circle cx="313.43" cy="957.1" r="2.6"/>
<circle cx="319.78" cy="958.44" r="2.6"/>
<circle cx="321.61" cy="965.28" r="2.6"/>
</g>
<path class="ax" d="M136 764.5H343"/>
<path class="ax" d="M136 981.5H343"/>
<path class="ax" d="M136.5 764V982"/>
<path class="ax" d="M342.5 764V982"/>
<path class="tk" d="M131.9 795.5H136.5"/>
<text class="t" text-anchor="end" letter-spacing="-0.13" x="128.6" y="802.3">0.03</text>
<path class="tk" d="M131.9 869.5H136.5"/>
<text class="t" text-anchor="end" letter-spacing="-0.13" x="128.6" y="876.3">0.02</text>
<path class="tk" d="M131.9 944.5H136.5"/>
<text class="t" text-anchor="end" letter-spacing="-0.13" x="128.6" y="951.3">0.01</text>
<path class="tk" d="M161.5 981.5V986.1"/>
<text class="t" text-anchor="middle" x="161.9" y="1003.4">1</text>
<path class="tk" d="M213.5 981.5V986.1"/>
<text class="t" text-anchor="middle" x="213.53" y="1003.4">2</text>
<path class="tk" d="M265.5 981.5V986.1"/>
<text class="t" text-anchor="middle" x="265.15" y="1003.4">3</text>
<path class="tk" d="M316.5 981.5V986.1"/>
<text class="t" text-anchor="middle" x="316.6" y="1003.4">4</text>
<text class="t" text-anchor="middle" x="239.5" y="1026.1">Group</text>
<text class="t" text-anchor="middle" transform="translate(84.57 874.3) rotate(-90)" x="0" y="0">RMSE</text>
</g>
<g id="c2">
<path class="g" d="M442.5 766.5H648.5"/>
<path class="g" d="M442.5 810.5H648.5"/>
<path class="g" d="M442.5 854.5H648.5"/>
<path class="g" d="M442.5 899.5H648.5"/>
<path class="g" d="M442.5 943.5H648.5"/>
<path d="M467.43 785.56 467.24 787.92 467.02 790.27 466.75 792.63 466.42 794.99 466.03 797.35 465.58 799.7 465.05 802.06 464.45 804.42 463.76 806.78 463 809.13 462.15 811.49 461.23 813.85 460.23 816.21 459.17 818.56 458.07 820.92 456.92 823.28 455.76 825.64 454.6 827.99 453.46 830.35 452.37 832.71 451.34 835.07 450.4 837.42 449.57 839.78 448.86 842.14 448.29 844.5 447.87 846.85 447.59 849.21 447.47 851.57 447.49 853.93 447.64 856.28 447.9 858.64 448.27 861 448.72 863.36 449.22 865.71 449.75 868.07 450.3 870.43 450.84 872.79 451.36 875.14 451.84 877.5 452.28 879.86 452.67 882.22 453.02 884.57 453.32 886.93 453.59 889.29 453.83 891.64 454.06 894 454.3 896.36 454.54 898.72 454.82 901.07 455.12 903.43 455.48 905.79 455.87 908.15 456.32 910.5 456.81 912.86 457.35 915.22 457.93 917.58 458.54 919.93 459.17 922.29 459.82 924.65 460.47 927.01 461.12 929.36 461.75 931.72 462.37 934.08 462.96 936.44 463.53 938.79 464.06 941.15 464.55 943.51 465.01 945.87 465.43 948.22 465.81 950.58 466.14 952.94 466.45 955.3 466.71 957.65 466.94 960.01 467.15 962.37 467.32 964.73 467.46 967.08 467.58 969.44 467.69 971.8 L468.45 971.8 468.55 969.44 468.67 967.08 468.82 964.73 468.99 962.37 469.19 960.01 469.42 957.65 469.69 955.3 469.99 952.94 470.33 950.58 470.71 948.22 471.13 945.87 471.58 943.51 472.08 941.15 472.61 938.79 473.17 936.44 473.77 934.08 474.39 931.72 475.02 929.36 475.67 927.01 476.32 924.65 476.97 922.29 477.6 919.93 478.21 917.58 478.78 915.22 479.32 912.86 479.82 910.5 480.26 908.15 480.66 905.79 481.01 903.43 481.32 901.07 481.59 898.72 481.84 896.36 482.08 894 482.31 891.64 482.55 889.29 482.82 886.93 483.12 884.57 483.46 882.22 483.86 879.86 484.29 877.5 484.78 875.14 485.29 872.79 485.84 870.43 486.38 868.07 486.92 865.71 487.42 863.36 487.87 861 488.23 858.64 488.5 856.28 488.65 853.93 488.67 851.57 488.54 849.21 488.27 846.85 487.84 844.5 487.27 842.14 486.57 839.78 485.73 837.42 484.8 835.07 483.77 832.71 482.68 830.35 481.54 827.99 480.38 825.64 479.22 823.28 478.07 820.92 476.96 818.56 475.91 816.21 474.91 813.85 473.99 811.49 473.14 809.13 472.37 806.78 471.69 804.42 471.08 802.06 470.56 799.7 470.1 797.35 469.72 794.99 469.39 792.63 469.12 790.27 468.89 787.92 468.71 785.56Z" fill="#f2a5a5" fill-opacity="0.3" stroke="#555" stroke-opacity="0.3" stroke-width="1.3" stroke-linejoin="round"/>
<path d="M519.07 779.05 519.06 779.17 519 779.29 518.92 779.41 518.8 779.54 518.64 779.66 518.45 779.78 518.23 779.9 517.97 780.03 517.68 780.15 517.35 780.27 516.99 780.39 516.59 780.52 516.16 780.64 515.69 780.76 515.19 780.89 514.66 781.01 514.09 781.13 513.49 781.25 512.85 781.38 512.18 781.5 511.47 781.62 510.73 781.74 509.96 781.87 509.15 781.99 508.3 782.11 507.42 782.23 506.51 782.36 505.56 782.48 504.58 782.6 503.56 782.72 502.51 782.85 501.43 782.97 500.31 783.09 499.15 783.22 499.92 783.34 500.78 783.46 501.63 783.58 502.45 783.71 503.25 783.83 504.03 783.95 504.79 784.07 505.53 784.2 506.25 784.32 506.96 784.44 507.64 784.56 508.3 784.69 508.94 784.81 509.57 784.93 510.17 785.05 510.75 785.18 511.32 785.3 511.86 785.42 512.39 785.55 512.89 785.67 513.38 785.79 513.84 785.91 514.29 786.04 514.71 786.16 515.12 786.28 515.5 786.4 515.87 786.53 516.21 786.65 516.54 786.77 516.85 786.89 517.13 787.02 517.4 787.14 517.65 787.26 517.88 787.38 518.08 787.51 518.27 787.63 518.44 787.75 518.59 787.88 518.72 788 518.83 788.12 518.91 788.24 518.98 788.37 519.03 788.49 519.06 788.61 519.07 788.73 L520.31 788.73 520.32 788.61 520.35 788.49 520.4 788.37 520.47 788.24 520.56 788.12 520.66 788 520.79 787.88 520.94 787.75 521.11 787.63 521.3 787.51 521.51 787.38 521.73 787.26 521.98 787.14 522.25 787.02 522.53 786.89 522.84 786.77 523.17 786.65 523.51 786.53 523.88 786.4 524.26 786.28 524.67 786.16 525.1 786.04 525.54 785.91 526.01 785.79 526.49 785.67 526.99 785.55 527.52 785.42 528.06 785.3 528.63 785.18 529.21 785.05 529.81 784.93 530.44 784.81 531.08 784.69 531.74 784.56 532.42 784.44 533.13 784.32 533.85 784.2 534.59 784.07 535.35 783.95 536.13 783.83 536.93 783.71 537.75 783.58 538.6 783.46 539.46 783.34 540.23 783.22 539.08 783.09 537.95 782.97 536.87 782.85 535.82 782.72 534.8 782.6 533.82 782.48 532.87 782.36 531.96 782.23 531.08 782.11 530.23 781.99 529.42 781.87 528.65 781.74 527.91 781.62 527.2 781.5 526.53 781.38 525.89 781.25 525.29 781.13 524.72 781.01 524.19 780.89 523.69 780.76 523.22 780.64 522.79 780.52 522.39 780.39 522.03 780.27 521.7 780.15 521.41 780.03 521.15 779.9 520.93 779.78 520.74 779.66 520.58 779.54 520.46 779.41 520.38 779.29 520.33 779.17 520.31 779.05Z" fill="#74b0ea" fill-opacity="0.3" stroke="#555" stroke-opacity="0.3" stroke-width="1.3" stroke-linejoin="round"/>
<path d="M570.36 778.21 570.35 778.32 570.32 778.42 570.26 778.53 570.19 778.63 570.1 778.74 569.98 778.84 569.84 778.95 569.68 779.06 569.5 779.16 569.3 779.27 569.08 779.37 568.84 779.48 568.57 779.58 568.29 779.69 567.98 779.8 567.65 779.9 567.3 780.01 566.93 780.11 566.54 780.22 566.13 780.32 565.69 780.43 565.24 780.54 564.76 780.64 564.26 780.75 563.74 780.85 563.2 780.96 562.64 781.06 562.06 781.17 561.46 781.28 560.83 781.38 560.19 781.49 559.52 781.59 558.83 781.7 558.12 781.8 557.39 781.91 556.64 782.02 555.87 782.12 555.08 782.23 554.26 782.33 553.43 782.44 552.57 782.54 551.69 782.65 550.79 782.76 550.99 782.86 552.08 782.97 553.14 783.07 554.17 783.18 555.17 783.28 556.13 783.39 557.06 783.5 557.96 783.6 558.83 783.71 559.67 783.81 560.48 783.92 561.25 784.02 562 784.13 562.71 784.24 563.39 784.34 564.04 784.45 564.65 784.55 565.24 784.66 565.79 784.76 566.31 784.87 566.8 784.98 567.26 785.08 567.69 785.19 568.08 785.29 568.45 785.4 568.78 785.5 569.08 785.61 569.35 785.72 569.59 785.82 569.79 785.93 569.96 786.03 570.11 786.14 570.22 786.24 570.3 786.35 570.34 786.46 570.36 786.56 L571.6 786.56 571.61 786.46 571.66 786.35 571.74 786.24 571.85 786.14 571.99 786.03 572.17 785.93 572.37 785.82 572.61 785.72 572.88 785.61 573.18 785.5 573.51 785.4 573.87 785.29 574.27 785.19 574.69 785.08 575.15 784.98 575.64 784.87 576.17 784.76 576.72 784.66 577.3 784.55 577.92 784.45 578.57 784.34 579.25 784.24 579.96 784.13 580.7 784.02 581.48 783.92 582.28 783.81 583.12 783.71 583.99 783.6 584.89 783.5 585.83 783.39 586.79 783.28 587.79 783.18 588.81 783.07 589.87 782.97 590.96 782.86 591.17 782.76 590.27 782.65 589.39 782.54 588.53 782.44 587.69 782.33 586.88 782.23 586.09 782.12 585.31 782.02 584.56 781.91 583.83 781.8 583.12 781.7 582.43 781.59 581.77 781.49 581.12 781.38 580.5 781.28 579.89 781.17 579.31 781.06 578.75 780.96 578.21 780.85 577.69 780.75 577.19 780.64 576.72 780.54 576.26 780.43 575.83 780.32 575.42 780.22 575.03 780.11 574.65 780.01 574.31 779.9 573.98 779.8 573.67 779.69 573.38 779.58 573.12 779.48 572.88 779.37 572.65 779.27 572.45 779.16 572.27 779.06 572.11 778.95 571.98 778.84 571.86 778.74 571.77 778.63 571.69 778.53 571.64 778.42 571.61 778.32 571.6 778.21Z" fill="#a1eea1" fill-opacity="0.3" stroke="#555" stroke-opacity="0.3" stroke-width="1.3" stroke-linejoin="round"/>
<path d="M622.15 774.03 621.93 774.18 621.66 774.34 621.36 774.49 621.06 774.64 620.74 774.79 620.41 774.94 620.07 775.09 619.72 775.24 619.37 775.39 619.01 775.54 618.65 775.69 618.28 775.84 617.91 775.99 617.53 776.14 617.15 776.29 616.77 776.44 616.38 776.59 615.99 776.74 615.59 776.89 615.19 777.04 614.79 777.19 614.39 777.34 613.98 777.49 613.57 777.64 613.16 777.79 612.74 777.94 612.33 778.09 611.91 778.24 611.49 778.39 611.06 778.54 610.64 778.69 610.21 778.84 609.78 778.99 609.35 779.14 608.91 779.29 608.48 779.44 608.04 779.59 607.6 779.74 607.16 779.89 606.71 780.04 606.27 780.19 605.82 780.34 605.38 780.49 604.93 780.64 604.48 780.79 604.02 780.94 603.57 781.09 603.11 781.24 602.66 781.39 602.2 781.54 602.9 781.69 603.69 781.84 604.48 781.99 605.25 782.14 606.03 782.29 606.8 782.44 607.56 782.59 608.32 782.74 609.08 782.89 609.83 783.04 610.57 783.19 611.31 783.34 612.04 783.49 612.76 783.64 613.48 783.79 614.18 783.94 614.89 784.09 615.58 784.24 616.26 784.39 616.93 784.54 617.59 784.69 618.24 784.84 618.88 784.99 619.49 785.14 620.1 785.29 620.67 785.44 621.22 785.59 621.73 785.74 622.15 785.89 L623.38 785.89 623.8 785.74 624.31 785.59 624.86 785.44 625.44 785.29 626.04 785.14 626.66 784.99 627.29 784.84 627.94 784.69 628.6 784.54 629.27 784.39 629.96 784.24 630.65 784.09 631.35 783.94 632.06 783.79 632.77 783.64 633.5 783.49 634.23 783.34 634.96 783.19 635.71 783.04 636.45 782.89 637.21 782.74 637.97 782.59 638.73 782.44 639.5 782.29 640.28 782.14 641.06 781.99 641.84 781.84 642.63 781.69 643.33 781.54 642.88 781.39 642.42 781.24 641.96 781.09 641.51 780.94 641.06 780.79 640.61 780.64 640.16 780.49 639.71 780.34 639.26 780.19 638.82 780.04 638.38 779.89 637.94 779.74 637.5 779.59 637.06 779.44 636.62 779.29 636.19 779.14 635.76 778.99 635.33 778.84 634.9 778.69 634.47 778.54 634.05 778.39 633.63 778.24 633.21 778.09 632.79 777.94 632.37 777.79 631.96 777.64 631.55 777.49 631.15 777.34 630.74 777.19 630.34 777.04 629.94 776.89 629.55 776.74 629.15 776.59 628.77 776.44 628.38 776.29 628 776.14 627.62 775.99 627.25 775.84 626.88 775.69 626.52 775.54 626.16 775.39 625.81 775.24 625.46 775.09 625.13 774.94 624.8 774.79 624.48 774.64 624.17 774.49 623.88 774.34 623.61 774.18 623.38 774.03Z" fill="#f4c99f" fill-opacity="0.3" stroke="#555" stroke-opacity="0.3" stroke-width="1.3" stroke-linejoin="round"/>
<rect x="462.87" y="845.36" width="10.4" height="55.12" fill="#f2a5a5" stroke="#6f6f6f" stroke-width="1.15"/>
<path class="bx" d="M462.87 863.56H473.27M468.07 845.36V828.49M465.67 828.49H470.47M468.07 900.48V928.37M465.67 928.37H470.47"/>
<rect x="514.49" y="781.89" width="10.4" height="3.17" fill="#74b0ea" stroke="#6f6f6f" stroke-width="1.15"/>
<path class="bx" d="M514.49 783.39H524.89M519.69 781.89V781.05M517.29 781.05H522.09M519.69 785.06V785.73M517.29 785.73H522.09"/>
<rect x="565.78" y="781.05" width="10.4" height="3.01" fill="#a1eea1" stroke="#6f6f6f" stroke-width="1.15"/>
<path class="bx" d="M565.78 782.72H576.18M570.98 781.05V780.38M568.58 780.38H573.38M570.98 784.06V784.72M568.58 784.72H573.38"/>
<rect x="617.57" y="778.88" width="10.4" height="4.51" fill="#f4c99f" stroke="#6f6f6f" stroke-width="1.15"/>
<path class="bx" d="M617.57 781.05H627.97M622.77 778.88V777.71M620.37 777.71H625.17M622.77 783.39V784.06M620.37 784.06H625.17"/>
<g fill="#ff9999" fill-opacity="0.7">
<circle cx="467.4" cy="828.15" r="2.6"/>
<circle cx="466.23" cy="839.84" r="2.6"/>
<circle cx="470.74" cy="848.2" r="2.6"/>
<circle cx="466.06" cy="857.38" r="2.6"/>
<circle cx="470.41" cy="868.74" r="2.6"/>
<circle cx="468.74" cy="895.3" r="2.6"/>
<circle cx="471.58" cy="902.48" r="2.6"/>
<circle cx="466.57" cy="906.66" r="2.6"/>
<circle cx="463.72" cy="928.37" r="2.6"/>
</g>
<g fill="#66b3ff" fill-opacity="0.7">
<circle cx="520.19" cy="780.88" r="2.6"/>
<circle cx="517.02" cy="784.06" r="2.6"/>
<circle cx="523.37" cy="784.06" r="2.6"/>
<circle cx="516.35" cy="786.56" r="2.6"/>
<circle cx="521.36" cy="785.39" r="2.6"/>
<circle cx="521.36" cy="781.55" r="2.6"/>
<circle cx="518.19" cy="784.72" r="2.6"/>
<circle cx="524.54" cy="784.72" r="2.6"/>
<circle cx="517.52" cy="787.23" r="2.6"/>
<circle cx="522.53" cy="786.06" r="2.6"/>
</g>
<g fill="#99ff99" fill-opacity="0.7">
<circle cx="569.98" cy="780.21" r="2.6"/>
<circle cx="566.8" cy="783.39" r="2.6"/>
<circle cx="572.48" cy="783.39" r="2.6"/>
<circle cx="576.83" cy="782.22" r="2.6"/>
<circle cx="571.14" cy="780.88" r="2.6"/>
<circle cx="567.97" cy="784.06" r="2.6"/>
<circle cx="573.65" cy="784.06" r="2.6"/>
<circle cx="577.99" cy="782.89" r="2.6"/>
</g>
<g fill="#ffcc99" fill-opacity="0.7">
<circle cx="623.6" cy="777.21" r="2.6"/>
<circle cx="620.43" cy="780.88" r="2.6"/>
<circle cx="627.44" cy="780.21" r="2.6"/>
<circle cx="624.27" cy="783.39" r="2.6"/>
<circle cx="624.77" cy="777.88" r="2.6"/>
<circle cx="621.6" cy="781.55" r="2.6"/>
<circle cx="628.61" cy="780.88" r="2.6"/>
<circle cx="625.44" cy="784.06" r="2.6"/>
</g>
<path class="ax" d="M442 764.5H649"/>
<path class="ax" d="M442 981.5H649"/>
<path class="ax" d="M442.5 764V982"/>
<path class="ax" d="M648.5 764V982"/>
<path class="tk" d="M437.9 766.5H442.5"/>
<text class="t" text-anchor="end" letter-spacing="-0.13" x="434.6" y="773.3">1.0</text>
<path class="tk" d="M437.9 810.5H442.5"/>
<text class="t" text-anchor="end" letter-spacing="-0.13" x="434.6" y="817.3">0.9</text>
<path class="tk" d="M437.9 854.5H442.5"/>
<text class="t" text-anchor="end" letter-spacing="-0.13" x="434.6" y="861.3">0.8</text>
<path class="tk" d="M437.9 899.5H442.5"/>
<text class="t" text-anchor="end" letter-spacing="-0.13" x="434.6" y="906.3">0.7</text>
<path class="tk" d="M437.9 943.5H442.5"/>
<text class="t" text-anchor="end" letter-spacing="-0.13" x="434.6" y="950.3">0.6</text>
<path class="tk" d="M468.5 981.5V986.1"/>
<text class="t" text-anchor="middle" x="468.07" y="1003.4">1</text>
<path class="tk" d="M519.5 981.5V986.1"/>
<text class="t" text-anchor="middle" x="519.69" y="1003.4">2</text>
<path class="tk" d="M570.5 981.5V986.1"/>
<text class="t" text-anchor="middle" x="570.98" y="1003.4">3</text>
<path class="tk" d="M622.5 981.5V986.1"/>
<text class="t" text-anchor="middle" x="622.77" y="1003.4">4</text>
<text class="t" text-anchor="middle" x="545.5" y="1026.1">Group</text>
<text class="t" transform="translate(402.08 887.9) rotate(-90)" x="0" y="0">R<tspan dx="0.8" dy="-6.7" font-size="13.6px">2</tspan></text>
</g>
<g id="c3">
<path class="g" d="M748.5 841.5H954.5"/>
<path class="g" d="M748.5 927.5H954.5"/>
<path d="M772.99 774.2 772.72 776.17 772.4 778.15 772.02 780.12 771.58 782.09 771.08 784.07 770.5 786.04 769.86 788.01 769.13 789.98 768.34 791.96 767.48 793.93 766.56 795.9 765.59 797.87 764.58 799.85 763.54 801.82 762.49 803.79 761.45 805.76 760.44 807.74 759.47 809.71 758.57 811.68 757.75 813.65 757.03 815.63 756.42 817.6 755.94 819.57 755.59 821.55 755.37 823.52 755.29 825.49 755.33 827.46 755.48 829.44 755.73 831.41 756.07 833.38 756.47 835.35 756.9 837.33 757.35 839.3 757.79 841.27 758.19 843.24 758.55 845.22 758.83 847.19 759.02 849.16 759.12 851.13 759.11 853.11 758.99 855.08 758.76 857.05 758.44 859.03 758.02 861 757.53 862.97 756.98 864.94 756.4 866.92 755.82 868.89 755.25 870.86 754.71 872.83 754.25 874.81 753.87 876.78 753.61 878.75 753.47 880.72 753.47 882.7 753.62 884.67 753.92 886.64 754.37 888.62 754.96 890.59 755.69 892.56 756.54 894.53 757.49 896.51 758.52 898.48 759.62 900.45 760.76 902.42 761.91 904.4 763.07 906.37 764.2 908.34 765.29 910.31 766.34 912.29 767.32 914.26 768.23 916.23 769.06 918.2 769.81 920.18 770.49 922.15 771.08 924.12 771.6 926.1 772.05 928.07 772.43 930.04 L775.71 930.04 776.09 928.07 776.54 926.1 777.06 924.12 777.65 922.15 778.32 920.18 779.08 918.2 779.91 916.23 780.82 914.26 781.8 912.29 782.84 910.31 783.94 908.34 785.07 906.37 786.23 904.4 787.38 902.42 788.52 900.45 789.61 898.48 790.65 896.51 791.6 894.53 792.45 892.56 793.18 890.59 793.77 888.62 794.22 886.64 794.52 884.67 794.67 882.7 794.67 880.72 794.53 878.75 794.26 876.78 793.89 874.81 793.42 872.83 792.89 870.86 792.32 868.89 791.73 866.92 791.15 864.94 790.61 862.97 790.12 861 789.7 859.03 789.37 857.05 789.15 855.08 789.03 853.11 789.02 851.13 789.11 849.16 789.31 847.19 789.59 845.22 789.94 843.24 790.35 841.27 790.79 839.3 791.24 837.33 791.67 835.35 792.07 833.38 792.4 831.41 792.66 829.44 792.81 827.46 792.85 825.49 792.76 823.52 792.55 821.55 792.2 819.57 791.72 817.6 791.11 815.63 790.39 813.65 789.57 811.68 788.67 809.71 787.7 807.74 786.69 805.76 785.64 803.79 784.6 801.82 783.56 799.85 782.54 797.87 781.57 795.9 780.65 793.93 779.79 791.96 779 789.98 778.28 788.01 777.63 786.04 777.06 784.07 776.55 782.09 776.11 780.12 775.74 778.15 775.42 776.17 775.15 774.2Z" fill="#f2a5a5" fill-opacity="0.3" stroke="#555" stroke-opacity="0.3" stroke-width="1.3" stroke-linejoin="round"/>
<path d="M824.96 934.22 824.76 934.62 824.52 935.03 824.25 935.44 823.93 935.85 823.56 936.26 823.15 936.66 822.69 937.07 822.18 937.48 821.63 937.89 821.05 938.3 820.43 938.71 819.78 939.11 819.1 939.52 818.41 939.93 817.71 940.34 817 940.75 816.28 941.15 815.56 941.56 814.83 941.97 814.1 942.38 813.36 942.79 812.61 943.19 811.86 943.6 811.1 944.01 810.34 944.42 809.58 944.83 808.84 945.23 808.12 945.64 807.44 946.05 806.81 946.46 806.26 946.87 805.79 947.27 805.43 947.68 805.2 948.09 805.09 948.5 805.12 948.91 805.3 949.31 805.62 949.72 806.06 950.13 806.63 950.54 807.31 950.95 808.07 951.35 808.9 951.76 809.78 952.17 810.67 952.58 811.57 952.99 812.46 953.4 813.31 953.8 814.11 954.21 814.87 954.62 815.56 955.03 816.2 955.44 816.77 955.84 817.29 956.25 817.76 956.66 818.18 957.07 818.57 957.48 818.93 957.88 819.28 958.29 819.62 958.7 819.96 959.11 820.29 959.52 820.64 959.92 820.99 960.33 821.35 960.74 821.71 961.15 822.08 961.56 822.45 961.96 822.8 962.37 823.15 962.78 823.48 963.19 823.79 963.6 824.08 964 824.34 964.41 824.57 964.82 824.77 965.23 824.95 965.64 825.1 966.05 825.23 966.45 L826.15 966.45 826.28 966.05 826.43 965.64 826.61 965.23 826.81 964.82 827.04 964.41 827.3 964 827.59 963.6 827.9 963.19 828.23 962.78 828.58 962.37 828.93 961.96 829.3 961.56 829.67 961.15 830.03 960.74 830.39 960.33 830.74 959.92 831.09 959.52 831.43 959.11 831.76 958.7 832.1 958.29 832.45 957.88 832.81 957.48 833.2 957.07 833.63 956.66 834.09 956.25 834.61 955.84 835.18 955.44 835.82 955.03 836.51 954.62 837.27 954.21 838.07 953.8 838.92 953.4 839.81 952.99 840.71 952.58 841.6 952.17 842.48 951.76 843.31 951.35 844.07 950.95 844.75 950.54 845.32 950.13 845.77 949.72 846.08 949.31 846.26 948.91 846.29 948.5 846.18 948.09 845.95 947.68 845.59 947.27 845.12 946.87 844.57 946.46 843.94 946.05 843.26 945.64 842.54 945.23 841.8 944.83 841.04 944.42 840.28 944.01 839.53 943.6 838.77 943.19 838.03 942.79 837.29 942.38 836.55 941.97 835.82 941.56 835.1 941.15 834.38 940.75 833.67 940.34 832.97 939.93 832.28 939.52 831.6 939.11 830.96 938.71 830.34 938.3 829.75 937.89 829.2 937.48 828.69 937.07 828.23 936.66 827.82 936.26 827.45 935.85 827.13 935.44 826.86 935.03 826.62 934.62 826.43 934.22Z" fill="#74b0ea" fill-opacity="0.3" stroke="#555" stroke-opacity="0.3" stroke-width="1.3" stroke-linejoin="round"/>
<path d="M876.69 942.07 876 942.31 875.3 942.54 874.6 942.78 873.91 943.02 873.21 943.26 872.51 943.5 871.81 943.74 871.12 943.98 870.42 944.22 869.72 944.46 869.03 944.69 868.33 944.93 867.63 945.17 866.93 945.41 866.24 945.65 865.54 945.89 864.84 946.13 864.15 946.37 863.45 946.61 862.75 946.85 862.05 947.08 861.36 947.32 860.66 947.56 859.96 947.8 859.27 948.04 858.57 948.28 857.87 948.52 857.17 948.76 856.85 949 857.24 949.23 857.64 949.47 858.04 949.71 858.43 949.95 858.83 950.19 859.23 950.43 859.62 950.67 860.02 950.91 860.42 951.15 860.82 951.38 861.21 951.62 861.61 951.86 862.01 952.1 862.4 952.34 862.8 952.58 863.2 952.82 863.59 953.06 863.99 953.3 864.39 953.53 864.78 953.77 865.18 954.01 865.58 954.25 865.98 954.49 866.37 954.73 866.77 954.97 867.17 955.21 867.56 955.45 867.96 955.69 868.36 955.92 868.75 956.16 869.15 956.4 869.55 956.64 869.95 956.88 870.34 957.12 870.74 957.36 871.14 957.6 871.53 957.84 871.93 958.07 872.33 958.31 872.72 958.55 873.12 958.79 873.52 959.03 873.92 959.27 874.31 959.51 874.71 959.75 875.11 959.99 875.5 960.22 875.9 960.46 876.3 960.7 876.69 960.94 L877.93 960.94 878.33 960.7 878.72 960.46 879.12 960.22 879.52 959.99 879.91 959.75 880.31 959.51 880.71 959.27 881.11 959.03 881.5 958.79 881.9 958.55 882.3 958.31 882.69 958.07 883.09 957.84 883.49 957.6 883.88 957.36 884.28 957.12 884.68 956.88 885.08 956.64 885.47 956.4 885.87 956.16 886.27 955.92 886.66 955.69 887.06 955.45 887.46 955.21 887.85 954.97 888.25 954.73 888.65 954.49 889.05 954.25 889.44 954.01 889.84 953.77 890.24 953.53 890.63 953.3 891.03 953.06 891.43 952.82 891.82 952.58 892.22 952.34 892.62 952.1 893.01 951.86 893.41 951.62 893.81 951.38 894.21 951.15 894.6 950.91 895 950.67 895.4 950.43 895.79 950.19 896.19 949.95 896.59 949.71 896.98 949.47 897.38 949.23 897.78 949 897.45 948.76 896.75 948.52 896.06 948.28 895.36 948.04 894.66 947.8 893.96 947.56 893.27 947.32 892.57 947.08 891.87 946.85 891.18 946.61 890.48 946.37 889.78 946.13 889.08 945.89 888.39 945.65 887.69 945.41 886.99 945.17 886.3 944.93 885.6 944.69 884.9 944.46 884.2 944.22 883.51 943.98 882.81 943.74 882.11 943.5 881.42 943.26 880.72 943.02 880.02 942.78 879.32 942.54 878.63 942.31 877.93 942.07Z" fill="#a1eea1" fill-opacity="0.3" stroke="#555" stroke-opacity="0.3" stroke-width="1.3" stroke-linejoin="round"/>
<path d="M928.15 947.08 927.45 947.39 926.76 947.7 926.06 948.02 925.37 948.33 924.67 948.64 923.98 948.96 923.28 949.27 922.59 949.58 921.89 949.89 921.2 950.21 920.5 950.52 919.8 950.83 919.11 951.15 918.41 951.46 917.72 951.77 917.02 952.08 916.33 952.4 915.63 952.71 914.94 953.02 914.24 953.34 913.55 953.65 913.2 953.96 912.97 954.27 912.75 954.59 912.52 954.9 912.29 955.21 912.07 955.53 911.84 955.84 911.62 956.15 911.39 956.47 911.17 956.78 910.94 957.09 910.72 957.4 910.49 957.72 910.26 958.03 910.04 958.34 909.81 958.66 909.59 958.97 909.36 959.28 909.14 959.59 908.91 959.91 908.69 960.22 908.46 960.53 908.24 960.85 908.55 961.16 909.1 961.47 909.64 961.78 910.19 962.1 910.75 962.41 911.3 962.72 911.85 963.04 912.4 963.35 912.96 963.66 913.51 963.98 914.07 964.29 914.63 964.6 915.19 964.91 915.75 965.23 916.31 965.54 916.87 965.85 917.44 966.17 918 966.48 918.57 966.79 919.14 967.1 919.71 967.42 920.29 967.73 920.86 968.04 921.44 968.36 922.02 968.67 922.6 968.98 923.19 969.29 923.78 969.61 924.38 969.92 924.98 970.23 925.58 970.55 926.2 970.86 926.82 971.17 927.46 971.49 928.15 971.8 L929.38 971.8 930.07 971.49 930.71 971.17 931.34 970.86 931.95 970.55 932.56 970.23 933.16 969.92 933.75 969.61 934.34 969.29 934.93 968.98 935.51 968.67 936.09 968.36 936.67 968.04 937.25 967.73 937.82 967.42 938.39 967.1 938.96 966.79 939.53 966.48 940.1 966.17 940.66 965.85 941.22 965.54 941.79 965.23 942.35 964.91 942.91 964.6 943.46 964.29 944.02 963.98 944.58 963.66 945.13 963.35 945.68 963.04 946.24 962.72 946.79 962.41 947.34 962.1 947.89 961.78 948.44 961.47 948.99 961.16 949.3 960.85 949.07 960.53 948.85 960.22 948.62 959.91 948.4 959.59 948.17 959.28 947.95 958.97 947.72 958.66 947.49 958.34 947.27 958.03 947.04 957.72 946.82 957.4 946.59 957.09 946.37 956.78 946.14 956.47 945.92 956.15 945.69 955.84 945.46 955.53 945.24 955.21 945.01 954.9 944.79 954.59 944.56 954.27 944.34 953.96 943.99 953.65 943.29 953.34 942.6 953.02 941.9 952.71 941.21 952.4 940.51 952.08 939.81 951.77 939.12 951.46 938.42 951.15 937.73 950.83 937.03 950.52 936.34 950.21 935.64 949.89 934.95 949.58 934.25 949.27 933.56 948.96 932.86 948.64 932.17 948.33 931.47 948.02 930.78 947.7 930.08 947.39 929.38 947.08Z" fill="#f4c99f" fill-opacity="0.3" stroke="#555" stroke-opacity="0.3" stroke-width="1.3" stroke-linejoin="round"/>
<rect x="768.87" y="826.48" width="10.4" height="60.97" fill="#f2a5a5" stroke="#6f6f6f" stroke-width="1.15"/>
<path class="bx" d="M768.87 864.06H779.27M774.07 826.48V814.46M771.67 814.46H776.47"/>
<rect x="820.49" y="946.41" width="10.4" height="4.01" fill="#74b0ea" stroke="#6f6f6f" stroke-width="1.15"/>
<path class="bx" d="M820.49 948.41H830.89M825.69 946.41V940.56M823.29 940.56H828.09M825.69 950.42V953.76M823.29 953.76H828.09"/>
<rect x="872.11" y="948.08" width="10.4" height="5.85" fill="#a1eea1" stroke="#6f6f6f" stroke-width="1.15"/>
<path class="bx" d="M872.11 950.92H882.51M877.31 948.08V946.41M874.91 946.41H879.71M877.31 953.93V956.43M874.91 956.43H879.71"/>
<rect x="923.57" y="954.26" width="10.4" height="8.35" fill="#f4c99f" stroke="#6f6f6f" stroke-width="1.15"/>
<path class="bx" d="M923.57 960.11H933.97M928.77 954.26V953.09M926.37 953.09H931.17M928.77 962.61V965.45M926.37 965.45H931.17"/>
<g fill="#ff9999" fill-opacity="0.7">
<circle cx="770.06" cy="814.29" r="2.6"/>
<circle cx="773.07" cy="823.64" r="2.6"/>
<circle cx="769.22" cy="826.48" r="2.6"/>
<circle cx="771.4" cy="849.37" r="2.6"/>
<circle cx="771.73" cy="878.26" r="2.6"/>
<circle cx="772.57" cy="889.95" r="2.6"/>
<circle cx="779.25" cy="889.62" r="2.6"/>
</g>
<g fill="#66b3ff" fill-opacity="0.7">
<circle cx="830.54" cy="940.9" r="2.6"/>
<circle cx="823.52" cy="943.4" r="2.6"/>
<circle cx="822.68" cy="948.41" r="2.6"/>
<circle cx="829.37" cy="950.08" r="2.6"/>
<circle cx="824.35" cy="954.26" r="2.6"/>
<circle cx="826.86" cy="959.27" r="2.6"/>
</g>
<g fill="#99ff99" fill-opacity="0.7">
<circle cx="875.31" cy="946.74" r="2.6"/>
<circle cx="879.48" cy="948.41" r="2.6"/>
<circle cx="873.64" cy="951.75" r="2.6"/>
<circle cx="880.32" cy="952.59" r="2.6"/>
<circle cx="874.47" cy="956.77" r="2.6"/>
</g>
<g fill="#ffcc99" fill-opacity="0.7">
<circle cx="933.78" cy="953.09" r="2.6"/>
<circle cx="924.59" cy="955.1" r="2.6"/>
<circle cx="927.93" cy="958.44" r="2.6"/>
<circle cx="932.11" cy="960.94" r="2.6"/>
<circle cx="927.1" cy="965.95" r="2.6"/>
</g>
<path class="ax" d="M748 764.5H955"/>
<path class="ax" d="M748 981.5H955"/>
<path class="ax" d="M748.5 764V982"/>
<path class="ax" d="M954.5 764V982"/>
<path class="tk" d="M743.9 841.5H748.5"/>
<text class="t" text-anchor="end" letter-spacing="-0.13" x="740.6" y="848.3">0.02</text>
<path class="tk" d="M743.9 927.5H748.5"/>
<text class="t" text-anchor="end" letter-spacing="-0.13" x="740.6" y="934.3">0.01</text>
<path class="tk" d="M774.5 981.5V986.1"/>
<text class="t" text-anchor="middle" x="774.07" y="1003.4">1</text>
<path class="tk" d="M825.5 981.5V986.1"/>
<text class="t" text-anchor="middle" x="825.69" y="1003.4">2</text>
<path class="tk" d="M877.5 981.5V986.1"/>
<text class="t" text-anchor="middle" x="877.31" y="1003.4">3</text>
<path class="tk" d="M928.5 981.5V986.1"/>
<text class="t" text-anchor="middle" x="928.77" y="1003.4">4</text>
<text class="t" text-anchor="middle" x="851.5" y="1026.1">Group</text>
<text class="t" text-anchor="middle" transform="translate(696.57 874.3) rotate(-90)" x="0" y="0">MAE</text>
</g>
<g id="c4">
<path class="g" d="M1054.5 774.5H1260.5"/>
<path class="g" d="M1054.5 854.5H1260.5"/>
<path class="g" d="M1054.5 933.5H1260.5"/>
<path d="M1078.95 774.2 1078.68 776.13 1078.37 778.05 1077.99 779.98 1077.56 781.91 1077.06 783.83 1076.49 785.76 1075.86 787.68 1075.15 789.61 1074.38 791.54 1073.55 793.46 1072.66 795.39 1071.71 797.32 1070.74 799.24 1069.73 801.17 1068.72 803.09 1067.71 805.02 1066.73 806.95 1065.79 808.87 1064.91 810.8 1064.11 812.72 1063.4 814.65 1062.8 816.58 1062.32 818.5 1061.96 820.43 1061.72 822.36 1061.62 824.28 1061.64 826.21 1061.76 828.13 1061.99 830.06 1062.3 831.99 1062.67 833.91 1063.08 835.84 1063.51 837.76 1063.94 839.69 1064.35 841.62 1064.71 843.54 1065.01 845.47 1065.22 847.39 1065.34 849.32 1065.36 851.25 1065.28 853.17 1065.08 855.1 1064.79 857.03 1064.4 858.95 1063.93 860.88 1063.4 862.8 1062.82 864.73 1062.22 866.66 1061.63 868.58 1061.06 870.51 1060.55 872.43 1060.11 874.36 1059.78 876.29 1059.56 878.21 1059.47 880.14 1059.52 882.07 1059.73 883.99 1060.09 885.92 1060.59 887.84 1061.24 889.77 1062.01 891.7 1062.9 893.62 1063.88 895.55 1064.93 897.47 1066.04 899.4 1067.18 901.33 1068.33 903.25 1069.48 905.18 1070.59 907.1 1071.66 909.03 1072.68 910.96 1073.63 912.88 1074.51 914.81 1075.32 916.74 1076.04 918.66 1076.68 920.59 1077.25 922.51 1077.74 924.44 1078.17 926.37 L1081.97 926.37 1082.4 924.44 1082.89 922.51 1083.45 920.59 1084.1 918.66 1084.82 916.74 1085.62 914.81 1086.5 912.88 1087.46 910.96 1088.47 909.03 1089.55 907.1 1090.66 905.18 1091.8 903.25 1092.96 901.33 1094.1 899.4 1095.2 897.47 1096.26 895.55 1097.24 893.62 1098.13 891.7 1098.9 889.77 1099.55 887.84 1100.05 885.92 1100.41 883.99 1100.61 882.07 1100.67 880.14 1100.58 878.21 1100.36 876.29 1100.02 874.36 1099.59 872.43 1099.07 870.51 1098.51 868.58 1097.91 866.66 1097.32 864.73 1096.74 862.8 1096.21 860.88 1095.74 858.95 1095.35 857.03 1095.05 855.1 1094.86 853.17 1094.77 851.25 1094.79 849.32 1094.91 847.39 1095.13 845.47 1095.43 843.54 1095.79 841.62 1096.19 839.69 1096.62 837.76 1097.06 835.84 1097.47 833.91 1097.84 831.99 1098.15 830.06 1098.37 828.13 1098.5 826.21 1098.52 824.28 1098.41 822.36 1098.18 820.43 1097.82 818.5 1097.34 816.58 1096.74 814.65 1096.03 812.72 1095.23 810.8 1094.35 808.87 1093.41 806.95 1092.43 805.02 1091.42 803.09 1090.41 801.17 1089.4 799.24 1088.42 797.32 1087.48 795.39 1086.59 793.46 1085.75 791.54 1084.98 789.61 1084.28 787.68 1083.64 785.76 1083.08 783.83 1082.58 781.91 1082.15 779.98 1081.77 778.05 1081.45 776.13 1081.18 774.2Z" fill="#f2a5a5" fill-opacity="0.3" stroke="#555" stroke-opacity="0.3" stroke-width="1.3" stroke-linejoin="round"/>
<path d="M1131.13 935.89 1130.98 936.27 1130.81 936.65 1130.61 937.03 1130.38 937.41 1130.12 937.79 1129.82 938.17 1129.49 938.55 1129.12 938.93 1128.72 939.31 1128.29 939.69 1127.83 940.07 1127.33 940.45 1126.8 940.83 1126.23 941.21 1125.63 941.6 1124.99 941.98 1124.31 942.36 1123.59 942.74 1122.82 943.12 1122.01 943.5 1121.15 943.88 1120.25 944.26 1119.31 944.64 1118.35 945.02 1117.37 945.4 1116.4 945.78 1115.44 946.16 1114.53 946.54 1113.68 946.92 1112.92 947.3 1112.27 947.68 1111.75 948.07 1111.37 948.45 1111.15 948.83 1111.09 949.21 1111.2 949.59 1111.46 949.97 1111.88 950.35 1112.43 950.73 1113.1 951.11 1113.87 951.49 1114.7 951.87 1115.59 952.25 1116.5 952.63 1117.41 953.01 1118.3 953.39 1119.16 953.77 1119.98 954.15 1120.74 954.53 1121.44 954.92 1122.08 955.3 1122.66 955.68 1123.17 956.06 1123.63 956.44 1124.05 956.82 1124.42 957.2 1124.76 957.58 1125.08 957.96 1125.39 958.34 1125.69 958.72 1125.99 959.1 1126.3 959.48 1126.61 959.86 1126.94 960.24 1127.27 960.62 1127.62 961 1127.97 961.39 1128.32 961.77 1128.67 962.15 1129 962.53 1129.33 962.91 1129.64 963.29 1129.93 963.67 1130.2 964.05 1130.44 964.43 1130.65 964.81 1130.84 965.19 1131 965.57 1131.14 965.95 L1132.24 965.95 1132.38 965.57 1132.54 965.19 1132.73 964.81 1132.94 964.43 1133.18 964.05 1133.45 963.67 1133.74 963.29 1134.05 962.91 1134.38 962.53 1134.72 962.15 1135.06 961.77 1135.41 961.39 1135.76 961 1136.11 960.62 1136.44 960.24 1136.77 959.86 1137.08 959.48 1137.39 959.1 1137.69 958.72 1137.99 958.34 1138.3 957.96 1138.62 957.58 1138.96 957.2 1139.33 956.82 1139.75 956.44 1140.21 956.06 1140.72 955.68 1141.3 955.3 1141.94 954.92 1142.64 954.53 1143.4 954.15 1144.22 953.77 1145.08 953.39 1145.97 953.01 1146.89 952.63 1147.79 952.25 1148.68 951.87 1149.51 951.49 1150.28 951.11 1150.95 950.73 1151.5 950.35 1151.92 949.97 1152.18 949.59 1152.29 949.21 1152.23 948.83 1152.01 948.45 1151.63 948.07 1151.11 947.68 1150.46 947.3 1149.7 946.92 1148.85 946.54 1147.94 946.16 1146.98 945.78 1146.01 945.4 1145.03 945.02 1144.07 944.64 1143.13 944.26 1142.23 943.88 1141.37 943.5 1140.56 943.12 1139.79 942.74 1139.07 942.36 1138.39 941.98 1137.75 941.6 1137.15 941.21 1136.58 940.83 1136.05 940.45 1135.55 940.07 1135.09 939.69 1134.66 939.31 1134.26 938.93 1133.89 938.55 1133.56 938.17 1133.26 937.79 1133 937.41 1132.77 937.03 1132.57 936.65 1132.4 936.27 1132.25 935.89Z" fill="#74b0ea" fill-opacity="0.3" stroke="#555" stroke-opacity="0.3" stroke-width="1.3" stroke-linejoin="round"/>
<path d="M1182.69 943.9 1181.99 944.13 1181.28 944.35 1180.58 944.58 1179.87 944.8 1179.17 945.02 1178.46 945.25 1177.76 945.47 1177.05 945.7 1176.34 945.92 1175.64 946.15 1174.93 946.37 1174.23 946.59 1173.52 946.82 1172.82 947.04 1172.11 947.27 1171.41 947.49 1170.7 947.71 1169.99 947.94 1169.29 948.16 1168.58 948.39 1167.88 948.61 1167.17 948.83 1166.47 949.06 1165.76 949.28 1165.06 949.51 1164.35 949.73 1163.64 949.96 1162.94 950.18 1162.98 950.4 1163.37 950.63 1163.77 950.85 1164.16 951.08 1164.56 951.3 1164.95 951.52 1165.35 951.75 1165.74 951.97 1166.13 952.2 1166.53 952.42 1166.92 952.64 1167.32 952.87 1167.71 953.09 1168.11 953.32 1168.5 953.54 1168.89 953.77 1169.29 953.99 1169.68 954.21 1170.08 954.44 1170.47 954.66 1170.87 954.89 1171.26 955.11 1171.65 955.33 1172.05 955.56 1172.44 955.78 1172.84 956.01 1173.23 956.23 1173.63 956.45 1174.02 956.68 1174.41 956.9 1174.81 957.13 1175.2 957.35 1175.6 957.58 1175.99 957.8 1176.39 958.02 1176.78 958.25 1177.17 958.47 1177.57 958.7 1177.96 958.92 1178.36 959.14 1178.75 959.37 1179.15 959.59 1179.54 959.82 1179.93 960.04 1180.33 960.26 1180.72 960.49 1181.12 960.71 1181.51 960.94 1181.91 961.16 1182.3 961.39 1182.69 961.61 L1183.93 961.61 1184.32 961.39 1184.72 961.16 1185.11 960.94 1185.51 960.71 1185.9 960.49 1186.3 960.26 1186.69 960.04 1187.08 959.82 1187.48 959.59 1187.87 959.37 1188.27 959.14 1188.66 958.92 1189.06 958.7 1189.45 958.47 1189.84 958.25 1190.24 958.02 1190.63 957.8 1191.03 957.58 1191.42 957.35 1191.82 957.13 1192.21 956.9 1192.6 956.68 1193 956.45 1193.39 956.23 1193.79 956.01 1194.18 955.78 1194.58 955.56 1194.97 955.33 1195.36 955.11 1195.76 954.89 1196.15 954.66 1196.55 954.44 1196.94 954.21 1197.34 953.99 1197.73 953.77 1198.12 953.54 1198.52 953.32 1198.91 953.09 1199.31 952.87 1199.7 952.64 1200.1 952.42 1200.49 952.2 1200.88 951.97 1201.28 951.75 1201.67 951.52 1202.07 951.3 1202.46 951.08 1202.86 950.85 1203.25 950.63 1203.64 950.4 1203.69 950.18 1202.98 949.96 1202.27 949.73 1201.57 949.51 1200.86 949.28 1200.16 949.06 1199.45 948.83 1198.75 948.61 1198.04 948.39 1197.34 948.16 1196.63 947.94 1195.92 947.71 1195.22 947.49 1194.51 947.27 1193.81 947.04 1193.1 946.82 1192.4 946.59 1191.69 946.37 1190.99 946.15 1190.28 945.92 1189.57 945.7 1188.87 945.47 1188.16 945.25 1187.46 945.02 1186.75 944.8 1186.05 944.58 1185.34 944.35 1184.64 944.13 1183.93 943.9Z" fill="#a1eea1" fill-opacity="0.3" stroke="#555" stroke-opacity="0.3" stroke-width="1.3" stroke-linejoin="round"/>
<path d="M1234.15 947.75 1233.44 948.05 1232.74 948.35 1232.03 948.65 1231.33 948.96 1230.62 949.26 1229.91 949.56 1229.21 949.86 1228.5 950.16 1227.8 950.47 1227.09 950.77 1226.38 951.07 1225.68 951.37 1224.97 951.68 1224.27 951.98 1223.56 952.28 1222.86 952.58 1222.15 952.89 1221.44 953.19 1220.74 953.49 1220.03 953.79 1219.35 954.1 1219.12 954.4 1218.89 954.7 1218.66 955 1218.43 955.3 1218.21 955.61 1217.98 955.91 1217.75 956.21 1217.52 956.51 1217.29 956.82 1217.06 957.12 1216.83 957.42 1216.6 957.72 1216.37 958.03 1216.15 958.33 1215.92 958.63 1215.69 958.93 1215.46 959.23 1215.23 959.54 1215 959.84 1214.77 960.14 1214.54 960.44 1214.31 960.75 1214.36 961.05 1214.9 961.35 1215.43 961.65 1215.97 961.96 1216.51 962.26 1217.05 962.56 1217.6 962.86 1218.14 963.17 1218.68 963.47 1219.23 963.77 1219.77 964.07 1220.32 964.37 1220.87 964.68 1221.42 964.98 1221.97 965.28 1222.52 965.58 1223.07 965.89 1223.63 966.19 1224.18 966.49 1224.74 966.79 1225.3 967.1 1225.86 967.4 1226.42 967.7 1226.99 968 1227.56 968.31 1228.13 968.61 1228.7 968.91 1229.28 969.21 1229.86 969.51 1230.44 969.82 1231.03 970.12 1231.63 970.42 1232.23 970.72 1232.84 971.03 1233.47 971.33 1234.15 971.63 L1235.38 971.63 1236.06 971.33 1236.69 971.03 1237.3 970.72 1237.91 970.42 1238.5 970.12 1239.09 969.82 1239.67 969.51 1240.25 969.21 1240.83 968.91 1241.4 968.61 1241.98 968.31 1242.54 968 1243.11 967.7 1243.67 967.4 1244.23 967.1 1244.79 966.79 1245.35 966.49 1245.91 966.19 1246.46 965.89 1247.01 965.58 1247.57 965.28 1248.12 964.98 1248.67 964.68 1249.21 964.37 1249.76 964.07 1250.31 963.77 1250.85 963.47 1251.39 963.17 1251.94 962.86 1252.48 962.56 1253.02 962.26 1253.56 961.96 1254.1 961.65 1254.64 961.35 1255.18 961.05 1255.22 960.75 1254.99 960.44 1254.76 960.14 1254.53 959.84 1254.3 959.54 1254.07 959.23 1253.85 958.93 1253.62 958.63 1253.39 958.33 1253.16 958.03 1252.93 957.72 1252.7 957.42 1252.47 957.12 1252.24 956.82 1252.01 956.51 1251.79 956.21 1251.56 955.91 1251.33 955.61 1251.1 955.3 1250.87 955 1250.64 954.7 1250.41 954.4 1250.18 954.1 1249.5 953.79 1248.8 953.49 1248.09 953.19 1247.38 952.89 1246.68 952.58 1245.97 952.28 1245.27 951.98 1244.56 951.68 1243.85 951.37 1243.15 951.07 1242.44 950.77 1241.74 950.47 1241.03 950.16 1240.33 949.86 1239.62 949.56 1238.91 949.26 1238.21 948.96 1237.5 948.65 1236.8 948.35 1236.09 948.05 1235.38 947.75Z" fill="#f4c99f" fill-opacity="0.3" stroke="#555" stroke-opacity="0.3" stroke-width="1.3" stroke-linejoin="round"/>
<rect x="1074.87" y="825.15" width="10.4" height="60.13" fill="#f2a5a5" stroke="#6f6f6f" stroke-width="1.15"/>
<path class="bx" d="M1074.87 864.06H1085.27M1080.07 825.15V814.46M1077.67 814.46H1082.47"/>
<rect x="1126.49" y="947.08" width="10.4" height="3.34" fill="#74b0ea" stroke="#6f6f6f" stroke-width="1.15"/>
<path class="bx" d="M1126.49 948.75H1136.89M1131.69 947.08V942.57M1129.29 942.57H1134.09M1131.69 950.42V954.26M1129.29 954.26H1134.09"/>
<rect x="1178.11" y="948.41" width="10.4" height="5.85" fill="#a1eea1" stroke="#6f6f6f" stroke-width="1.15"/>
<path class="bx" d="M1178.11 950.08H1188.51M1183.31 948.41V947.58M1180.91 947.58H1185.71M1183.31 954.26V955.93M1180.91 955.93H1185.71"/>
<rect x="1229.57" y="955.43" width="10.4" height="7.68" fill="#f4c99f" stroke="#6f6f6f" stroke-width="1.15"/>
<path class="bx" d="M1229.57 960.61H1239.97M1234.77 955.43V954.26M1232.37 954.26H1237.17M1234.77 963.11V965.45M1232.37 965.45H1237.17"/>
<g fill="#ff9999" fill-opacity="0.7">
<circle cx="1082.24" cy="814.29" r="2.6"/>
<circle cx="1079.4" cy="820.64" r="2.6"/>
<circle cx="1084.41" cy="825.15" r="2.6"/>
<circle cx="1079.9" cy="848.53" r="2.6"/>
<circle cx="1077.73" cy="880.77" r="2.6"/>
<circle cx="1076.89" cy="886.28" r="2.6"/>
<circle cx="1083.58" cy="886.61" r="2.6"/>
</g>
<g fill="#66b3ff" fill-opacity="0.7">
<circle cx="1136.2" cy="942.57" r="2.6"/>
<circle cx="1129.52" cy="948.41" r="2.6"/>
<circle cx="1137.04" cy="950.08" r="2.6"/>
<circle cx="1136.2" cy="954.26" r="2.6"/>
<circle cx="1126.51" cy="959.27" r="2.6"/>
</g>
<g fill="#99ff99" fill-opacity="0.7">
<circle cx="1180.47" cy="948.41" r="2.6"/>
<circle cx="1187.15" cy="948.41" r="2.6"/>
<circle cx="1182.98" cy="951.75" r="2.6"/>
<circle cx="1179.64" cy="953.42" r="2.6"/>
<circle cx="1186.32" cy="955.93" r="2.6"/>
</g>
<g fill="#ffcc99" fill-opacity="0.7">
<circle cx="1233.93" cy="954.26" r="2.6"/>
<circle cx="1238.94" cy="955.1" r="2.6"/>
<circle cx="1231.43" cy="960.11" r="2.6"/>
<circle cx="1239.78" cy="961.78" r="2.6"/>
<circle cx="1233.1" cy="965.95" r="2.6"/>
</g>
<path class="ax" d="M1054 764.5H1261"/>
<path class="ax" d="M1054 981.5H1261"/>
<path class="ax" d="M1054.5 764V982"/>
<path class="ax" d="M1260.5 764V982"/>
<path class="tk" d="M1049.9 774.5H1054.5"/>
<text class="t" text-anchor="end" letter-spacing="-0.13" x="1046.6" y="781.3">3</text>
<path class="tk" d="M1049.9 854.5H1054.5"/>
<text class="t" text-anchor="end" letter-spacing="-0.13" x="1046.6" y="861.3">2</text>
<path class="tk" d="M1049.9 933.5H1054.5"/>
<text class="t" text-anchor="end" letter-spacing="-0.13" x="1046.6" y="940.3">1</text>
<path class="tk" d="M1080.5 981.5V986.1"/>
<text class="t" text-anchor="middle" x="1080.07" y="1003.4">1</text>
<path class="tk" d="M1131.5 981.5V986.1"/>
<text class="t" text-anchor="middle" x="1131.69" y="1003.4">2</text>
<path class="tk" d="M1183.5 981.5V986.1"/>
<text class="t" text-anchor="middle" x="1183.31" y="1003.4">3</text>
<path class="tk" d="M1234.5 981.5V986.1"/>
<text class="t" text-anchor="middle" x="1234.77" y="1003.4">4</text>
<text class="t" text-anchor="middle" x="1157.5" y="1026.1">Group</text>
<text class="t" text-anchor="middle" transform="translate(1029.59 874.3) rotate(-90)" x="0" y="0">MAPE</text>
</g>
<g id="d1">
<path class="g" d="M156.5 1133.5H359.5"/>
<path class="g" d="M156.5 1184.5H359.5"/>
<path class="g" d="M156.5 1235.5H359.5"/>
<path class="g" d="M156.5 1286.5H359.5"/>
<path d="M180.59 1133.58 180.31 1135.27 179.96 1136.96 179.55 1138.65 179.06 1140.34 178.5 1142.03 177.85 1143.73 177.12 1145.42 176.3 1147.11 175.41 1148.8 174.45 1150.49 173.43 1152.18 172.36 1153.87 171.27 1155.57 170.16 1157.26 169.05 1158.95 167.97 1160.64 166.93 1162.33 165.94 1164.02 165.03 1165.71 164.2 1167.41 163.46 1169.1 162.83 1170.79 162.29 1172.48 161.87 1174.17 161.56 1175.86 161.36 1177.55 161.27 1179.25 161.3 1180.94 161.44 1182.63 161.7 1184.32 162.08 1186.01 162.57 1187.7 163.17 1189.39 163.88 1191.09 164.69 1192.78 165.59 1194.47 166.57 1196.16 167.61 1197.85 168.69 1199.54 169.79 1201.23 170.9 1202.93 171.98 1204.62 173.02 1206.31 174 1208 174.91 1209.69 175.73 1211.38 176.45 1213.08 177.07 1214.77 177.59 1216.46 178 1218.15 178.32 1219.84 178.55 1221.53 178.7 1223.22 178.79 1224.92 178.82 1226.61 178.82 1228.3 178.79 1229.99 178.75 1231.68 178.71 1233.37 178.69 1235.06 178.68 1236.76 178.7 1238.45 178.74 1240.14 178.82 1241.83 178.93 1243.52 179.06 1245.21 179.22 1246.9 179.4 1248.6 179.59 1250.29 179.78 1251.98 179.98 1253.67 180.18 1255.36 180.37 1257.05 180.55 1258.74 180.71 1260.44 180.86 1262.13 180.99 1263.82 181.1 1265.51 181.2 1267.2 L181.94 1267.2 182.04 1265.51 182.15 1263.82 182.28 1262.13 182.43 1260.44 182.59 1258.74 182.77 1257.05 182.96 1255.36 183.16 1253.67 183.36 1251.98 183.55 1250.29 183.74 1248.6 183.92 1246.9 184.08 1245.21 184.21 1243.52 184.32 1241.83 184.4 1240.14 184.44 1238.45 184.46 1236.76 184.45 1235.06 184.43 1233.37 184.39 1231.68 184.35 1229.99 184.32 1228.3 184.32 1226.61 184.35 1224.92 184.44 1223.22 184.59 1221.53 184.82 1219.84 185.14 1218.15 185.55 1216.46 186.07 1214.77 186.68 1213.08 187.41 1211.38 188.23 1209.69 189.14 1208 190.12 1206.31 191.16 1204.62 192.24 1202.93 193.35 1201.23 194.45 1199.54 195.53 1197.85 196.57 1196.16 197.55 1194.47 198.45 1192.78 199.26 1191.09 199.97 1189.39 200.57 1187.7 201.06 1186.01 201.44 1184.32 201.7 1182.63 201.84 1180.94 201.87 1179.25 201.78 1177.55 201.58 1175.86 201.27 1174.17 200.85 1172.48 200.31 1170.79 199.68 1169.1 198.94 1167.41 198.11 1165.71 197.19 1164.02 196.21 1162.33 195.17 1160.64 194.09 1158.95 192.98 1157.26 191.87 1155.57 190.78 1153.87 189.71 1152.18 188.69 1150.49 187.73 1148.8 186.84 1147.11 186.02 1145.42 185.29 1143.73 184.64 1142.03 184.08 1140.34 183.59 1138.65 183.18 1136.96 182.83 1135.27 182.55 1133.58Z" fill="#f2a5a5" fill-opacity="0.3" stroke="#555" stroke-opacity="0.3" stroke-width="1.3" stroke-linejoin="round"/>
<path d="M231.67 1141.09 231.49 1143.27 231.27 1145.44 231.01 1147.62 230.71 1149.8 230.36 1151.97 229.96 1154.15 229.5 1156.32 228.99 1158.5 228.43 1160.67 227.81 1162.85 227.14 1165.03 226.42 1167.2 225.67 1169.38 224.89 1171.55 224.08 1173.73 223.27 1175.9 222.46 1178.08 221.66 1180.25 220.88 1182.43 220.15 1184.61 219.46 1186.78 218.83 1188.96 218.26 1191.13 217.76 1193.31 217.34 1195.48 216.99 1197.66 216.71 1199.84 216.49 1202.01 216.34 1204.19 216.23 1206.36 216.16 1208.54 216.11 1210.71 216.08 1212.89 216.04 1215.06 215.99 1217.24 215.92 1219.42 215.82 1221.59 215.68 1223.77 215.5 1225.94 215.27 1228.12 215 1230.29 214.69 1232.47 214.35 1234.65 213.99 1236.82 213.61 1239 213.25 1241.17 212.9 1243.35 212.59 1245.52 212.34 1247.7 212.15 1249.87 212.06 1252.05 212.06 1254.23 212.17 1256.4 212.4 1258.58 212.76 1260.75 213.24 1262.93 213.85 1265.1 214.57 1267.28 215.39 1269.46 216.32 1271.63 217.31 1273.81 218.37 1275.98 219.47 1278.16 220.59 1280.33 221.71 1282.51 222.81 1284.68 223.88 1286.86 224.9 1289.04 225.86 1291.21 226.76 1293.39 227.58 1295.56 228.31 1297.74 228.97 1299.91 229.55 1302.09 230.06 1304.26 230.49 1306.44 230.86 1308.62 231.16 1310.79 231.42 1312.97 L233.29 1312.97 233.55 1310.79 233.86 1308.62 234.22 1306.44 234.66 1304.26 235.16 1302.09 235.74 1299.91 236.4 1297.74 237.14 1295.56 237.95 1293.39 238.85 1291.21 239.81 1289.04 240.83 1286.86 241.9 1284.68 243 1282.51 244.12 1280.33 245.24 1278.16 246.34 1275.98 247.4 1273.81 248.4 1271.63 249.32 1269.46 250.15 1267.28 250.87 1265.1 251.47 1262.93 251.95 1260.75 252.31 1258.58 252.54 1256.4 252.65 1254.23 252.66 1252.05 252.56 1249.87 252.37 1247.7 252.12 1245.52 251.81 1243.35 251.46 1241.17 251.1 1239 250.73 1236.82 250.36 1234.65 250.02 1232.47 249.71 1230.29 249.44 1228.12 249.21 1225.94 249.03 1223.77 248.89 1221.59 248.79 1219.42 248.72 1217.24 248.67 1215.06 248.64 1212.89 248.6 1210.71 248.56 1208.54 248.48 1206.36 248.38 1204.19 248.22 1202.01 248 1199.84 247.72 1197.66 247.37 1195.48 246.95 1193.31 246.45 1191.13 245.88 1188.96 245.25 1186.78 244.57 1184.61 243.83 1182.43 243.06 1180.25 242.26 1178.08 241.44 1175.9 240.63 1173.73 239.82 1171.55 239.04 1169.38 238.29 1167.2 237.57 1165.03 236.91 1162.85 236.29 1160.67 235.72 1158.5 235.21 1156.32 234.75 1154.15 234.35 1151.97 234 1149.8 233.7 1147.62 233.44 1145.44 233.22 1143.27 233.04 1141.09Z" fill="#74b0ea" fill-opacity="0.3" stroke="#555" stroke-opacity="0.3" stroke-width="1.3" stroke-linejoin="round"/>
<path d="M282.41 1114.7 282.3 1115.97 282.17 1117.23 282.03 1118.5 281.85 1119.76 281.65 1121.02 281.42 1122.29 281.17 1123.55 280.88 1124.82 280.56 1126.08 280.21 1127.35 279.84 1128.61 279.44 1129.88 279.02 1131.14 278.58 1132.4 278.13 1133.67 277.67 1134.93 277.2 1136.2 276.73 1137.46 276.27 1138.73 275.83 1139.99 275.4 1141.25 274.99 1142.52 274.62 1143.78 274.27 1145.05 273.97 1146.31 273.69 1147.58 273.46 1148.84 273.25 1150.1 273.08 1151.37 272.92 1152.63 272.77 1153.9 272.63 1155.16 272.47 1156.43 272.28 1157.69 272.05 1158.96 271.77 1160.22 271.42 1161.48 271 1162.75 270.49 1164.01 269.91 1165.28 269.24 1166.54 268.52 1167.81 267.74 1169.07 266.93 1170.33 266.11 1171.6 265.31 1172.86 264.56 1174.13 263.89 1175.39 263.32 1176.66 262.89 1177.92 262.62 1179.18 262.51 1180.45 262.58 1181.71 262.84 1182.98 263.28 1184.24 263.89 1185.51 264.65 1186.77 265.56 1188.04 266.58 1189.3 267.69 1190.56 268.85 1191.83 270.06 1193.09 271.27 1194.36 272.47 1195.62 273.63 1196.89 274.74 1198.15 275.78 1199.41 276.75 1200.68 277.63 1201.94 278.43 1203.21 279.14 1204.47 279.76 1205.74 280.3 1207 280.77 1208.27 281.16 1209.53 281.49 1210.79 281.77 1212.06 281.99 1213.32 282.18 1214.59 L283.44 1214.59 283.62 1213.32 283.85 1212.06 284.12 1210.79 284.45 1209.53 284.85 1208.27 285.31 1207 285.86 1205.74 286.48 1204.47 287.19 1203.21 287.98 1201.94 288.87 1200.68 289.83 1199.41 290.88 1198.15 291.99 1196.89 293.15 1195.62 294.35 1194.36 295.56 1193.09 296.76 1191.83 297.93 1190.56 299.04 1189.3 300.06 1188.04 300.96 1186.77 301.73 1185.51 302.34 1184.24 302.78 1182.98 303.04 1181.71 303.11 1180.45 303 1179.18 302.72 1177.92 302.29 1176.66 301.73 1175.39 301.06 1174.13 300.31 1172.86 299.51 1171.6 298.69 1170.33 297.88 1169.07 297.1 1167.81 296.37 1166.54 295.71 1165.28 295.12 1164.01 294.62 1162.75 294.2 1161.48 293.85 1160.22 293.56 1158.96 293.33 1157.69 293.15 1156.43 292.99 1155.16 292.84 1153.9 292.7 1152.63 292.54 1151.37 292.36 1150.1 292.16 1148.84 291.92 1147.58 291.65 1146.31 291.34 1145.05 291 1143.78 290.62 1142.52 290.22 1141.25 289.79 1139.99 289.34 1138.73 288.88 1137.46 288.42 1136.2 287.95 1134.93 287.49 1133.67 287.03 1132.4 286.6 1131.14 286.17 1129.88 285.78 1128.61 285.4 1127.35 285.06 1126.08 284.74 1124.82 284.45 1123.55 284.19 1122.29 283.97 1121.02 283.76 1119.76 283.59 1118.5 283.44 1117.23 283.32 1115.97 283.21 1114.7Z" fill="#a1eea1" fill-opacity="0.3" stroke="#555" stroke-opacity="0.3" stroke-width="1.3" stroke-linejoin="round"/>
<path d="M333.02 1205.4 332.88 1206.42 332.71 1207.45 332.51 1208.47 332.28 1209.49 332.02 1210.52 331.74 1211.54 331.42 1212.56 331.08 1213.59 330.71 1214.61 330.33 1215.63 329.93 1216.66 329.53 1217.68 329.13 1218.7 328.73 1219.73 328.35 1220.75 327.99 1221.77 327.66 1222.8 327.36 1223.82 327.09 1224.84 326.85 1225.87 326.64 1226.89 326.46 1227.91 326.29 1228.94 326.14 1229.96 325.99 1230.98 325.83 1232.01 325.65 1233.03 325.44 1234.05 325.18 1235.08 324.88 1236.1 324.51 1237.12 324.08 1238.15 323.58 1239.17 323.02 1240.19 322.39 1241.22 321.71 1242.24 320.97 1243.26 320.2 1244.29 319.41 1245.31 318.6 1246.33 317.8 1247.36 317.02 1248.38 316.28 1249.4 315.59 1250.43 314.96 1251.45 314.42 1252.47 313.98 1253.5 313.64 1254.52 313.41 1255.54 313.29 1256.57 313.31 1257.59 313.44 1258.61 313.7 1259.64 314.08 1260.66 314.58 1261.68 315.19 1262.71 315.9 1263.73 316.69 1264.75 317.57 1265.78 318.5 1266.8 319.49 1267.82 320.52 1268.85 321.56 1269.87 322.61 1270.89 323.65 1271.92 324.67 1272.94 325.65 1273.96 326.59 1274.99 327.47 1276.01 328.3 1277.03 329.05 1278.06 329.74 1279.08 330.36 1280.1 330.9 1281.13 331.38 1282.15 331.79 1283.17 332.14 1284.2 332.44 1285.22 332.68 1286.24 L334.51 1286.24 334.75 1285.22 335.05 1284.2 335.4 1283.17 335.81 1282.15 336.29 1281.13 336.83 1280.1 337.45 1279.08 338.14 1278.06 338.89 1277.03 339.72 1276.01 340.6 1274.99 341.54 1273.96 342.52 1272.94 343.54 1271.92 344.58 1270.89 345.63 1269.87 346.67 1268.85 347.7 1267.82 348.69 1266.8 349.62 1265.78 350.5 1264.75 351.29 1263.73 352 1262.71 352.61 1261.68 353.11 1260.66 353.49 1259.64 353.75 1258.61 353.88 1257.59 353.89 1256.57 353.78 1255.54 353.55 1254.52 353.21 1253.5 352.77 1252.47 352.22 1251.45 351.6 1250.43 350.91 1249.4 350.17 1248.38 349.39 1247.36 348.59 1246.33 347.78 1245.31 346.99 1244.29 346.22 1243.26 345.48 1242.24 344.8 1241.22 344.17 1240.19 343.61 1239.17 343.11 1238.15 342.68 1237.12 342.31 1236.1 342.01 1235.08 341.75 1234.05 341.54 1233.03 341.36 1232.01 341.2 1230.98 341.05 1229.96 340.9 1228.94 340.73 1227.91 340.55 1226.89 340.34 1225.87 340.1 1224.84 339.83 1223.82 339.53 1222.8 339.2 1221.77 338.84 1220.75 338.46 1219.73 338.06 1218.7 337.66 1217.68 337.26 1216.66 336.86 1215.63 336.48 1214.61 336.11 1213.59 335.77 1212.56 335.45 1211.54 335.17 1210.52 334.91 1209.49 334.68 1208.47 334.48 1207.45 334.31 1206.42 334.17 1205.4Z" fill="#f4c99f" fill-opacity="0.3" stroke="#555" stroke-opacity="0.3" stroke-width="1.3" stroke-linejoin="round"/>
<rect x="176.37" y="1166.48" width="10.4" height="24.72" fill="#f2a5a5" stroke="#6f6f6f" stroke-width="1.15"/>
<path class="bx" d="M176.37 1176.17H186.77M181.57 1166.48V1162.31M179.17 1162.31H183.97M181.57 1191.2V1195.38M179.17 1195.38H183.97"/>
<rect x="227.16" y="1204.4" width="10.4" height="55.12" fill="#74b0ea" stroke="#6f6f6f" stroke-width="1.15"/>
<path class="bx" d="M227.16 1237.14H237.56M232.36 1204.4V1181.51M229.96 1181.51H234.76M232.36 1259.52V1272.05M229.96 1272.05H234.76"/>
<rect x="277.61" y="1157.3" width="10.4" height="25.05" fill="#a1eea1" stroke="#6f6f6f" stroke-width="1.15"/>
<path class="bx" d="M277.61 1176.17H288.01M282.81 1157.3V1138.09M280.41 1138.09H285.21M282.81 1182.35V1191.54M280.41 1191.54H285.21"/>
<rect x="328.39" y="1247.49" width="10.4" height="12.03" fill="#f4c99f" stroke="#6f6f6f" stroke-width="1.15"/>
<path class="bx" d="M328.39 1254.67H338.79M333.59 1247.49V1230.79M331.19 1230.79H335.99M333.59 1259.52V1267.54M331.19 1267.54H335.99"/>
<g fill="#ff9999" fill-opacity="0.7">
<circle cx="184.08" cy="1162.31" r="2.6"/>
<circle cx="186.25" cy="1164.81" r="2.6"/>
<circle cx="185.41" cy="1172.33" r="2.6"/>
<circle cx="180.4" cy="1181.51" r="2.6"/>
<circle cx="176.22" cy="1192.37" r="2.6"/>
<circle cx="186.25" cy="1190.7" r="2.6"/>
<circle cx="186.58" cy="1195.71" r="2.6"/>
<circle cx="185.75" cy="1238.31" r="2.6"/>
</g>
<g fill="#66b3ff" fill-opacity="0.7">
<circle cx="228.01" cy="1181.51" r="2.6"/>
<circle cx="234.36" cy="1191.54" r="2.6"/>
<circle cx="229.35" cy="1199.89" r="2.6"/>
<circle cx="233.86" cy="1216.59" r="2.6"/>
<circle cx="237.2" cy="1237.14" r="2.6"/>
<circle cx="229.35" cy="1252.5" r="2.6"/>
<circle cx="233.86" cy="1262.02" r="2.6"/>
<circle cx="230.02" cy="1265.03" r="2.6"/>
<circle cx="229.18" cy="1272.21" r="2.6"/>
</g>
<g fill="#99ff99" fill-opacity="0.7">
<circle cx="284.31" cy="1137.75" r="2.6"/>
<circle cx="279.47" cy="1147.77" r="2.6"/>
<circle cx="285.15" cy="1153.45" r="2.6"/>
<circle cx="285.65" cy="1176.5" r="2.6"/>
<circle cx="282.31" cy="1179.84" r="2.6"/>
<circle cx="286.99" cy="1184.02" r="2.6"/>
<circle cx="279.8" cy="1191.87" r="2.6"/>
</g>
<g fill="#ffcc99" fill-opacity="0.7">
<circle cx="336.27" cy="1223.27" r="2.6"/>
<circle cx="332.76" cy="1230.79" r="2.6"/>
<circle cx="331.26" cy="1245.82" r="2.6"/>
<circle cx="335.77" cy="1255.01" r="2.6"/>
<circle cx="337.44" cy="1259.18" r="2.6"/>
<circle cx="331.26" cy="1267.54" r="2.6"/>
<circle cx="337.94" cy="1267.2" r="2.6"/>
</g>
<path class="ax" d="M156 1105.5H360"/>
<path class="ax" d="M156 1322.5H360"/>
<path class="ax" style="stroke:#7d7d7d" d="M156.5 1105V1323"/>
<path class="ax" style="stroke:#7d7d7d" d="M359.5 1105V1323"/>
<path class="tk" d="M151.9 1133.5H156.5"/>
<text class="t" text-anchor="end" letter-spacing="-0.13" x="148.6" y="1140.3">0.0125</text>
<path class="tk" d="M151.9 1184.5H156.5"/>
<text class="t" text-anchor="end" letter-spacing="-0.13" x="148.6" y="1191.3">0.0100</text>
<path class="tk" d="M151.9 1235.5H156.5"/>
<text class="t" text-anchor="end" letter-spacing="-0.13" x="148.6" y="1242.3">0.0075</text>
<path class="tk" d="M151.9 1286.5H156.5"/>
<text class="t" text-anchor="end" letter-spacing="-0.13" x="148.6" y="1293.3">0.0050</text>
<path class="tk" d="M181.5 1322.5V1327.1"/>
<text class="t" text-anchor="middle" x="181.57" y="1344.4">1</text>
<path class="tk" d="M232.5 1322.5V1327.1"/>
<text class="t" text-anchor="middle" x="232.36" y="1344.4">2</text>
<path class="tk" d="M282.5 1322.5V1327.1"/>
<text class="t" text-anchor="middle" x="282.81" y="1344.4">3</text>
<path class="tk" d="M333.5 1322.5V1327.1"/>
<text class="t" text-anchor="middle" x="333.59" y="1344.4">4</text>
<text class="t" text-anchor="middle" x="258" y="1367.1">Group</text>
<text class="t" text-anchor="middle" transform="translate(83.65 1215.3) rotate(-90)" x="0" y="0">RMSE</text>
</g>
<g id="d2">
<path class="g" d="M456.5 1114.5H659.5"/>
<path class="g" d="M456.5 1200.5H659.5"/>
<path class="g" d="M456.5 1286.5H659.5"/>
<path d="M481.69 1145.6 481.59 1147.34 481.48 1149.07 481.34 1150.8 481.19 1152.54 481.02 1154.27 480.84 1156.01 480.64 1157.74 480.44 1159.47 480.22 1161.21 480 1162.94 479.79 1164.67 479.58 1166.41 479.38 1168.14 479.19 1169.88 479.01 1171.61 478.85 1173.34 478.7 1175.08 478.56 1176.81 478.42 1178.54 478.28 1180.28 478.12 1182.01 477.94 1183.75 477.73 1185.48 477.48 1187.21 477.18 1188.95 476.82 1190.68 476.4 1192.41 475.93 1194.15 475.38 1195.88 474.78 1197.62 474.13 1199.35 473.44 1201.08 472.71 1202.82 471.95 1204.55 471.19 1206.28 470.42 1208.02 469.66 1209.75 468.92 1211.49 468.21 1213.22 467.52 1214.95 466.87 1216.69 466.25 1218.42 465.66 1220.15 465.1 1221.89 464.57 1223.62 464.07 1225.35 463.6 1227.09 463.17 1228.82 462.77 1230.56 462.42 1232.29 462.14 1234.02 461.92 1235.76 461.79 1237.49 461.77 1239.22 461.86 1240.96 462.07 1242.69 462.42 1244.43 462.92 1246.16 463.54 1247.89 464.31 1249.63 465.19 1251.36 466.19 1253.09 467.27 1254.83 468.42 1256.56 469.61 1258.3 470.82 1260.03 472.02 1261.76 473.2 1263.5 474.32 1265.23 475.38 1266.96 476.37 1268.7 477.26 1270.43 478.07 1272.17 478.78 1273.9 479.39 1275.63 479.92 1277.37 480.37 1279.1 480.73 1280.83 481.04 1282.57 L483.1 1282.57 483.4 1280.83 483.77 1279.1 484.22 1277.37 484.74 1275.63 485.36 1273.9 486.07 1272.17 486.87 1270.43 487.77 1268.7 488.75 1266.96 489.81 1265.23 490.94 1263.5 492.12 1261.76 493.32 1260.03 494.53 1258.3 495.72 1256.56 496.87 1254.83 497.95 1253.09 498.94 1251.36 499.83 1249.63 500.59 1247.89 501.22 1246.16 501.71 1244.43 502.06 1242.69 502.28 1240.96 502.37 1239.22 502.34 1237.49 502.22 1235.76 502 1234.02 501.71 1232.29 501.37 1230.56 500.97 1228.82 500.54 1227.09 500.07 1225.35 499.57 1223.62 499.04 1221.89 498.48 1220.15 497.89 1218.42 497.27 1216.69 496.62 1214.95 495.93 1213.22 495.21 1211.49 494.48 1209.75 493.72 1208.02 492.95 1206.28 492.18 1204.55 491.43 1202.82 490.7 1201.08 490 1199.35 489.35 1197.62 488.75 1195.88 488.21 1194.15 487.73 1192.41 487.32 1190.68 486.96 1188.95 486.66 1187.21 486.41 1185.48 486.2 1183.75 486.02 1182.01 485.86 1180.28 485.72 1178.54 485.58 1176.81 485.44 1175.08 485.29 1173.34 485.12 1171.61 484.95 1169.88 484.76 1168.14 484.56 1166.41 484.35 1164.67 484.13 1162.94 483.91 1161.21 483.7 1159.47 483.49 1157.74 483.3 1156.01 483.11 1154.27 482.94 1152.54 482.79 1150.8 482.66 1149.07 482.55 1147.34 482.45 1145.6Z" fill="#f2a5a5" fill-opacity="0.3" stroke="#555" stroke-opacity="0.3" stroke-width="1.3" stroke-linejoin="round"/>
<path d="M531.8 1114.7 531.51 1116.62 531.17 1118.54 530.77 1120.46 530.29 1122.37 529.74 1124.29 529.11 1126.21 528.4 1128.13 527.6 1130.04 526.72 1131.96 525.77 1133.88 524.75 1135.8 523.68 1137.72 522.57 1139.63 521.43 1141.55 520.28 1143.47 519.15 1145.39 518.05 1147.3 517.01 1149.22 516.04 1151.14 515.17 1153.06 514.41 1154.97 513.77 1156.89 513.26 1158.81 512.89 1160.73 512.66 1162.64 512.56 1164.56 512.58 1166.48 512.72 1168.4 512.96 1170.32 513.29 1172.23 513.68 1174.15 514.11 1176.07 514.58 1177.99 515.06 1179.9 515.53 1181.82 515.98 1183.74 516.4 1185.66 516.77 1187.57 517.11 1189.49 517.4 1191.41 517.64 1193.33 517.83 1195.25 517.99 1197.16 518.13 1199.08 518.24 1201 518.35 1202.92 518.46 1204.83 518.58 1206.75 518.73 1208.67 518.91 1210.59 519.14 1212.5 519.41 1214.42 519.74 1216.34 520.12 1218.26 520.56 1220.17 521.05 1222.09 521.58 1224.01 522.16 1225.93 522.78 1227.85 523.42 1229.76 524.09 1231.68 524.77 1233.6 525.45 1235.52 526.12 1237.43 526.78 1239.35 527.42 1241.27 528.03 1243.19 528.61 1245.1 529.15 1247.02 529.65 1248.94 530.1 1250.86 530.51 1252.78 530.88 1254.69 531.21 1256.61 531.49 1258.53 531.74 1260.45 531.95 1262.36 532.13 1264.28 532.27 1266.2 L533.44 1266.2 533.58 1264.28 533.76 1262.36 533.97 1260.45 534.22 1258.53 534.5 1256.61 534.83 1254.69 535.2 1252.78 535.61 1250.86 536.06 1248.94 536.56 1247.02 537.1 1245.1 537.68 1243.19 538.29 1241.27 538.93 1239.35 539.59 1237.43 540.26 1235.52 540.94 1233.6 541.62 1231.68 542.29 1229.76 542.93 1227.85 543.55 1225.93 544.13 1224.01 544.66 1222.09 545.15 1220.17 545.59 1218.26 545.97 1216.34 546.3 1214.42 546.57 1212.5 546.8 1210.59 546.98 1208.67 547.13 1206.75 547.25 1204.83 547.36 1202.92 547.47 1201 547.58 1199.08 547.72 1197.16 547.88 1195.25 548.07 1193.33 548.31 1191.41 548.6 1189.49 548.94 1187.57 549.31 1185.66 549.73 1183.74 550.18 1181.82 550.65 1179.9 551.13 1177.99 551.6 1176.07 552.03 1174.15 552.42 1172.23 552.75 1170.32 552.99 1168.4 553.13 1166.48 553.16 1164.56 553.05 1162.64 552.82 1160.73 552.45 1158.81 551.94 1156.89 551.3 1154.97 550.54 1153.06 549.67 1151.14 548.7 1149.22 547.66 1147.3 546.56 1145.39 545.43 1143.47 544.28 1141.55 543.14 1139.63 542.03 1137.72 540.96 1135.8 539.94 1133.88 538.99 1131.96 538.11 1130.04 537.31 1128.13 536.6 1126.21 535.97 1124.29 535.42 1122.37 534.94 1120.46 534.54 1118.54 534.2 1116.62 533.91 1114.7Z" fill="#74b0ea" fill-opacity="0.3" stroke="#555" stroke-opacity="0.3" stroke-width="1.3" stroke-linejoin="round"/>
<path d="M582.79 1191.2 582.6 1192.75 582.36 1194.29 582.08 1195.83 581.74 1197.38 581.34 1198.92 580.87 1200.46 580.33 1202.01 579.71 1203.55 579.01 1205.09 578.24 1206.64 577.38 1208.18 576.45 1209.72 575.46 1211.27 574.41 1212.81 573.32 1214.35 572.19 1215.9 571.06 1217.44 569.94 1218.98 568.84 1220.53 567.79 1222.07 566.81 1223.61 565.92 1225.16 565.14 1226.7 564.48 1228.25 563.94 1229.79 563.55 1231.33 563.29 1232.88 563.17 1234.42 563.19 1235.96 563.33 1237.51 563.57 1239.05 563.92 1240.59 564.33 1242.14 564.81 1243.68 565.33 1245.22 565.87 1246.77 566.42 1248.31 566.96 1249.85 567.49 1251.4 567.99 1252.94 568.46 1254.48 568.91 1256.03 569.32 1257.57 569.71 1259.11 570.08 1260.66 570.43 1262.2 570.77 1263.74 571.11 1265.29 571.45 1266.83 571.79 1268.37 572.15 1269.92 572.53 1271.46 572.92 1273 573.33 1274.55 573.77 1276.09 574.22 1277.64 574.68 1279.18 575.16 1280.72 575.65 1282.27 576.15 1283.81 576.66 1285.35 577.16 1286.9 577.66 1288.44 578.15 1289.98 578.63 1291.53 579.09 1293.07 579.54 1294.61 579.96 1296.16 580.36 1297.7 580.74 1299.24 581.09 1300.79 581.41 1302.33 581.7 1303.87 581.97 1305.42 582.2 1306.96 582.41 1308.5 582.59 1310.05 582.75 1311.59 582.89 1313.13 L584.06 1313.13 584.2 1311.59 584.36 1310.05 584.54 1308.5 584.75 1306.96 584.98 1305.42 585.25 1303.87 585.54 1302.33 585.86 1300.79 586.21 1299.24 586.59 1297.7 586.99 1296.16 587.41 1294.61 587.86 1293.07 588.32 1291.53 588.8 1289.98 589.29 1288.44 589.79 1286.9 590.29 1285.35 590.8 1283.81 591.29 1282.27 591.79 1280.72 592.27 1279.18 592.73 1277.64 593.18 1276.09 593.61 1274.55 594.03 1273 594.42 1271.46 594.8 1269.92 595.16 1268.37 595.5 1266.83 595.84 1265.29 596.18 1263.74 596.52 1262.2 596.87 1260.66 597.24 1259.11 597.62 1257.57 598.04 1256.03 598.48 1254.48 598.96 1252.94 599.46 1251.4 599.99 1249.85 600.53 1248.31 601.08 1246.77 601.62 1245.22 602.14 1243.68 602.62 1242.14 603.03 1240.59 603.37 1239.05 603.62 1237.51 603.76 1235.96 603.77 1234.42 603.66 1232.88 603.4 1231.33 603.01 1229.79 602.47 1228.25 601.81 1226.7 601.02 1225.16 600.13 1223.61 599.16 1222.07 598.11 1220.53 597.01 1218.98 595.89 1217.44 594.75 1215.9 593.63 1214.35 592.54 1212.81 591.49 1211.27 590.5 1209.72 589.57 1208.18 588.71 1206.64 587.94 1205.09 587.24 1203.55 586.62 1202.01 586.08 1200.46 585.61 1198.92 585.21 1197.38 584.87 1195.83 584.58 1194.29 584.35 1192.75 584.16 1191.2Z" fill="#a1eea1" fill-opacity="0.3" stroke="#555" stroke-opacity="0.3" stroke-width="1.3" stroke-linejoin="round"/>
<path d="M633.23 1139.42 632.96 1140.22 632.64 1141.02 632.26 1141.81 631.82 1142.61 631.31 1143.41 630.73 1144.21 630.08 1145 629.36 1145.8 628.56 1146.6 627.7 1147.39 626.78 1148.19 625.8 1148.99 624.78 1149.79 623.73 1150.58 622.67 1151.38 621.6 1152.18 620.55 1152.97 619.53 1153.77 618.55 1154.57 617.64 1155.37 616.8 1156.16 616.06 1156.96 615.41 1157.76 614.88 1158.55 614.47 1159.35 614.17 1160.15 614 1160.94 613.96 1161.74 614.04 1162.54 614.24 1163.34 614.55 1164.13 614.96 1164.93 615.47 1165.73 616.06 1166.52 616.72 1167.32 617.43 1168.12 618.19 1168.92 618.96 1169.71 619.75 1170.51 620.54 1171.31 621.3 1172.1 622.04 1172.9 622.73 1173.7 623.38 1174.5 623.97 1175.29 624.5 1176.09 624.98 1176.89 625.39 1177.68 625.75 1178.48 626.07 1179.28 626.34 1180.08 626.58 1180.87 626.8 1181.67 627 1182.47 627.2 1183.26 627.4 1184.06 627.61 1184.86 627.84 1185.65 628.08 1186.45 628.35 1187.25 628.64 1188.05 628.95 1188.84 629.28 1189.64 629.63 1190.44 629.98 1191.23 630.35 1192.03 630.71 1192.83 631.07 1193.63 631.42 1194.42 631.76 1195.22 632.07 1196.02 632.37 1196.81 632.64 1197.61 632.89 1198.41 633.11 1199.21 633.31 1200 633.48 1200.8 633.63 1201.6 633.75 1202.39 L634.77 1202.39 634.9 1201.6 635.04 1200.8 635.21 1200 635.41 1199.21 635.63 1198.41 635.88 1197.61 636.15 1196.81 636.45 1196.02 636.77 1195.22 637.1 1194.42 637.45 1193.63 637.81 1192.83 638.18 1192.03 638.54 1191.23 638.9 1190.44 639.24 1189.64 639.57 1188.84 639.88 1188.05 640.17 1187.25 640.44 1186.45 640.69 1185.65 640.91 1184.86 641.12 1184.06 641.32 1183.26 641.52 1182.47 641.72 1181.67 641.94 1180.87 642.18 1180.08 642.45 1179.28 642.77 1178.48 643.13 1177.68 643.54 1176.89 644.02 1176.09 644.55 1175.29 645.14 1174.5 645.79 1173.7 646.48 1172.9 647.22 1172.1 647.99 1171.31 648.77 1170.51 649.56 1169.71 650.33 1168.92 651.09 1168.12 651.8 1167.32 652.46 1166.52 653.05 1165.73 653.56 1164.93 653.97 1164.13 654.28 1163.34 654.48 1162.54 654.56 1161.74 654.52 1160.94 654.35 1160.15 654.06 1159.35 653.64 1158.55 653.11 1157.76 652.46 1156.96 651.72 1156.16 650.88 1155.37 649.97 1154.57 649 1153.77 647.97 1152.97 646.92 1152.18 645.86 1151.38 644.79 1150.58 643.74 1149.79 642.72 1148.99 641.75 1148.19 640.82 1147.39 639.96 1146.6 639.17 1145.8 638.44 1145 637.79 1144.21 637.21 1143.41 636.7 1142.61 636.26 1141.81 635.88 1141.02 635.56 1140.22 635.29 1139.42Z" fill="#f4c99f" fill-opacity="0.3" stroke="#555" stroke-opacity="0.3" stroke-width="1.3" stroke-linejoin="round"/>
<rect x="476.87" y="1219.43" width="10.4" height="28.9" fill="#f2a5a5" stroke="#6f6f6f" stroke-width="1.15"/>
<path class="bx" d="M476.87 1236.3H487.27M482.07 1219.43V1175.33M479.67 1175.33H484.47M482.07 1248.33V1252.17M479.67 1252.17H484.47"/>
<rect x="527.66" y="1159.47" width="10.4" height="47.1" fill="#74b0ea" stroke="#6f6f6f" stroke-width="1.15"/>
<path class="bx" d="M527.66 1176.17H538.06M532.86 1159.47V1150.95M530.46 1150.95H535.26M532.86 1206.57V1230.45M530.46 1230.45H535.26"/>
<rect x="578.27" y="1229.45" width="10.4" height="30.07" fill="#a1eea1" stroke="#6f6f6f" stroke-width="1.15"/>
<path class="bx" d="M578.27 1236.13H588.67M583.47 1229.45V1219.43M581.07 1219.43H585.87M583.47 1259.52V1285.07M581.07 1285.07H585.87"/>
<rect x="629.06" y="1159.47" width="10.4" height="9.02" fill="#f4c99f" stroke="#6f6f6f" stroke-width="1.15"/>
<path class="bx" d="M629.06 1162.31H639.46M634.26 1159.47V1154.29M631.86 1154.29H636.66M634.26 1168.49V1181.18M631.86 1181.18H636.66"/>
<g fill="#ff9999" fill-opacity="0.7">
<circle cx="483.41" cy="1175.33" r="2.6"/>
<circle cx="480.06" cy="1214.92" r="2.6"/>
<circle cx="484.41" cy="1217.93" r="2.6"/>
<circle cx="478.39" cy="1232.46" r="2.6"/>
<circle cx="477.22" cy="1241.31" r="2.6"/>
<circle cx="483.91" cy="1244.99" r="2.6"/>
<circle cx="476.89" cy="1249.66" r="2.6"/>
<circle cx="486.41" cy="1253" r="2.6"/>
</g>
<g fill="#66b3ff" fill-opacity="0.7">
<circle cx="528.51" cy="1150.95" r="2.6"/>
<circle cx="527.84" cy="1155.63" r="2.6"/>
<circle cx="536.53" cy="1157.3" r="2.6"/>
<circle cx="537.03" cy="1164.81" r="2.6"/>
<circle cx="538.2" cy="1176" r="2.6"/>
<circle cx="531.52" cy="1194.38" r="2.6"/>
<circle cx="531.52" cy="1210.75" r="2.6"/>
<circle cx="537.03" cy="1219.43" r="2.6"/>
<circle cx="528.68" cy="1230.45" r="2.6"/>
</g>
<g fill="#99ff99" fill-opacity="0.7">
<circle cx="588.32" cy="1222.44" r="2.6"/>
<circle cx="584.14" cy="1227.45" r="2.6"/>
<circle cx="587.48" cy="1233.29" r="2.6"/>
<circle cx="580.8" cy="1236.13" r="2.6"/>
<circle cx="584.98" cy="1244.99" r="2.6"/>
<circle cx="581.14" cy="1264.19" r="2.6"/>
<circle cx="579.13" cy="1271.71" r="2.6"/>
<circle cx="584.98" cy="1285.41" r="2.6"/>
</g>
<g fill="#ffcc99" fill-opacity="0.7">
<circle cx="630.92" cy="1154.29" r="2.6"/>
<circle cx="638.77" cy="1154.29" r="2.6"/>
<circle cx="631.75" cy="1159.47" r="2.6"/>
<circle cx="635.93" cy="1164.81" r="2.6"/>
<circle cx="634.26" cy="1169.82" r="2.6"/>
<circle cx="630.92" cy="1181.18" r="2.6"/>
<circle cx="633.43" cy="1187.86" r="2.6"/>
</g>
<path class="ax" d="M456 1105.5H660"/>
<path class="ax" d="M456 1322.5H660"/>
<path class="ax" d="M456.5 1105V1323"/>
<path class="ax" d="M659.5 1105V1323"/>
<path class="tk" d="M451.9 1114.5H456.5"/>
<text class="t" text-anchor="end" letter-spacing="-0.13" x="448.6" y="1121.3">1.00</text>
<path class="tk" d="M451.9 1200.5H456.5"/>
<text class="t" text-anchor="end" letter-spacing="-0.13" x="448.6" y="1207.3">0.95</text>
<path class="tk" d="M451.9 1286.5H456.5"/>
<text class="t" text-anchor="end" letter-spacing="-0.13" x="448.6" y="1293.3">0.90</text>
<path class="tk" d="M482.5 1322.5V1327.1"/>
<text class="t" text-anchor="middle" x="482.07" y="1344.4">1</text>
<path class="tk" d="M532.5 1322.5V1327.1"/>
<text class="t" text-anchor="middle" x="532.86" y="1344.4">2</text>
<path class="tk" d="M583.5 1322.5V1327.1"/>
<text class="t" text-anchor="middle" x="583.47" y="1344.4">3</text>
<path class="tk" d="M634.5 1322.5V1327.1"/>
<text class="t" text-anchor="middle" x="634.26" y="1344.4">4</text>
<text class="t" text-anchor="middle" x="558" y="1367.1">Group</text>
<text class="t" transform="translate(405.97 1228.9) rotate(-90)" x="0" y="0">R<tspan dx="0.8" dy="-6.7" font-size="13.6px">2</tspan></text>
</g>
<g id="d3">
<path class="g" d="M757.5 1155.5H960.5"/>
<path class="g" d="M757.5 1206.5H960.5"/>
<path class="g" d="M757.5 1257.5H960.5"/>
<path class="g" d="M757.5 1308.5H960.5"/>
<path d="M781.77 1141.43 781.49 1143.02 781.15 1144.61 780.74 1146.2 780.26 1147.8 779.71 1149.39 779.07 1150.98 778.34 1152.57 777.53 1154.16 776.65 1155.76 775.7 1157.35 774.68 1158.94 773.62 1160.53 772.52 1162.12 771.41 1163.72 770.3 1165.31 769.21 1166.9 768.16 1168.49 767.16 1170.08 766.24 1171.68 765.39 1173.27 764.65 1174.86 764 1176.45 763.47 1178.05 763.04 1179.64 762.73 1181.23 762.52 1182.82 762.43 1184.41 762.45 1186.01 762.58 1187.6 762.81 1189.19 763.15 1190.78 763.58 1192.37 764.11 1193.97 764.74 1195.56 765.44 1197.15 766.23 1198.74 767.08 1200.33 768 1201.93 768.95 1203.52 769.94 1205.11 770.94 1206.7 771.93 1208.29 772.91 1209.89 773.84 1211.48 774.72 1213.07 775.54 1214.66 776.27 1216.25 776.91 1217.85 777.46 1219.44 777.92 1221.03 778.28 1222.62 778.56 1224.22 778.75 1225.81 778.87 1227.4 778.94 1228.99 778.96 1230.58 778.96 1232.18 778.94 1233.77 778.92 1235.36 778.92 1236.95 778.93 1238.54 778.97 1240.14 779.05 1241.73 779.16 1243.32 779.31 1244.91 779.49 1246.5 779.69 1248.1 779.93 1249.69 780.17 1251.28 780.43 1252.87 780.69 1254.46 780.94 1256.06 781.18 1257.65 781.41 1259.24 781.62 1260.83 781.81 1262.42 781.98 1264.02 782.12 1265.61 782.25 1267.2 L783.22 1267.2 783.35 1265.61 783.49 1264.02 783.66 1262.42 783.85 1260.83 784.06 1259.24 784.29 1257.65 784.53 1256.06 784.78 1254.46 785.04 1252.87 785.3 1251.28 785.54 1249.69 785.77 1248.1 785.98 1246.5 786.16 1244.91 786.31 1243.32 786.42 1241.73 786.5 1240.14 786.54 1238.54 786.55 1236.95 786.55 1235.36 786.53 1233.77 786.51 1232.18 786.5 1230.58 786.53 1228.99 786.6 1227.4 786.72 1225.81 786.91 1224.22 787.19 1222.62 787.55 1221.03 788 1219.44 788.56 1217.85 789.2 1216.25 789.93 1214.66 790.75 1213.07 791.63 1211.48 792.56 1209.89 793.54 1208.29 794.53 1206.7 795.53 1205.11 796.52 1203.52 797.47 1201.93 798.39 1200.33 799.24 1198.74 800.03 1197.15 800.73 1195.56 801.36 1193.97 801.89 1192.37 802.32 1190.78 802.66 1189.19 802.89 1187.6 803.01 1186.01 803.03 1184.41 802.94 1182.82 802.74 1181.23 802.43 1179.64 802 1178.05 801.47 1176.45 800.82 1174.86 800.07 1173.27 799.23 1171.68 798.31 1170.08 797.31 1168.49 796.26 1166.9 795.17 1165.31 794.06 1163.72 792.95 1162.12 791.85 1160.53 790.79 1158.94 789.77 1157.35 788.82 1155.76 787.93 1154.16 787.13 1152.57 786.4 1150.98 785.76 1149.39 785.2 1147.8 784.73 1146.2 784.32 1144.61 783.98 1143.02 783.7 1141.43Z" fill="#f2a5a5" fill-opacity="0.3" stroke="#555" stroke-opacity="0.3" stroke-width="1.3" stroke-linejoin="round"/>
<path d="M832.65 1135.25 832.44 1137.5 832.17 1139.75 831.87 1142 831.51 1144.25 831.1 1146.51 830.64 1148.76 830.12 1151.01 829.55 1153.26 828.92 1155.51 828.24 1157.76 827.52 1160.02 826.77 1162.27 825.98 1164.52 825.18 1166.77 824.36 1169.02 823.56 1171.28 822.76 1173.53 821.99 1175.78 821.26 1178.03 820.57 1180.28 819.94 1182.53 819.36 1184.79 818.85 1187.04 818.4 1189.29 818.01 1191.54 817.68 1193.79 817.4 1196.04 817.16 1198.3 816.95 1200.55 816.77 1202.8 816.61 1205.05 816.44 1207.3 816.28 1209.55 816.1 1211.81 815.9 1214.06 815.68 1216.31 815.43 1218.56 815.17 1220.81 814.89 1223.07 814.6 1225.32 814.31 1227.57 814.04 1229.82 813.78 1232.07 813.56 1234.32 813.38 1236.58 813.27 1238.83 813.22 1241.08 813.26 1243.33 813.38 1245.58 813.6 1247.83 813.91 1250.09 814.32 1252.34 814.84 1254.59 815.44 1256.84 816.13 1259.09 816.91 1261.34 817.75 1263.6 818.66 1265.85 819.61 1268.1 820.59 1270.35 821.6 1272.6 822.6 1274.85 823.6 1277.11 824.58 1279.36 825.53 1281.61 826.44 1283.86 827.29 1286.11 828.09 1288.37 828.83 1290.62 829.5 1292.87 830.11 1295.12 830.65 1297.37 831.12 1299.62 831.54 1301.88 831.9 1304.13 832.21 1306.38 832.47 1308.63 832.68 1310.88 832.86 1313.13 L834.18 1313.13 834.36 1310.88 834.58 1308.63 834.84 1306.38 835.14 1304.13 835.5 1301.88 835.92 1299.62 836.39 1297.37 836.94 1295.12 837.54 1292.87 838.21 1290.62 838.95 1288.37 839.75 1286.11 840.61 1283.86 841.51 1281.61 842.46 1279.36 843.44 1277.11 844.44 1274.85 845.45 1272.6 846.45 1270.35 847.43 1268.1 848.38 1265.85 849.29 1263.6 850.13 1261.34 850.91 1259.09 851.6 1256.84 852.21 1254.59 852.72 1252.34 853.13 1250.09 853.45 1247.83 853.66 1245.58 853.79 1243.33 853.82 1241.08 853.78 1238.83 853.66 1236.58 853.48 1234.32 853.26 1232.07 853.01 1229.82 852.73 1227.57 852.44 1225.32 852.15 1223.07 851.87 1220.81 851.61 1218.56 851.36 1216.31 851.14 1214.06 850.94 1211.81 850.76 1209.55 850.6 1207.3 850.43 1205.05 850.27 1202.8 850.09 1200.55 849.88 1198.3 849.65 1196.04 849.36 1193.79 849.03 1191.54 848.64 1189.29 848.19 1187.04 847.68 1184.79 847.1 1182.53 846.47 1180.28 845.78 1178.03 845.05 1175.78 844.28 1173.53 843.49 1171.28 842.68 1169.02 841.86 1166.77 841.06 1164.52 840.27 1162.27 839.52 1160.02 838.8 1157.76 838.12 1155.51 837.5 1153.26 836.92 1151.01 836.4 1148.76 835.94 1146.51 835.53 1144.25 835.17 1142 834.87 1139.75 834.61 1137.5 834.39 1135.25Z" fill="#74b0ea" fill-opacity="0.3" stroke="#555" stroke-opacity="0.3" stroke-width="1.3" stroke-linejoin="round"/>
<path d="M883.74 1114.7 883.58 1116.48 883.4 1118.26 883.17 1120.03 882.91 1121.81 882.61 1123.58 882.25 1125.36 881.85 1127.14 881.4 1128.91 880.9 1130.69 880.35 1132.46 879.75 1134.24 879.11 1136.02 878.42 1137.79 877.7 1139.57 876.96 1141.34 876.19 1143.12 875.41 1144.9 874.64 1146.67 873.87 1148.45 873.12 1150.22 872.41 1152 871.73 1153.78 871.1 1155.55 870.53 1157.33 870.02 1159.1 869.56 1160.88 869.17 1162.66 868.83 1164.43 868.54 1166.21 868.3 1167.98 868.09 1169.76 867.9 1171.54 867.73 1173.31 867.56 1175.09 867.38 1176.86 867.18 1178.64 866.97 1180.42 866.72 1182.19 866.45 1183.97 866.16 1185.74 865.84 1187.52 865.52 1189.3 865.19 1191.07 864.88 1192.85 864.59 1194.62 864.34 1196.4 864.16 1198.18 864.04 1199.95 864.01 1201.73 864.07 1203.5 864.25 1205.28 864.54 1207.06 864.94 1208.83 865.46 1210.61 866.09 1212.38 866.83 1214.16 867.66 1215.94 868.56 1217.71 869.54 1219.49 870.56 1221.26 871.61 1223.04 872.68 1224.82 873.75 1226.59 874.79 1228.37 875.81 1230.14 876.78 1231.92 877.7 1233.7 878.56 1235.47 879.35 1237.25 880.07 1239.02 880.72 1240.8 881.29 1242.58 881.8 1244.35 882.24 1246.13 882.62 1247.9 882.95 1249.68 883.22 1251.46 883.45 1253.23 883.63 1255.01 L884.98 1255.01 885.17 1253.23 885.39 1251.46 885.67 1249.68 885.99 1247.9 886.37 1246.13 886.81 1244.35 887.32 1242.58 887.9 1240.8 888.55 1239.02 889.27 1237.25 890.06 1235.47 890.92 1233.7 891.83 1231.92 892.81 1230.14 893.82 1228.37 894.87 1226.59 895.93 1224.82 897 1223.04 898.05 1221.26 899.08 1219.49 900.05 1217.71 900.96 1215.94 901.79 1214.16 902.52 1212.38 903.15 1210.61 903.67 1208.83 904.08 1207.06 904.37 1205.28 904.54 1203.5 904.61 1201.73 904.58 1199.95 904.46 1198.18 904.27 1196.4 904.02 1194.62 903.74 1192.85 903.42 1191.07 903.1 1189.3 902.77 1187.52 902.46 1185.74 902.16 1183.97 901.89 1182.19 901.65 1180.42 901.43 1178.64 901.24 1176.86 901.06 1175.09 900.89 1173.31 900.72 1171.54 900.53 1169.76 900.32 1167.98 900.08 1166.21 899.79 1164.43 899.45 1162.66 899.05 1160.88 898.6 1159.1 898.08 1157.33 897.51 1155.55 896.88 1153.78 896.21 1152 895.49 1150.22 894.75 1148.45 893.98 1146.67 893.2 1144.9 892.43 1143.12 891.66 1141.34 890.91 1139.57 890.19 1137.79 889.51 1136.02 888.86 1134.24 888.26 1132.46 887.71 1130.69 887.21 1128.91 886.76 1127.14 886.36 1125.36 886.01 1123.58 885.7 1121.81 885.44 1120.03 885.22 1118.26 885.03 1116.48 884.88 1114.7Z" fill="#a1eea1" fill-opacity="0.3" stroke="#555" stroke-opacity="0.3" stroke-width="1.3" stroke-linejoin="round"/>
<path d="M934.24 1208.57 934.06 1209.68 933.85 1210.78 933.6 1211.88 933.3 1212.98 932.97 1214.08 932.59 1215.18 932.17 1216.28 931.72 1217.39 931.23 1218.49 930.71 1219.59 930.16 1220.69 929.59 1221.79 929.02 1222.89 928.44 1224 927.87 1225.1 927.31 1226.2 926.76 1227.3 926.24 1228.4 925.74 1229.5 925.26 1230.6 924.82 1231.71 924.39 1232.81 924 1233.91 923.62 1235.01 923.26 1236.11 922.91 1237.21 922.58 1238.32 922.26 1239.42 921.94 1240.52 921.63 1241.62 921.32 1242.72 921.02 1243.82 920.71 1244.92 920.4 1246.03 920.08 1247.13 919.75 1248.23 919.41 1249.33 919.05 1250.43 918.66 1251.53 918.26 1252.64 917.83 1253.74 917.39 1254.84 916.94 1255.94 916.49 1257.04 916.05 1258.14 915.63 1259.25 915.27 1260.35 914.96 1261.45 914.75 1262.55 914.63 1263.65 914.63 1264.75 914.75 1265.85 915.01 1266.96 915.41 1268.06 915.95 1269.16 916.61 1270.26 917.4 1271.36 918.29 1272.46 919.26 1273.57 920.3 1274.67 921.39 1275.77 922.51 1276.87 923.63 1277.97 924.74 1279.07 925.82 1280.17 926.86 1281.28 927.85 1282.38 928.77 1283.48 929.62 1284.58 930.39 1285.68 931.09 1286.78 931.71 1287.89 932.26 1288.99 932.74 1290.09 933.15 1291.19 933.5 1292.29 933.79 1293.39 934.03 1294.49 934.23 1295.6 L935.63 1295.6 935.82 1294.49 936.07 1293.39 936.36 1292.29 936.71 1291.19 937.12 1290.09 937.59 1288.99 938.14 1287.89 938.76 1286.78 939.46 1285.68 940.24 1284.58 941.09 1283.48 942.01 1282.38 942.99 1281.28 944.03 1280.17 945.11 1279.07 946.22 1277.97 947.34 1276.87 948.46 1275.77 949.55 1274.67 950.59 1273.57 951.57 1272.46 952.46 1271.36 953.24 1270.26 953.91 1269.16 954.44 1268.06 954.84 1266.96 955.1 1265.85 955.23 1264.75 955.22 1263.65 955.11 1262.55 954.89 1261.45 954.59 1260.35 954.22 1259.25 953.81 1258.14 953.37 1257.04 952.91 1255.94 952.46 1254.84 952.02 1253.74 951.59 1252.64 951.19 1251.53 950.81 1250.43 950.45 1249.33 950.1 1248.23 949.77 1247.13 949.45 1246.03 949.14 1244.92 948.84 1243.82 948.53 1242.72 948.22 1241.62 947.91 1240.52 947.6 1239.42 947.27 1238.32 946.94 1237.21 946.6 1236.11 946.24 1235.01 945.86 1233.91 945.46 1232.81 945.04 1231.71 944.59 1230.6 944.12 1229.5 943.62 1228.4 943.09 1227.3 942.55 1226.2 941.98 1225.1 941.41 1224 940.83 1222.89 940.26 1221.79 939.69 1220.69 939.15 1219.59 938.63 1218.49 938.13 1217.39 937.68 1216.28 937.26 1215.18 936.89 1214.08 936.55 1212.98 936.26 1211.88 936.01 1210.78 935.79 1209.68 935.61 1208.57Z" fill="#f4c99f" fill-opacity="0.3" stroke="#555" stroke-opacity="0.3" stroke-width="1.3" stroke-linejoin="round"/>
<rect x="777.53" y="1175.33" width="10.4" height="24.05" fill="#f2a5a5" stroke="#6f6f6f" stroke-width="1.15"/>
<path class="bx" d="M777.53 1183.52H787.93M782.73 1175.33V1168.65M780.33 1168.65H785.13M782.73 1199.39V1204.4M780.33 1204.4H785.13"/>
<rect x="828.32" y="1198.55" width="10.4" height="56.79" fill="#74b0ea" stroke="#6f6f6f" stroke-width="1.15"/>
<path class="bx" d="M828.32 1233.29H838.72M833.52 1198.55V1177.67M831.12 1177.67H835.92M833.52 1255.34V1270.37M831.12 1270.37H835.92"/>
<rect x="879.11" y="1169.49" width="10.4" height="35.91" fill="#a1eea1" stroke="#6f6f6f" stroke-width="1.15"/>
<path class="bx" d="M879.11 1187.36H889.51M884.31 1169.49V1146.44M881.91 1146.44H886.71M884.31 1205.4V1223.27M881.91 1223.27H886.71"/>
<rect x="929.73" y="1248.66" width="10.4" height="17.2" fill="#f4c99f" stroke="#6f6f6f" stroke-width="1.15"/>
<path class="bx" d="M929.73 1259.52H940.13M934.93 1248.66V1227.45M932.53 1227.45H937.33M934.93 1265.86V1276.39M932.53 1276.39H937.33"/>
<g fill="#ff9999" fill-opacity="0.7">
<circle cx="787.91" cy="1168.65" r="2.6"/>
<circle cx="784.91" cy="1172.33" r="2.6"/>
<circle cx="778.22" cy="1187.36" r="2.6"/>
<circle cx="783.24" cy="1194.04" r="2.6"/>
<circle cx="781.06" cy="1204.06" r="2.6"/>
<circle cx="783.74" cy="1239.98" r="2.6"/>
</g>
<g fill="#66b3ff" fill-opacity="0.7">
<circle cx="835.36" cy="1177.01" r="2.6"/>
<circle cx="837.53" cy="1181.18" r="2.6"/>
<circle cx="838.03" cy="1195.21" r="2.6"/>
<circle cx="837.53" cy="1209.91" r="2.6"/>
<circle cx="828.01" cy="1232.46" r="2.6"/>
<circle cx="832.02" cy="1235.3" r="2.6"/>
<circle cx="830.01" cy="1250.33" r="2.6"/>
<circle cx="829.18" cy="1258.35" r="2.6"/>
<circle cx="835.53" cy="1270.54" r="2.6"/>
</g>
<g fill="#99ff99" fill-opacity="0.7">
<circle cx="881.47" cy="1146.44" r="2.6"/>
<circle cx="882.3" cy="1160.64" r="2.6"/>
<circle cx="883.14" cy="1163.48" r="2.6"/>
<circle cx="878.96" cy="1187.03" r="2.6"/>
<circle cx="879.3" cy="1201.89" r="2.6"/>
<circle cx="888.99" cy="1207.4" r="2.6"/>
<circle cx="884.31" cy="1212.42" r="2.6"/>
<circle cx="879.3" cy="1223.61" r="2.6"/>
</g>
<g fill="#ffcc99" fill-opacity="0.7">
<circle cx="932.75" cy="1227.45" r="2.6"/>
<circle cx="931.42" cy="1235.8" r="2.6"/>
<circle cx="934.09" cy="1246.66" r="2.6"/>
<circle cx="930.25" cy="1265.53" r="2.6"/>
<circle cx="935.26" cy="1268.04" r="2.6"/>
<circle cx="929.41" cy="1276.39" r="2.6"/>
</g>
<path class="ax" d="M757 1105.5H961"/>
<path class="ax" d="M757 1322.5H961"/>
<path class="ax" d="M757.5 1105V1323"/>
<path class="ax" d="M960.5 1105V1323"/>
<path class="tk" d="M752.9 1155.5H757.5"/>
<text class="t" text-anchor="end" letter-spacing="-0.13" x="749.6" y="1162.3">0.0100</text>
<path class="tk" d="M752.9 1206.5H757.5"/>
<text class="t" text-anchor="end" letter-spacing="-0.13" x="749.6" y="1213.3">0.0075</text>
<path class="tk" d="M752.9 1257.5H757.5"/>
<text class="t" text-anchor="end" letter-spacing="-0.13" x="749.6" y="1264.3">0.0050</text>
<path class="tk" d="M752.9 1308.5H757.5"/>
<text class="t" text-anchor="end" letter-spacing="-0.13" x="749.6" y="1315.3">0.0025</text>
<path class="tk" d="M782.5 1322.5V1327.1"/>
<text class="t" text-anchor="middle" x="782.73" y="1344.4">1</text>
<path class="tk" d="M833.5 1322.5V1327.1"/>
<text class="t" text-anchor="middle" x="833.52" y="1344.4">2</text>
<path class="tk" d="M884.5 1322.5V1327.1"/>
<text class="t" text-anchor="middle" x="884.31" y="1344.4">3</text>
<path class="tk" d="M934.5 1322.5V1327.1"/>
<text class="t" text-anchor="middle" x="934.93" y="1344.4">4</text>
<text class="t" text-anchor="middle" x="859" y="1367.1">Group</text>
<text class="t" text-anchor="middle" transform="translate(684.65 1215.3) rotate(-90)" x="0" y="0">MAE</text>
</g>
<g id="d4">
<path class="g" d="M1058.5 1119.5H1261.5"/>
<path class="g" d="M1058.5 1166.5H1261.5"/>
<path class="g" d="M1058.5 1215.5H1261.5"/>
<path class="g" d="M1058.5 1264.5H1261.5"/>
<path class="g" d="M1058.5 1312.5H1261.5"/>
<path d="M1082.66 1138.42 1082.39 1140.05 1082.06 1141.68 1081.66 1143.31 1081.18 1144.94 1080.63 1146.57 1079.98 1148.2 1079.24 1149.83 1078.41 1151.46 1077.5 1153.09 1076.5 1154.72 1075.44 1156.35 1074.32 1157.98 1073.16 1159.61 1071.99 1161.24 1070.81 1162.87 1069.66 1164.5 1068.56 1166.13 1067.53 1167.76 1066.59 1169.39 1065.75 1171.02 1065.03 1172.65 1064.43 1174.28 1063.96 1175.91 1063.61 1177.54 1063.38 1179.17 1063.27 1180.8 1063.27 1182.43 1063.37 1184.06 1063.56 1185.69 1063.84 1187.32 1064.19 1188.96 1064.62 1190.59 1065.13 1192.22 1065.7 1193.85 1066.35 1195.48 1067.06 1197.11 1067.83 1198.74 1068.66 1200.37 1069.55 1202 1070.47 1203.63 1071.42 1205.26 1072.38 1206.89 1073.33 1208.52 1074.27 1210.15 1075.16 1211.78 1076.01 1213.41 1076.78 1215.04 1077.47 1216.67 1078.08 1218.3 1078.6 1219.93 1079.02 1221.56 1079.36 1223.19 1079.61 1224.82 1079.79 1226.45 1079.91 1228.08 1079.99 1229.71 1080.02 1231.34 1080.04 1232.97 1080.05 1234.6 1080.07 1236.23 1080.1 1237.86 1080.16 1239.49 1080.24 1241.12 1080.35 1242.75 1080.49 1244.38 1080.66 1246.01 1080.85 1247.64 1081.06 1249.27 1081.29 1250.9 1081.52 1252.53 1081.75 1254.16 1081.98 1255.79 1082.19 1257.42 1082.4 1259.05 1082.59 1260.68 1082.75 1262.31 1082.9 1263.94 1083.03 1265.57 1083.14 1267.2 L1084 1267.2 1084.11 1265.57 1084.24 1263.94 1084.39 1262.31 1084.55 1260.68 1084.74 1259.05 1084.95 1257.42 1085.16 1255.79 1085.39 1254.16 1085.62 1252.53 1085.85 1250.9 1086.08 1249.27 1086.29 1247.64 1086.48 1246.01 1086.65 1244.38 1086.79 1242.75 1086.9 1241.12 1086.98 1239.49 1087.04 1237.86 1087.07 1236.23 1087.08 1234.6 1087.1 1232.97 1087.12 1231.34 1087.15 1229.71 1087.23 1228.08 1087.35 1226.45 1087.53 1224.82 1087.78 1223.19 1088.12 1221.56 1088.54 1219.93 1089.06 1218.3 1089.66 1216.67 1090.36 1215.04 1091.13 1213.41 1091.98 1211.78 1092.87 1210.15 1093.81 1208.52 1094.76 1206.89 1095.72 1205.26 1096.67 1203.63 1097.59 1202 1098.48 1200.37 1099.31 1198.74 1100.08 1197.11 1100.79 1195.48 1101.44 1193.85 1102.01 1192.22 1102.52 1190.59 1102.95 1188.96 1103.3 1187.32 1103.58 1185.69 1103.77 1184.06 1103.87 1182.43 1103.87 1180.8 1103.76 1179.17 1103.53 1177.54 1103.18 1175.91 1102.71 1174.28 1102.11 1172.65 1101.39 1171.02 1100.55 1169.39 1099.61 1167.76 1098.58 1166.13 1097.48 1164.5 1096.33 1162.87 1095.15 1161.24 1093.98 1159.61 1092.82 1157.98 1091.7 1156.35 1090.63 1154.72 1089.64 1153.09 1088.73 1151.46 1087.9 1149.83 1087.16 1148.2 1086.51 1146.57 1085.95 1144.94 1085.48 1143.31 1085.08 1141.68 1084.75 1140.05 1084.48 1138.42Z" fill="#f2a5a5" fill-opacity="0.3" stroke="#555" stroke-opacity="0.3" stroke-width="1.3" stroke-linejoin="round"/>
<path d="M1133.62 1135.25 1133.43 1137.5 1133.21 1139.75 1132.94 1142 1132.64 1144.25 1132.29 1146.51 1131.89 1148.76 1131.44 1151.01 1130.94 1153.26 1130.4 1155.51 1129.81 1157.76 1129.19 1160.02 1128.53 1162.27 1127.84 1164.52 1127.13 1166.77 1126.42 1169.02 1125.71 1171.28 1125 1173.53 1124.32 1175.78 1123.67 1178.03 1123.06 1180.28 1122.49 1182.53 1121.97 1184.79 1121.5 1187.04 1121.09 1189.29 1120.72 1191.54 1120.41 1193.79 1120.14 1196.04 1119.9 1198.3 1119.7 1200.55 1119.51 1202.8 1119.32 1205.05 1119.13 1207.3 1118.93 1209.55 1118.71 1211.81 1118.47 1214.06 1118.19 1216.31 1117.87 1218.56 1117.53 1220.81 1117.15 1223.07 1116.76 1225.32 1116.34 1227.57 1115.93 1229.82 1115.52 1232.07 1115.13 1234.32 1114.79 1236.58 1114.49 1238.83 1114.26 1241.08 1114.11 1243.33 1114.06 1245.58 1114.1 1247.83 1114.26 1250.09 1114.53 1252.34 1114.92 1254.59 1115.43 1256.84 1116.04 1259.09 1116.76 1261.34 1117.58 1263.6 1118.48 1265.85 1119.45 1268.1 1120.46 1270.35 1121.52 1272.6 1122.59 1274.85 1123.66 1277.11 1124.71 1279.36 1125.74 1281.61 1126.73 1283.86 1127.66 1286.11 1128.53 1288.37 1129.33 1290.62 1130.07 1292.87 1130.73 1295.12 1131.31 1297.37 1131.83 1299.62 1132.28 1301.88 1132.66 1304.13 1132.99 1306.38 1133.26 1308.63 1133.49 1310.88 1133.68 1313.13 L1135.03 1313.13 1135.22 1310.88 1135.45 1308.63 1135.72 1306.38 1136.05 1304.13 1136.44 1301.88 1136.88 1299.62 1137.4 1297.37 1137.99 1295.12 1138.65 1292.87 1139.38 1290.62 1140.18 1288.37 1141.05 1286.11 1141.99 1283.86 1142.97 1281.61 1144 1279.36 1145.05 1277.11 1146.13 1274.85 1147.2 1272.6 1148.25 1270.35 1149.27 1268.1 1150.23 1265.85 1151.13 1263.6 1151.95 1261.34 1152.67 1259.09 1153.29 1256.84 1153.79 1254.59 1154.18 1252.34 1154.45 1250.09 1154.61 1247.83 1154.66 1245.58 1154.6 1243.33 1154.45 1241.08 1154.22 1238.83 1153.93 1236.58 1153.58 1234.32 1153.19 1232.07 1152.79 1229.82 1152.37 1227.57 1151.96 1225.32 1151.56 1223.07 1151.18 1220.81 1150.84 1218.56 1150.53 1216.31 1150.25 1214.06 1150 1211.81 1149.78 1209.55 1149.58 1207.3 1149.39 1205.05 1149.21 1202.8 1149.02 1200.55 1148.81 1198.3 1148.57 1196.04 1148.3 1193.79 1147.99 1191.54 1147.63 1189.29 1147.21 1187.04 1146.75 1184.79 1146.23 1182.53 1145.66 1180.28 1145.04 1178.03 1144.39 1175.78 1143.71 1173.53 1143.01 1171.28 1142.29 1169.02 1141.58 1166.77 1140.87 1164.52 1140.19 1162.27 1139.53 1160.02 1138.9 1157.76 1138.31 1155.51 1137.77 1153.26 1137.27 1151.01 1136.83 1148.76 1136.43 1146.51 1136.07 1144.25 1135.77 1142 1135.5 1139.75 1135.28 1137.5 1135.09 1135.25Z" fill="#74b0ea" fill-opacity="0.3" stroke="#555" stroke-opacity="0.3" stroke-width="1.3" stroke-linejoin="round"/>
<path d="M1184.14 1114.7 1183.96 1116.39 1183.73 1118.09 1183.47 1119.78 1183.16 1121.47 1182.79 1123.16 1182.37 1124.85 1181.89 1126.54 1181.36 1128.23 1180.76 1129.93 1180.1 1131.62 1179.39 1133.31 1178.62 1135 1177.81 1136.69 1176.96 1138.38 1176.08 1140.07 1175.17 1141.77 1174.26 1143.46 1173.35 1145.15 1172.46 1146.84 1171.59 1148.53 1170.77 1150.22 1170 1151.91 1169.29 1153.61 1168.66 1155.3 1168.1 1156.99 1167.63 1158.68 1167.24 1160.37 1166.92 1162.06 1166.68 1163.75 1166.5 1165.45 1166.38 1167.14 1166.29 1168.83 1166.24 1170.52 1166.19 1172.21 1166.15 1173.9 1166.11 1175.59 1166.04 1177.29 1165.96 1178.98 1165.84 1180.67 1165.71 1182.36 1165.54 1184.05 1165.37 1185.74 1165.18 1187.43 1164.99 1189.13 1164.82 1190.82 1164.67 1192.51 1164.57 1194.2 1164.51 1195.89 1164.52 1197.58 1164.6 1199.28 1164.77 1200.97 1165.03 1202.66 1165.38 1204.35 1165.84 1206.04 1166.4 1207.73 1167.06 1209.42 1167.8 1211.12 1168.63 1212.81 1169.53 1214.5 1170.48 1216.19 1171.48 1217.88 1172.51 1219.57 1173.54 1221.26 1174.58 1222.96 1175.6 1224.65 1176.59 1226.34 1177.54 1228.03 1178.43 1229.72 1179.27 1231.41 1180.04 1233.1 1180.75 1234.8 1181.38 1236.49 1181.95 1238.18 1182.44 1239.87 1182.87 1241.56 1183.24 1243.25 1183.55 1244.94 1183.81 1246.64 1184.03 1248.33 L1185.59 1248.33 1185.8 1246.64 1186.06 1244.94 1186.38 1243.25 1186.75 1241.56 1187.18 1239.87 1187.67 1238.18 1188.23 1236.49 1188.87 1234.8 1189.57 1233.1 1190.35 1231.41 1191.18 1229.72 1192.08 1228.03 1193.03 1226.34 1194.02 1224.65 1195.04 1222.96 1196.07 1221.26 1197.11 1219.57 1198.14 1217.88 1199.14 1216.19 1200.09 1214.5 1200.99 1212.81 1201.82 1211.12 1202.56 1209.42 1203.22 1207.73 1203.77 1206.04 1204.23 1204.35 1204.59 1202.66 1204.85 1200.97 1205.02 1199.28 1205.1 1197.58 1205.11 1195.89 1205.05 1194.2 1204.94 1192.51 1204.8 1190.82 1204.62 1189.13 1204.44 1187.43 1204.25 1185.74 1204.07 1184.05 1203.91 1182.36 1203.77 1180.67 1203.66 1178.98 1203.57 1177.29 1203.51 1175.59 1203.46 1173.9 1203.42 1172.21 1203.38 1170.52 1203.32 1168.83 1203.24 1167.14 1203.11 1165.45 1202.94 1163.75 1202.69 1162.06 1202.38 1160.37 1201.99 1158.68 1201.51 1156.99 1200.96 1155.3 1200.32 1153.61 1199.62 1151.91 1198.85 1150.22 1198.02 1148.53 1197.16 1146.84 1196.26 1145.15 1195.35 1143.46 1194.44 1141.77 1193.54 1140.07 1192.66 1138.38 1191.81 1136.69 1190.99 1135 1190.23 1133.31 1189.52 1131.62 1188.86 1129.93 1188.26 1128.23 1187.72 1126.54 1187.25 1124.85 1186.83 1123.16 1186.46 1121.47 1186.15 1119.78 1185.88 1118.09 1185.66 1116.39 1185.48 1114.7Z" fill="#a1eea1" fill-opacity="0.3" stroke="#555" stroke-opacity="0.3" stroke-width="1.3" stroke-linejoin="round"/>
<path d="M1234.92 1208.24 1234.74 1209.31 1234.53 1210.39 1234.28 1211.46 1233.99 1212.54 1233.66 1213.61 1233.3 1214.68 1232.89 1215.76 1232.45 1216.83 1231.97 1217.91 1231.46 1218.98 1230.94 1220.05 1230.39 1221.13 1229.84 1222.2 1229.28 1223.28 1228.73 1224.35 1228.19 1225.42 1227.67 1226.5 1227.16 1227.57 1226.68 1228.65 1226.23 1229.72 1225.8 1230.8 1225.39 1231.87 1225 1232.94 1224.64 1234.02 1224.28 1235.09 1223.94 1236.17 1223.61 1237.24 1223.28 1238.31 1222.95 1239.39 1222.63 1240.46 1222.3 1241.54 1221.97 1242.61 1221.64 1243.68 1221.3 1244.76 1220.95 1245.83 1220.58 1246.91 1220.2 1247.98 1219.8 1249.05 1219.38 1250.13 1218.95 1251.2 1218.49 1252.28 1218.02 1253.35 1217.55 1254.42 1217.09 1255.5 1216.64 1256.57 1216.23 1257.65 1215.87 1258.72 1215.58 1259.79 1215.39 1260.87 1215.29 1261.94 1215.32 1263.02 1215.48 1264.09 1215.78 1265.17 1216.22 1266.24 1216.79 1267.31 1217.48 1268.39 1218.29 1269.46 1219.2 1270.54 1220.2 1271.61 1221.25 1272.68 1222.35 1273.76 1223.46 1274.83 1224.58 1275.91 1225.68 1276.98 1226.75 1278.05 1227.77 1279.13 1228.74 1280.2 1229.64 1281.28 1230.46 1282.35 1231.22 1283.42 1231.9 1284.5 1232.5 1285.57 1233.03 1286.65 1233.49 1287.72 1233.88 1288.79 1234.22 1289.87 1234.5 1290.94 1234.73 1292.02 1234.92 1293.09 L1236.27 1293.09 1236.46 1292.02 1236.69 1290.94 1236.97 1289.87 1237.31 1288.79 1237.7 1287.72 1238.16 1286.65 1238.69 1285.57 1239.29 1284.5 1239.97 1283.42 1240.73 1282.35 1241.55 1281.28 1242.45 1280.2 1243.42 1279.13 1244.44 1278.05 1245.51 1276.98 1246.61 1275.91 1247.73 1274.83 1248.84 1273.76 1249.94 1272.68 1250.99 1271.61 1251.98 1270.54 1252.9 1269.46 1253.71 1268.39 1254.4 1267.31 1254.97 1266.24 1255.41 1265.17 1255.71 1264.09 1255.87 1263.02 1255.89 1261.94 1255.8 1260.87 1255.61 1259.79 1255.32 1258.72 1254.96 1257.65 1254.55 1256.57 1254.1 1255.5 1253.64 1254.42 1253.17 1253.35 1252.7 1252.28 1252.24 1251.2 1251.8 1250.13 1251.39 1249.05 1250.99 1247.98 1250.61 1246.91 1250.24 1245.83 1249.89 1244.76 1249.55 1243.68 1249.22 1242.61 1248.89 1241.54 1248.56 1240.46 1248.24 1239.39 1247.91 1238.31 1247.58 1237.24 1247.25 1236.17 1246.91 1235.09 1246.55 1234.02 1246.19 1232.94 1245.8 1231.87 1245.39 1230.8 1244.96 1229.72 1244.51 1228.65 1244.03 1227.57 1243.52 1226.5 1243 1225.42 1242.46 1224.35 1241.91 1223.28 1241.35 1222.2 1240.8 1221.13 1240.25 1220.05 1239.73 1218.98 1239.22 1217.91 1238.74 1216.83 1238.3 1215.76 1237.89 1214.68 1237.53 1213.61 1237.2 1212.54 1236.91 1211.46 1236.66 1210.39 1236.45 1209.31 1236.27 1208.24Z" fill="#f4c99f" fill-opacity="0.3" stroke="#555" stroke-opacity="0.3" stroke-width="1.3" stroke-linejoin="round"/>
<rect x="1078.37" y="1172.66" width="10.4" height="24.72" fill="#f2a5a5" stroke="#6f6f6f" stroke-width="1.15"/>
<path class="bx" d="M1078.37 1180.35H1088.77M1083.57 1172.66V1166.48M1081.17 1166.48H1085.97M1083.57 1197.38V1201.56M1081.17 1201.56H1085.97"/>
<rect x="1129.16" y="1199.39" width="10.4" height="55.95" fill="#74b0ea" stroke="#6f6f6f" stroke-width="1.15"/>
<path class="bx" d="M1129.16 1234.46H1139.56M1134.36 1199.39V1177.67M1131.96 1177.67H1136.76M1134.36 1255.34V1270.37M1131.96 1270.37H1136.76"/>
<rect x="1179.61" y="1166.98" width="10.4" height="33.24" fill="#a1eea1" stroke="#6f6f6f" stroke-width="1.15"/>
<path class="bx" d="M1179.61 1185.36H1190.01M1184.81 1166.98V1144.43M1182.41 1144.43H1187.21M1184.81 1200.22V1218.6M1182.41 1218.6H1187.21"/>
<rect x="1230.39" y="1247.49" width="10.4" height="16.7" fill="#f4c99f" stroke="#6f6f6f" stroke-width="1.15"/>
<path class="bx" d="M1230.39 1258.35H1240.79M1235.59 1247.49V1226.61M1233.19 1226.61H1237.99M1235.59 1264.19V1274.22M1233.19 1274.22H1237.99"/>
<g fill="#ff9999" fill-opacity="0.7">
<circle cx="1088.58" cy="1166.15" r="2.6"/>
<circle cx="1078.72" cy="1172.33" r="2.6"/>
<circle cx="1088.25" cy="1175.67" r="2.6"/>
<circle cx="1082.4" cy="1189.03" r="2.6"/>
<circle cx="1078.72" cy="1199.39" r="2.6"/>
<circle cx="1086.58" cy="1201.56" r="2.6"/>
<circle cx="1081.9" cy="1239.14" r="2.6"/>
</g>
<g fill="#66b3ff" fill-opacity="0.7">
<circle cx="1129.51" cy="1177.01" r="2.6"/>
<circle cx="1130.01" cy="1182.02" r="2.6"/>
<circle cx="1131.35" cy="1195.21" r="2.6"/>
<circle cx="1135.36" cy="1210.24" r="2.6"/>
<circle cx="1139.2" cy="1232.46" r="2.6"/>
<circle cx="1138.37" cy="1235.3" r="2.6"/>
<circle cx="1133.35" cy="1250.33" r="2.6"/>
<circle cx="1132.52" cy="1258.01" r="2.6"/>
<circle cx="1136.7" cy="1258.35" r="2.6"/>
<circle cx="1131.18" cy="1270.54" r="2.6"/>
</g>
<g fill="#99ff99" fill-opacity="0.7">
<circle cx="1181.8" cy="1144.43" r="2.6"/>
<circle cx="1188.15" cy="1158.13" r="2.6"/>
<circle cx="1181.47" cy="1161.47" r="2.6"/>
<circle cx="1179.3" cy="1184.35" r="2.6"/>
<circle cx="1188.99" cy="1202.39" r="2.6"/>
<circle cx="1180.63" cy="1208.24" r="2.6"/>
<circle cx="1181.3" cy="1219.1" r="2.6"/>
</g>
<g fill="#ffcc99" fill-opacity="0.7">
<circle cx="1235.26" cy="1226.61" r="2.6"/>
<circle cx="1231.59" cy="1234.96" r="2.6"/>
<circle cx="1234.43" cy="1245.82" r="2.6"/>
<circle cx="1233.59" cy="1263.36" r="2.6"/>
<circle cx="1234.43" cy="1265.86" r="2.6"/>
<circle cx="1237.43" cy="1274.22" r="2.6"/>
</g>
<path class="ax" d="M1058 1105.5H1262"/>
<path class="ax" d="M1058 1322.5H1262"/>
<path class="ax" d="M1058.5 1105V1323"/>
<path class="ax" style="stroke:#7d7d7d" d="M1261.5 1105V1323"/>
<path class="tk" d="M1053.9 1119.5H1058.5"/>
<text class="t" text-anchor="end" letter-spacing="-0.13" x="1050.6" y="1126.3">1.25</text>
<path class="tk" d="M1053.9 1166.5H1058.5"/>
<text class="t" text-anchor="end" letter-spacing="-0.13" x="1050.6" y="1173.3">1.00</text>
<path class="tk" d="M1053.9 1215.5H1058.5"/>
<text class="t" text-anchor="end" letter-spacing="-0.13" x="1050.6" y="1222.3">0.75</text>
<path class="tk" d="M1053.9 1264.5H1058.5"/>
<text class="t" text-anchor="end" letter-spacing="-0.13" x="1050.6" y="1271.3">0.50</text>
<path class="tk" d="M1053.9 1312.5H1058.5"/>
<text class="t" text-anchor="end" letter-spacing="-0.13" x="1050.6" y="1319.3">0.25</text>
<path class="tk" d="M1083.5 1322.5V1327.1"/>
<text class="t" text-anchor="middle" x="1083.57" y="1344.4">1</text>
<path class="tk" d="M1134.5 1322.5V1327.1"/>
<text class="t" text-anchor="middle" x="1134.36" y="1344.4">2</text>
<path class="tk" d="M1184.5 1322.5V1327.1"/>
<text class="t" text-anchor="middle" x="1184.81" y="1344.4">3</text>
<path class="tk" d="M1235.5 1322.5V1327.1"/>
<text class="t" text-anchor="middle" x="1235.59" y="1344.4">4</text>
<text class="t" text-anchor="middle" x="1160" y="1367.1">Group</text>
<text class="t" text-anchor="middle" transform="translate(1007.27 1215.3) rotate(-90)" x="0" y="0">MAPE</text>
</g>
</svg></body></html>
